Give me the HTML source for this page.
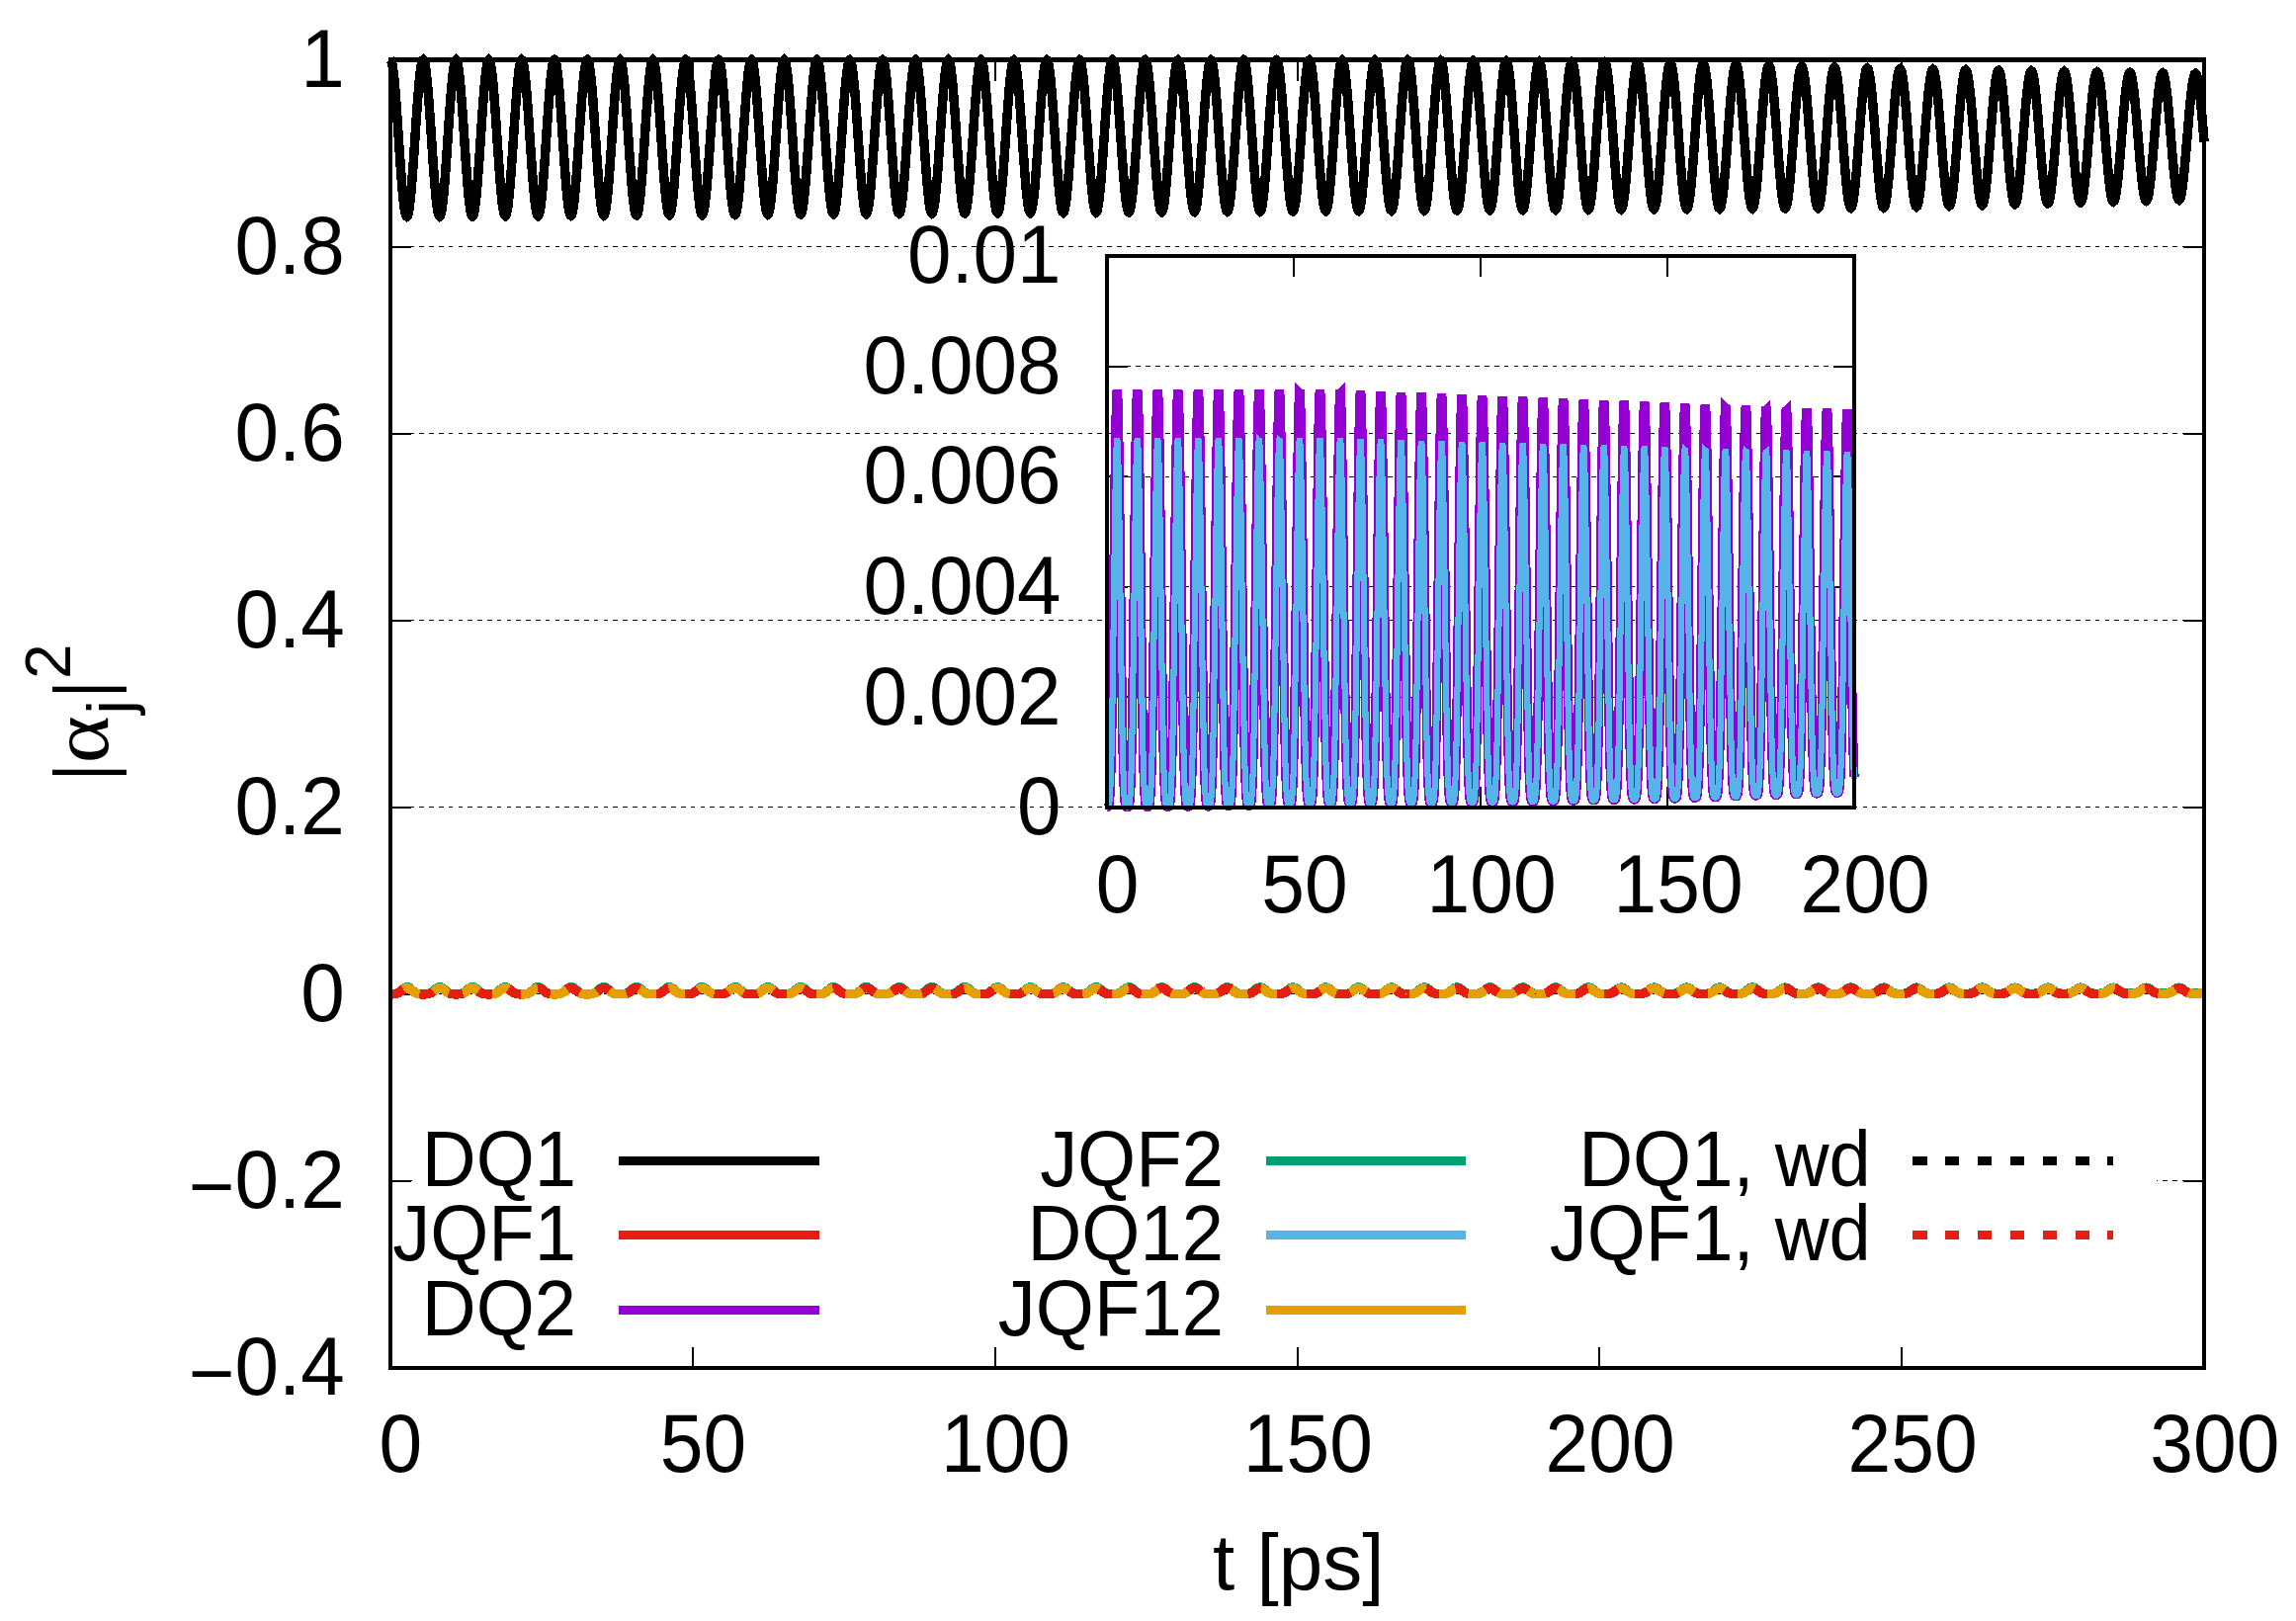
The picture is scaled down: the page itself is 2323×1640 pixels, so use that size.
<!DOCTYPE html>
<html lang="en"><head><meta charset="utf-8"><title>|alpha_j|^2 vs t</title>
<style>html,body{margin:0;padding:0;background:#fff}svg{display:block}text{font-family:"Liberation Sans", Arial, Helvetica, sans-serif;fill:#000}.t{font-size:80px}.k{font-size:76px}.s{font-size:64px}.g{stroke:#000;stroke-width:1;stroke-dasharray:4.6 5.2;fill:none}.tk{stroke:#000;stroke-width:2;fill:none}.c{fill:none;stroke-width:9.5;stroke-linejoin:miter;stroke-miterlimit:3.8;stroke-linecap:butt;shape-rendering:crispEdges}</style></head><body>
<svg width="2323" height="1640" viewBox="0 0 2323 1640" shape-rendering="crispEdges">
<rect x="0" y="0" width="2323" height="1640" fill="#ffffff"/>
<g class="g">
<line x1="395.0" y1="249.5" x2="2230.1" y2="249.5"/>
<line x1="395.0" y1="438.6" x2="2230.1" y2="438.6"/>
<line x1="395.0" y1="627.6" x2="2230.1" y2="627.6"/>
<line x1="395.0" y1="816.7" x2="2230.1" y2="816.7"/>
<line x1="395.0" y1="1005.8" x2="2230.1" y2="1005.8"/>
<line x1="395.0" y1="1194.8" x2="2230.1" y2="1194.8"/>
</g>
<rect x="417" y="1150" width="1765" height="90" fill="#ffffff"/>
<g class="tk">
<line x1="395.0" y1="249.5" x2="416.0" y2="249.5"/>
<line x1="2230.1" y1="249.5" x2="2209.1" y2="249.5"/>
<line x1="395.0" y1="438.6" x2="416.0" y2="438.6"/>
<line x1="2230.1" y1="438.6" x2="2209.1" y2="438.6"/>
<line x1="395.0" y1="627.6" x2="416.0" y2="627.6"/>
<line x1="2230.1" y1="627.6" x2="2209.1" y2="627.6"/>
<line x1="395.0" y1="816.7" x2="416.0" y2="816.7"/>
<line x1="2230.1" y1="816.7" x2="2209.1" y2="816.7"/>
<line x1="395.0" y1="1005.8" x2="416.0" y2="1005.8"/>
<line x1="2230.1" y1="1005.8" x2="2209.1" y2="1005.8"/>
<line x1="395.0" y1="1194.8" x2="416.0" y2="1194.8"/>
<line x1="2230.1" y1="1194.8" x2="2209.1" y2="1194.8"/>
<line x1="700.8" y1="1383.9" x2="700.8" y2="1362.9"/>
<line x1="700.8" y1="60.5" x2="700.8" y2="81.5"/>
<line x1="1006.7" y1="1383.9" x2="1006.7" y2="1362.9"/>
<line x1="1006.7" y1="60.5" x2="1006.7" y2="81.5"/>
<line x1="1312.5" y1="1383.9" x2="1312.5" y2="1362.9"/>
<line x1="1312.5" y1="60.5" x2="1312.5" y2="81.5"/>
<line x1="1618.4" y1="1383.9" x2="1618.4" y2="1362.9"/>
<line x1="1618.4" y1="60.5" x2="1618.4" y2="81.5"/>
<line x1="1924.2" y1="1383.9" x2="1924.2" y2="1362.9"/>
<line x1="1924.2" y1="60.5" x2="1924.2" y2="81.5"/>
</g>
<g class="c">
<polyline stroke="#000000" points="395.00,60.45 395.61,60.99 396.23,62.59 396.84,65.23 397.46,68.89 398.07,73.50 398.69,79.00 399.30,85.33 399.92,92.40 400.53,100.10 401.15,108.34 401.76,117.00 402.38,125.97 402.99,135.13 403.61,144.35 404.22,153.50 404.84,162.47 405.45,171.13 406.07,179.37 406.68,187.07 407.30,194.13 407.91,200.45 408.53,205.95 409.14,210.56 409.76,214.21 410.37,216.84 410.99,218.44 411.60,218.97 412.22,218.43 412.83,216.83 413.45,214.18 414.06,210.53 414.68,205.92 415.29,200.41 415.91,194.08 416.52,187.02 417.14,179.32 417.75,171.08 418.37,162.42 418.98,153.45 419.60,144.30 420.21,135.08 420.83,125.93 421.44,116.97 422.06,108.31 422.67,100.07 423.29,92.38 423.90,85.32 424.52,79.00 425.13,73.50 425.75,68.89 426.36,65.24 426.98,62.60 427.59,61.00 428.21,60.47 428.82,61.00 429.44,62.60 430.05,65.24 430.66,68.89 431.28,73.49 431.89,78.99 432.51,85.31 433.12,92.37 433.74,100.06 434.35,108.29 434.97,116.94 435.58,125.90 436.20,135.04 436.81,144.25 437.43,153.39 438.04,162.35 438.66,171.00 439.27,179.22 439.89,186.91 440.50,193.96 441.12,200.27 441.73,205.77 442.35,210.37 442.96,214.01 443.58,216.65 444.19,218.24 444.81,218.77 445.42,218.23 446.04,216.63 446.65,213.99 447.27,210.34 447.88,205.73 448.50,200.24 449.11,193.92 449.73,186.86 450.34,179.17 450.96,170.95 451.57,162.30 452.19,153.34 452.80,144.20 453.42,135.00 454.03,125.86 454.65,116.90 455.26,108.26 455.88,100.03 456.49,92.35 457.11,85.30 457.72,78.99 458.34,73.49 458.95,68.89 459.57,65.25 460.18,62.61 460.80,61.01 461.41,60.48 462.03,61.02 462.64,62.61 463.26,65.25 463.87,68.89 464.49,73.49 465.10,78.98 465.71,85.29 466.33,92.34 466.94,100.02 467.56,108.24 468.17,116.88 468.79,125.82 469.40,134.96 470.02,144.15 470.63,153.28 471.25,162.22 471.86,170.86 472.48,179.07 473.09,186.75 473.71,193.79 474.32,200.10 474.94,205.58 475.55,210.18 476.17,213.81 476.78,216.45 477.40,218.04 478.01,218.57 478.63,218.03 479.24,216.43 479.86,213.79 480.47,210.15 481.09,205.55 481.70,200.06 482.32,193.75 482.93,186.71 483.55,179.03 484.16,170.81 484.78,162.17 485.39,153.23 486.01,144.10 486.62,134.91 487.24,125.78 487.85,116.84 488.47,108.21 489.08,100.00 489.70,92.32 490.31,85.28 490.93,78.98 491.54,73.49 492.16,68.90 492.77,65.26 493.39,62.62 494.00,61.03 494.62,60.50 495.23,61.03 495.85,62.62 496.46,65.26 497.08,68.90 497.69,73.49 498.31,78.97 498.92,85.28 499.53,92.31 500.15,99.98 500.76,108.19 501.38,116.82 501.99,125.75 502.61,134.87 503.22,144.05 503.84,153.17 504.45,162.10 505.07,170.72 505.68,178.93 506.30,186.59 506.91,193.62 507.53,199.92 508.14,205.40 508.76,209.99 509.37,213.62 509.99,216.25 510.60,217.84 511.22,218.37 511.83,217.83 512.45,216.23 513.06,213.60 513.68,209.96 514.29,205.37 514.91,199.88 515.52,193.58 516.14,186.55 516.75,178.88 517.37,170.67 517.98,162.05 518.60,153.12 519.21,144.00 519.83,134.82 520.44,125.71 521.06,116.78 521.67,108.16 522.29,99.96 522.90,92.29 523.52,85.26 524.13,78.97 524.75,73.49 525.36,68.90 525.98,65.27 526.59,62.64 527.21,61.04 527.82,60.51 528.44,61.04 529.05,62.64 529.67,65.27 530.28,68.90 530.90,73.49 531.51,78.96 532.13,85.26 532.74,92.28 533.36,99.94 533.97,108.14 534.58,116.75 535.20,125.68 535.81,134.78 536.43,143.95 537.04,153.05 537.66,161.97 538.27,170.59 538.89,178.78 539.50,186.44 540.12,193.46 540.73,199.74 541.35,205.22 541.96,209.80 542.58,213.42 543.19,216.05 543.81,217.64 544.42,218.17 545.04,217.63 545.65,216.03 546.27,213.40 546.88,209.77 547.50,205.18 548.11,199.71 548.73,193.41 549.34,186.39 549.96,178.73 550.57,170.54 551.19,161.92 551.80,153.01 552.42,143.90 553.03,134.74 553.65,125.63 554.26,116.72 554.88,108.11 555.49,99.92 556.11,92.26 556.72,85.24 557.34,78.96 557.95,73.48 558.57,68.90 559.18,65.28 559.80,62.65 560.41,61.06 561.03,60.53 561.64,61.06 562.26,62.65 562.87,65.28 563.49,68.90 564.10,73.48 564.72,78.95 565.33,85.24 565.95,92.25 566.56,99.90 567.18,108.09 567.79,116.69 568.41,125.60 569.02,134.69 569.63,143.85 570.25,152.94 570.86,161.85 571.48,170.45 572.09,178.63 572.71,186.28 573.32,193.29 573.94,199.57 574.55,205.03 575.17,209.61 575.78,213.23 576.40,215.85 577.01,217.44 577.63,217.96 578.24,217.43 578.86,215.84 579.47,213.21 580.09,209.58 580.70,205.00 581.32,199.53 581.93,193.25 582.55,186.23 583.16,178.58 583.78,170.40 584.39,161.80 585.01,152.89 585.62,143.80 586.24,134.65 586.85,125.56 587.47,116.65 588.08,108.06 588.70,99.88 589.31,92.23 589.93,85.22 590.54,78.95 591.16,73.48 591.77,68.91 592.39,65.28 593.00,62.66 593.62,61.07 594.23,60.54 594.85,61.07 595.46,62.66 596.08,65.28 596.69,68.91 597.31,73.48 597.92,78.94 598.54,85.22 599.15,92.22 599.77,99.86 600.38,108.04 601.00,116.63 601.61,125.53 602.23,134.61 602.84,143.75 603.46,152.83 604.07,161.73 604.68,170.32 605.30,178.48 605.91,186.12 606.53,193.12 607.14,199.39 607.76,204.85 608.37,209.42 608.99,213.03 609.60,215.65 610.22,217.24 610.83,217.76 611.45,217.23 612.06,215.64 612.68,213.01 613.29,209.39 613.91,204.81 614.52,199.35 615.14,193.08 615.75,186.07 616.37,178.43 616.98,170.27 617.60,161.68 618.21,152.78 618.83,143.70 619.44,134.56 620.06,125.48 620.67,116.59 621.29,108.00 621.90,99.84 622.52,92.20 623.13,85.20 623.75,78.93 624.36,73.48 624.98,68.91 625.59,65.29 626.21,62.67 626.82,61.09 627.44,60.56 628.05,61.09 628.67,62.67 629.28,65.29 629.90,68.91 630.51,73.48 631.13,78.93 631.74,85.20 632.36,92.20 632.97,99.83 633.59,107.99 634.20,116.57 634.82,125.45 635.43,134.52 636.05,143.65 636.66,152.72 637.28,161.60 637.89,170.18 638.51,178.34 639.12,185.96 639.73,192.95 640.35,199.22 640.96,204.66 641.58,209.23 642.19,212.84 642.81,215.45 643.42,217.03 644.04,217.56 644.65,217.03 645.27,215.44 645.88,212.82 646.50,209.20 647.11,204.63 647.73,199.18 648.34,192.91 648.96,185.92 649.57,178.29 650.19,170.13 650.80,161.55 651.42,152.67 652.03,143.60 652.65,134.48 653.26,125.41 653.88,116.53 654.49,107.95 655.11,99.80 655.72,92.18 656.34,85.19 656.95,78.92 657.57,73.48 658.18,68.91 658.80,65.30 659.41,62.68 660.03,61.10 660.64,60.57 661.26,61.10 661.87,62.69 662.49,65.30 663.10,68.91 663.72,73.48 664.33,78.92 664.95,85.18 665.56,92.17 666.18,99.79 666.79,107.94 667.41,116.50 668.02,125.38 668.64,134.43 669.25,143.55 669.87,152.61 670.48,161.48 671.10,170.04 671.71,178.19 672.33,185.80 672.94,192.79 673.55,199.04 674.17,204.48 674.78,209.04 675.40,212.64 676.01,215.25 676.63,216.83 677.24,217.36 677.86,216.83 678.47,215.24 679.09,212.62 679.70,209.01 680.32,204.45 680.93,199.00 681.55,192.74 682.16,185.76 682.78,178.14 683.39,169.99 684.01,161.43 684.62,152.56 685.24,143.50 685.85,134.39 686.47,125.34 687.08,116.47 687.70,107.90 688.31,99.76 688.93,92.15 689.54,85.17 690.16,78.91 690.77,73.47 691.39,68.92 692.00,65.31 692.62,62.70 693.23,61.12 693.85,60.59 694.46,61.12 695.08,62.70 695.69,65.31 696.31,68.92 696.92,73.47 697.54,78.91 698.15,85.16 698.77,92.14 699.38,99.75 700.00,107.89 700.61,116.44 701.23,125.30 701.84,134.35 702.46,143.45 703.07,152.49 703.69,161.35 704.30,169.91 704.92,178.04 705.53,185.65 706.15,192.62 706.76,198.86 707.38,204.30 707.99,208.84 708.60,212.45 709.22,215.05 709.83,216.63 710.45,217.16 711.06,216.62 711.68,215.04 712.29,212.43 712.91,208.82 713.52,204.26 714.14,198.82 714.75,192.57 715.37,185.60 715.98,177.99 716.60,169.86 717.21,161.30 717.83,152.44 718.44,143.40 719.06,134.30 719.67,125.26 720.29,116.41 720.90,107.85 721.52,99.72 722.13,92.12 722.75,85.15 723.36,78.90 723.98,73.47 724.59,68.92 725.21,65.32 725.82,62.71 726.44,61.13 727.05,60.60 727.67,61.13 728.28,62.71 728.90,65.32 729.51,68.92 730.13,73.47 730.74,78.90 731.36,85.14 731.97,92.11 732.59,99.71 733.20,107.83 733.82,116.38 734.43,125.23 735.05,134.26 735.66,143.35 736.28,152.38 736.89,161.23 737.51,169.77 738.12,177.89 738.74,185.49 739.35,192.45 739.97,198.69 740.58,204.11 741.20,208.65 741.81,212.25 742.43,214.86 743.04,216.43 743.65,216.96 744.27,216.42 744.88,214.84 745.50,212.23 746.11,208.63 746.73,204.08 747.34,198.65 747.96,192.41 748.57,185.44 749.19,177.84 749.80,169.72 750.42,161.18 751.03,152.33 751.65,143.30 752.26,134.21 752.88,125.19 753.49,116.34 754.11,107.80 754.72,99.68 755.34,92.09 755.95,85.13 756.57,78.89 757.18,73.47 757.80,68.93 758.41,65.33 759.03,62.72 759.64,61.14 760.26,60.62 760.87,61.14 761.49,62.72 762.10,65.33 762.72,68.93 763.33,73.47 763.95,78.89 764.56,85.12 765.18,92.08 765.79,99.67 766.41,107.78 767.02,116.32 767.64,125.15 768.25,134.17 768.87,143.25 769.48,152.27 770.10,161.10 770.71,169.63 771.33,177.75 771.94,185.33 772.56,192.28 773.17,198.51 773.79,203.93 774.40,208.46 775.02,212.06 775.63,214.66 776.25,216.23 776.86,216.75 777.48,216.22 778.09,214.64 778.70,212.03 779.32,208.44 779.93,203.89 780.55,198.47 781.16,192.24 781.78,185.28 782.39,177.70 783.01,169.58 783.62,161.05 784.24,152.22 784.85,143.20 785.47,134.13 786.08,125.11 786.70,116.28 787.31,107.75 787.93,99.64 788.54,92.06 789.16,85.11 789.77,78.88 790.39,73.47 791.00,68.93 791.62,65.34 792.23,62.73 792.85,61.16 793.46,60.63 794.08,61.16 794.69,62.73 795.31,65.34 795.92,68.93 796.54,73.46 797.15,78.88 797.77,85.11 798.38,92.05 799.00,99.63 799.61,107.73 800.23,116.26 800.84,125.08 801.46,134.09 802.07,143.15 802.69,152.16 803.30,160.98 803.92,169.50 804.53,177.60 805.15,185.17 805.76,192.11 806.38,198.33 806.99,203.74 807.61,208.27 808.22,211.86 808.84,214.46 809.45,216.03 810.07,216.55 810.68,216.02 811.30,214.44 811.91,211.84 812.53,208.25 813.14,203.71 813.75,198.29 814.37,192.07 814.98,185.12 815.60,177.55 816.21,169.45 816.83,160.93 817.44,152.11 818.06,143.10 818.67,134.04 819.29,125.04 819.90,116.22 820.52,107.70 821.13,99.60 821.75,92.03 822.36,85.09 822.98,78.87 823.59,73.46 824.21,68.93 824.82,65.34 825.44,62.75 826.05,61.17 826.67,60.65 827.28,61.17 827.90,62.75 828.51,65.34 829.13,68.93 829.74,73.46 830.36,78.87 830.97,85.09 831.59,92.02 832.20,99.59 832.82,107.68 833.43,116.19 834.05,125.00 834.66,134.00 835.28,143.05 835.89,152.05 836.51,160.85 837.12,169.36 837.74,177.45 838.35,185.01 838.97,191.95 839.58,198.16 840.20,203.56 840.81,208.08 841.43,211.67 842.04,214.26 842.66,215.83 843.27,216.35 843.89,215.82 844.50,214.24 845.12,211.64 845.73,208.06 846.35,203.53 846.96,198.12 847.57,191.90 848.19,184.97 848.80,177.40 849.42,169.31 850.03,160.80 850.65,152.00 851.26,143.00 851.88,133.95 852.49,124.96 853.11,116.16 853.72,107.65 854.34,99.56 854.95,92.00 855.57,85.07 856.18,78.86 856.80,73.46 857.41,68.94 858.03,65.35 858.64,62.76 859.26,61.19 859.87,60.66 860.49,61.19 861.10,62.76 861.72,65.35 862.33,68.94 862.95,73.46 863.56,78.86 864.18,85.07 864.79,92.00 865.41,99.55 866.02,107.63 866.64,116.13 867.25,124.93 867.87,133.91 868.48,142.95 869.10,151.93 869.71,160.73 870.33,169.22 870.94,177.30 871.56,184.85 872.17,191.78 872.79,197.98 873.40,203.38 874.02,207.89 874.63,211.47 875.25,214.06 875.86,215.63 876.48,216.15 877.09,215.62 877.71,214.05 878.32,211.45 878.94,207.87 879.55,203.34 880.17,197.94 880.78,191.73 881.40,184.81 882.01,177.25 882.62,169.17 883.24,160.68 883.85,151.88 884.47,142.90 885.08,133.87 885.70,124.89 886.31,116.09 886.93,107.60 887.54,99.53 888.16,91.98 888.77,85.05 889.39,78.85 890.00,73.46 890.62,68.94 891.23,65.36 891.85,62.77 892.46,61.20 893.08,60.68 893.69,61.20 894.31,62.77 894.92,65.36 895.54,68.94 896.15,73.46 896.77,78.85 897.38,85.05 898.00,91.97 898.61,99.51 899.23,107.58 899.84,116.07 900.46,124.86 901.07,133.82 901.69,142.85 902.30,151.82 902.92,160.61 903.53,169.09 904.15,177.16 904.76,184.70 905.38,191.61 905.99,197.80 906.61,203.19 907.22,207.70 907.84,211.28 908.45,213.86 909.07,215.43 909.68,215.95 910.30,215.42 910.91,213.85 911.53,211.25 912.14,207.67 912.76,203.16 913.37,197.76 913.99,191.57 914.60,184.65 915.22,177.11 915.83,169.04 916.45,160.55 917.06,151.77 917.67,142.80 918.29,133.78 918.90,124.81 919.52,116.03 920.13,107.55 920.75,99.49 921.36,91.95 921.98,85.03 922.59,78.84 923.21,73.45 923.82,68.94 924.44,65.37 925.05,62.78 925.67,61.22 926.28,60.69 926.90,61.22 927.51,62.78 928.13,65.37 928.74,68.94 929.36,73.45 929.97,78.84 930.59,85.03 931.20,91.94 931.82,99.47 932.43,107.53 933.05,116.01 933.66,124.78 934.28,133.74 934.89,142.75 935.51,151.71 936.12,160.48 936.74,168.95 937.35,177.01 937.97,184.54 938.58,191.44 939.20,197.63 939.81,203.01 940.43,207.51 941.04,211.08 941.66,213.66 942.27,215.22 942.89,215.74 943.50,215.22 944.12,213.65 944.73,211.06 945.35,207.48 945.96,202.97 946.58,197.59 947.19,191.40 947.81,184.49 948.42,176.96 949.04,168.90 949.65,160.43 950.27,151.66 950.88,142.71 951.50,133.69 952.11,124.74 952.72,115.97 953.34,107.50 953.95,99.45 954.57,91.92 955.18,85.02 955.80,78.83 956.41,73.45 957.03,68.95 957.64,65.38 958.26,62.79 958.87,61.23 959.49,60.71 960.10,61.23 960.72,62.80 961.33,65.38 961.95,68.95 962.56,73.45 963.18,78.83 963.79,85.01 964.41,91.91 965.02,99.43 965.64,107.48 966.25,115.94 966.87,124.71 967.48,133.65 968.10,142.65 968.71,151.60 969.33,160.36 969.94,168.82 970.56,176.86 971.17,184.38 971.79,191.28 972.40,197.45 973.02,202.82 973.63,207.32 974.25,210.88 974.86,213.46 975.48,215.02 976.09,215.54 976.71,215.02 977.32,213.45 977.94,210.86 978.55,207.29 979.17,202.79 979.78,197.41 980.40,191.23 981.01,184.33 981.63,176.81 982.24,168.77 982.86,160.31 983.47,151.55 984.09,142.61 984.70,133.60 985.32,124.66 985.93,115.91 986.55,107.45 987.16,99.41 987.77,91.89 988.39,85.00 989.00,78.82 989.62,73.45 990.23,68.95 990.85,65.39 991.46,62.81 992.08,61.24 992.69,60.72 993.31,61.25 993.92,62.81 994.54,65.39 995.15,68.95 995.77,73.45 996.38,78.82 997.00,84.99 997.61,91.88 998.23,99.40 998.84,107.43 999.46,115.88 1000.07,124.63 1000.69,133.56 1001.30,142.55 1001.92,151.48 1002.53,160.23 1003.15,168.68 1003.76,176.71 1004.38,184.22 1004.99,191.11 1005.61,197.27 1006.22,202.64 1006.84,207.13 1007.45,210.69 1008.07,213.26 1008.68,214.82 1009.30,215.34 1009.91,214.81 1010.53,213.25 1011.14,210.67 1011.76,207.10 1012.37,202.61 1012.99,197.24 1013.60,191.06 1014.22,184.18 1014.83,176.66 1015.45,168.63 1016.06,160.18 1016.68,151.43 1017.29,142.51 1017.91,133.52 1018.52,124.59 1019.14,115.85 1019.75,107.40 1020.37,99.37 1020.98,91.86 1021.59,84.98 1022.21,78.81 1022.82,73.45 1023.44,68.95 1024.05,65.40 1024.67,62.82 1025.28,61.26 1025.90,60.74 1026.51,61.26 1027.13,62.82 1027.74,65.40 1028.36,68.95 1028.97,73.45 1029.59,78.81 1030.20,84.97 1030.82,91.85 1031.43,99.36 1032.05,107.38 1032.66,115.82 1033.28,124.56 1033.89,133.48 1034.51,142.45 1035.12,151.37 1035.74,160.11 1036.35,168.54 1036.97,176.56 1037.58,184.06 1038.20,190.94 1038.81,197.10 1039.43,202.46 1040.04,206.94 1040.66,210.49 1041.27,213.07 1041.89,214.62 1042.50,215.14 1043.12,214.61 1043.73,213.05 1044.35,210.47 1044.96,206.91 1045.58,202.42 1046.19,197.06 1046.81,190.90 1047.42,184.02 1048.04,176.52 1048.65,168.49 1049.27,160.06 1049.88,151.32 1050.50,142.41 1051.11,133.43 1051.73,124.52 1052.34,115.78 1052.96,107.35 1053.57,99.33 1054.19,91.83 1054.80,84.96 1055.42,78.80 1056.03,73.44 1056.64,68.96 1057.26,65.40 1057.87,62.83 1058.49,61.27 1059.10,60.75 1059.72,61.27 1060.33,62.83 1060.95,65.40 1061.56,68.96 1062.18,73.44 1062.79,78.80 1063.41,84.95 1064.02,91.82 1064.64,99.32 1065.25,107.33 1065.87,115.76 1066.48,124.48 1067.10,133.39 1067.71,142.35 1068.33,151.26 1068.94,159.98 1069.56,168.41 1070.17,176.42 1070.79,183.91 1071.40,190.77 1072.02,196.92 1072.63,202.27 1073.25,206.75 1073.86,210.30 1074.48,212.87 1075.09,214.42 1075.71,214.94 1076.32,214.41 1076.94,212.85 1077.55,210.28 1078.17,206.72 1078.78,202.24 1079.40,196.88 1080.01,190.73 1080.63,183.86 1081.24,176.37 1081.86,168.36 1082.47,159.93 1083.09,151.21 1083.70,142.31 1084.32,133.34 1084.93,124.44 1085.55,115.72 1086.16,107.30 1086.78,99.29 1087.39,91.80 1088.01,84.94 1088.62,78.79 1089.24,73.44 1089.85,68.96 1090.47,65.41 1091.08,62.84 1091.69,61.29 1092.31,60.77 1092.92,61.29 1093.54,62.84 1094.15,65.41 1094.77,68.96 1095.38,73.44 1096.00,78.79 1096.61,84.93 1097.23,91.80 1097.84,99.28 1098.46,107.28 1099.07,115.70 1099.69,124.41 1100.30,133.30 1100.92,142.25 1101.53,151.15 1102.15,159.86 1102.76,168.27 1103.38,176.27 1103.99,183.75 1104.61,190.60 1105.22,196.74 1105.84,202.09 1106.45,206.56 1107.07,210.10 1107.68,212.67 1108.30,214.22 1108.91,214.74 1109.53,214.21 1110.14,212.65 1110.76,210.08 1111.37,206.53 1111.99,202.05 1112.60,196.71 1113.22,190.56 1113.83,183.70 1114.45,176.22 1115.06,168.22 1115.68,159.81 1116.29,151.10 1116.91,142.21 1117.52,133.26 1118.14,124.37 1118.75,115.66 1119.37,107.25 1119.98,99.25 1120.60,91.78 1121.21,84.92 1121.83,78.78 1122.44,73.44 1123.06,68.96 1123.67,65.42 1124.29,62.86 1124.90,61.30 1125.52,60.78 1126.13,61.30 1126.74,62.86 1127.36,65.42 1127.97,68.96 1128.59,73.44 1129.20,78.78 1129.82,84.92 1130.43,91.77 1131.05,99.24 1131.66,107.23 1132.28,115.63 1132.89,124.33 1133.51,133.21 1134.12,142.16 1134.74,151.04 1135.35,159.73 1135.97,168.13 1136.58,176.12 1137.20,183.59 1137.81,190.44 1138.43,196.57 1139.04,201.90 1139.66,206.37 1140.27,209.91 1140.89,212.47 1141.50,214.02 1142.12,214.53 1142.73,214.01 1143.35,212.45 1143.96,209.89 1144.58,206.34 1145.19,201.87 1145.81,196.53 1146.42,190.39 1147.04,183.54 1147.65,176.07 1148.27,168.08 1148.88,159.68 1149.50,150.99 1150.11,142.11 1150.73,133.17 1151.34,124.29 1151.96,115.60 1152.57,107.20 1153.19,99.21 1153.80,91.75 1154.42,84.90 1155.03,78.77 1155.65,73.43 1156.26,68.97 1156.88,65.43 1157.49,62.87 1158.11,61.32 1158.72,60.80 1159.34,61.32 1159.95,62.87 1160.57,65.43 1161.18,68.97 1161.79,73.43 1162.41,78.77 1163.02,84.90 1163.64,91.74 1164.25,99.20 1164.87,107.18 1165.48,115.57 1166.10,124.26 1166.71,133.13 1167.33,142.06 1167.94,150.92 1168.56,159.61 1169.17,168.00 1169.79,175.97 1170.40,183.43 1171.02,190.27 1171.63,196.39 1172.25,201.72 1172.86,206.18 1173.48,209.71 1174.09,212.27 1174.71,213.82 1175.32,214.33 1175.94,213.81 1176.55,212.26 1177.17,209.69 1177.78,206.15 1178.40,201.69 1179.01,196.35 1179.63,190.22 1180.24,183.38 1180.86,175.93 1181.47,167.95 1182.09,159.56 1182.70,150.87 1183.32,142.01 1183.93,133.08 1184.55,124.22 1185.16,115.53 1185.78,107.15 1186.39,99.17 1187.01,91.72 1187.62,84.88 1188.24,78.76 1188.85,73.43 1189.47,68.97 1190.08,65.44 1190.70,62.88 1191.31,61.33 1191.93,60.81 1192.54,61.33 1193.16,62.88 1193.77,65.44 1194.39,68.97 1195.00,73.43 1195.61,78.76 1196.23,84.88 1196.84,91.71 1197.46,99.16 1198.07,107.13 1198.69,115.51 1199.30,124.18 1199.92,133.04 1200.53,141.96 1201.15,150.81 1201.76,159.48 1202.38,167.86 1202.99,175.83 1203.61,183.27 1204.22,190.10 1204.84,196.22 1205.45,201.54 1206.07,205.99 1206.68,209.52 1207.30,212.07 1207.91,213.62 1208.53,214.13 1209.14,213.61 1209.76,212.06 1210.37,209.50 1210.99,205.96 1211.60,201.50 1212.22,196.18 1212.83,190.06 1213.45,183.23 1214.06,175.78 1214.68,167.81 1215.29,159.43 1215.91,150.76 1216.52,141.91 1217.14,133.00 1217.75,124.14 1218.37,115.47 1218.98,107.10 1219.60,99.13 1220.21,91.69 1220.83,84.86 1221.44,78.75 1222.06,73.43 1222.67,68.97 1223.29,65.45 1223.90,62.89 1224.52,61.35 1225.13,60.83 1225.75,61.35 1226.36,62.89 1226.98,65.45 1227.59,68.98 1228.21,73.43 1228.82,78.75 1229.44,84.86 1230.05,91.68 1230.66,99.12 1231.28,107.08 1231.89,115.45 1232.51,124.11 1233.12,132.95 1233.74,141.86 1234.35,150.70 1234.97,159.36 1235.58,167.73 1236.20,175.68 1236.81,183.12 1237.43,189.93 1238.04,196.04 1238.66,201.35 1239.27,205.80 1239.89,209.32 1240.50,211.87 1241.12,213.41 1241.73,213.93 1242.35,213.41 1242.96,211.86 1243.58,209.30 1244.19,205.77 1244.81,201.32 1245.42,196.00 1246.04,189.89 1246.65,183.07 1247.27,175.63 1247.88,167.67 1248.50,159.31 1249.11,150.65 1249.73,141.81 1250.34,132.91 1250.96,124.07 1251.57,115.41 1252.19,107.05 1252.80,99.10 1253.42,91.66 1254.03,84.84 1254.65,78.74 1255.26,73.43 1255.88,68.98 1256.49,65.45 1257.11,62.90 1257.72,61.36 1258.34,60.84 1258.95,61.36 1259.57,62.90 1260.18,65.46 1260.80,68.98 1261.41,73.43 1262.03,78.74 1262.64,84.84 1263.26,91.65 1263.87,99.08 1264.49,107.03 1265.10,115.38 1265.71,124.04 1266.33,132.87 1266.94,141.76 1267.56,150.59 1268.17,159.24 1268.79,167.59 1269.40,175.53 1270.02,182.96 1270.63,189.76 1271.25,195.86 1271.86,201.17 1272.48,205.61 1273.09,209.13 1273.71,211.67 1274.32,213.21 1274.94,213.73 1275.55,213.21 1276.17,211.66 1276.78,209.11 1277.40,205.58 1278.01,201.13 1278.63,195.82 1279.24,189.72 1279.86,182.91 1280.47,175.48 1281.09,167.54 1281.70,159.19 1282.32,150.54 1282.93,141.71 1283.55,132.82 1284.16,123.99 1284.78,115.35 1285.39,107.00 1286.01,99.06 1286.62,91.63 1287.24,84.83 1287.85,78.73 1288.47,73.42 1289.08,68.98 1289.70,65.46 1290.31,62.92 1290.93,61.37 1291.54,60.86 1292.16,61.37 1292.77,62.92 1293.39,65.46 1294.00,68.98 1294.62,73.42 1295.23,78.73 1295.85,84.82 1296.46,91.62 1297.08,99.04 1297.69,106.98 1298.31,115.32 1298.92,123.96 1299.54,132.78 1300.15,141.66 1300.76,150.47 1301.38,159.11 1301.99,167.45 1302.61,175.38 1303.22,182.80 1303.84,189.60 1304.45,195.69 1305.07,200.98 1305.68,205.42 1306.30,208.93 1306.91,211.47 1307.53,213.01 1308.14,213.52 1308.76,213.00 1309.37,211.46 1309.99,208.91 1310.60,205.39 1311.22,200.95 1311.83,195.65 1312.45,189.55 1313.06,182.75 1313.68,175.34 1314.29,167.40 1314.91,159.06 1315.52,150.42 1316.14,141.61 1316.75,132.73 1317.37,123.92 1317.98,115.29 1318.60,106.95 1319.21,99.02 1319.83,91.60 1320.44,84.81 1321.06,78.72 1321.67,73.42 1322.29,68.99 1322.90,65.47 1323.52,62.93 1324.13,61.39 1324.75,60.87 1325.36,61.39 1325.98,62.93 1326.59,65.47 1327.21,68.99 1327.82,73.42 1328.44,78.72 1329.05,84.80 1329.67,91.60 1330.28,99.01 1330.90,106.93 1331.51,115.26 1332.13,123.89 1332.74,132.69 1333.36,141.56 1333.97,150.37 1334.59,158.99 1335.20,167.32 1335.81,175.24 1336.43,182.65 1337.04,189.43 1337.66,195.52 1338.27,200.81 1338.89,205.24 1339.50,208.74 1340.12,211.28 1340.73,212.82 1341.35,213.33 1341.96,212.81 1342.58,211.27 1343.19,208.72 1343.81,205.21 1344.42,200.77 1345.04,195.48 1345.65,189.39 1346.27,182.60 1346.88,175.19 1347.50,167.27 1348.11,158.94 1348.73,150.32 1349.34,141.51 1349.96,132.65 1350.57,123.85 1351.19,115.23 1351.80,106.90 1352.42,98.98 1353.03,91.58 1353.65,84.79 1354.26,78.71 1354.88,73.42 1355.49,68.99 1356.11,65.48 1356.72,62.94 1357.34,61.40 1357.95,60.89 1358.57,61.40 1359.18,62.94 1359.80,65.48 1360.41,68.99 1361.03,73.42 1361.64,78.71 1362.26,84.79 1362.87,91.57 1363.49,98.97 1364.10,106.88 1364.72,115.20 1365.33,123.82 1365.95,132.61 1366.56,141.47 1367.18,150.26 1367.79,158.87 1368.41,167.19 1369.02,175.10 1369.63,182.50 1370.25,189.28 1370.86,195.35 1371.48,200.63 1372.09,205.05 1372.71,208.56 1373.32,211.09 1373.94,212.63 1374.55,213.14 1375.17,212.62 1375.78,211.08 1376.40,208.54 1377.01,205.03 1377.63,200.60 1378.24,195.31 1378.86,189.23 1379.47,182.45 1380.09,175.05 1380.70,167.14 1381.32,158.82 1381.93,150.21 1382.55,141.42 1383.16,132.57 1383.78,123.78 1384.39,115.17 1385.01,106.85 1385.62,98.94 1386.24,91.55 1386.85,84.77 1387.47,78.70 1388.08,73.42 1388.70,68.99 1389.31,65.49 1389.93,62.95 1390.54,61.42 1391.16,60.90 1391.77,61.42 1392.39,62.95 1393.00,65.49 1393.62,68.99 1394.23,73.42 1394.85,78.70 1395.46,84.77 1396.08,91.54 1396.69,98.93 1397.31,106.83 1397.92,115.14 1398.54,123.75 1399.15,132.53 1399.77,141.37 1400.38,150.15 1401.00,158.75 1401.61,167.06 1402.23,174.96 1402.84,182.34 1403.46,189.12 1404.07,195.18 1404.68,200.46 1405.30,204.87 1405.91,208.37 1406.53,210.90 1407.14,212.44 1407.76,212.95 1408.37,212.43 1408.99,210.89 1409.60,208.35 1410.22,204.85 1410.83,200.42 1411.45,195.14 1412.06,189.07 1412.68,182.30 1413.29,174.91 1413.91,167.01 1414.52,158.71 1415.14,150.10 1415.75,141.33 1416.37,132.49 1416.98,123.71 1417.60,115.11 1418.21,106.80 1418.83,98.91 1419.44,91.52 1420.06,84.76 1420.67,78.69 1421.29,73.42 1421.90,69.00 1422.52,65.50 1423.13,62.97 1423.75,61.43 1424.36,60.92 1424.98,61.43 1425.59,62.97 1426.21,65.50 1426.82,69.00 1427.44,73.41 1428.05,78.69 1428.67,84.75 1429.28,91.52 1429.90,98.89 1430.51,106.79 1431.13,115.08 1431.74,123.68 1432.36,132.45 1432.97,141.28 1433.59,150.05 1434.20,158.64 1434.82,166.93 1435.43,174.82 1436.05,182.20 1436.66,188.96 1437.28,195.01 1437.89,200.28 1438.51,204.69 1439.12,208.19 1439.73,210.71 1440.35,212.24 1440.96,212.75 1441.58,212.24 1442.19,210.70 1442.81,208.17 1443.42,204.67 1444.04,200.26 1444.65,194.99 1445.27,188.93 1445.88,182.18 1446.50,174.81 1447.11,166.93 1447.73,158.64 1448.34,150.06 1448.96,141.31 1449.57,132.49 1450.19,123.74 1450.80,115.17 1451.42,106.89 1452.03,99.02 1452.65,91.66 1453.26,84.92 1453.88,78.88 1454.49,73.62 1455.11,69.22 1455.72,65.74 1456.34,63.22 1456.95,61.70 1457.57,61.20 1458.18,61.72 1458.80,63.25 1459.41,65.78 1460.03,69.28 1460.64,73.69 1461.26,78.95 1461.87,85.00 1462.49,91.74 1463.10,99.10 1463.72,106.97 1464.33,115.24 1464.95,123.81 1465.56,132.55 1466.18,141.35 1466.79,150.09 1467.41,158.65 1468.02,166.92 1468.64,174.78 1469.25,182.12 1469.87,188.86 1470.48,194.89 1471.10,200.14 1471.71,204.53 1472.33,208.01 1472.94,210.53 1473.56,212.05 1474.17,212.56 1474.78,212.05 1475.40,210.52 1476.01,207.99 1476.63,204.51 1477.24,200.11 1477.86,194.86 1478.47,188.83 1479.09,182.10 1479.70,174.76 1480.32,166.91 1480.93,158.66 1481.55,150.11 1482.16,141.39 1482.78,132.61 1483.39,123.90 1484.01,115.36 1484.62,107.11 1485.24,99.27 1485.85,91.94 1486.47,85.22 1487.08,79.21 1487.70,73.97 1488.31,69.59 1488.93,66.12 1489.54,63.61 1490.16,62.10 1490.77,61.59 1491.39,62.11 1492.00,63.64 1492.62,66.17 1493.23,69.65 1493.85,74.04 1494.46,79.28 1495.08,85.30 1495.69,92.02 1496.31,99.35 1496.92,107.19 1497.54,115.43 1498.15,123.96 1498.77,132.67 1499.38,141.44 1500.00,150.14 1500.61,158.67 1501.23,166.90 1501.84,174.73 1502.46,182.05 1503.07,188.76 1503.69,194.77 1504.30,200.00 1504.92,204.37 1505.53,207.84 1506.15,210.35 1506.76,211.86 1507.38,212.37 1507.99,211.86 1508.61,210.33 1509.22,207.82 1509.83,204.35 1510.45,199.97 1511.06,194.74 1511.68,188.73 1512.29,182.03 1512.91,174.72 1513.52,166.90 1514.14,158.68 1514.75,150.17 1515.37,141.48 1515.98,132.73 1516.60,124.05 1517.21,115.54 1517.83,107.33 1518.44,99.52 1519.06,92.22 1519.67,85.53 1520.29,79.54 1520.90,74.32 1521.52,69.96 1522.13,66.50 1522.75,64.00 1523.36,62.49 1523.98,61.99 1524.59,62.51 1525.21,64.03 1525.82,66.55 1526.44,70.01 1527.05,74.39 1527.67,79.61 1528.28,85.61 1528.90,92.30 1529.51,99.61 1530.13,107.41 1530.74,115.62 1531.36,124.12 1531.97,132.79 1532.59,141.52 1533.20,150.20 1533.82,158.69 1534.43,166.89 1535.05,174.69 1535.66,181.98 1536.28,188.66 1536.89,194.64 1537.51,199.85 1538.12,204.21 1538.74,207.66 1539.35,210.16 1539.97,211.67 1540.58,212.18 1541.20,211.67 1541.81,210.15 1542.43,207.64 1543.04,204.19 1543.65,199.83 1544.27,194.62 1544.88,188.63 1545.50,181.96 1546.11,174.67 1546.73,166.88 1547.34,158.70 1547.96,150.22 1548.57,141.57 1549.19,132.86 1549.80,124.21 1550.42,115.73 1551.03,107.55 1551.65,99.77 1552.26,92.50 1552.88,85.84 1553.49,79.87 1554.11,74.67 1554.72,70.33 1555.34,66.89 1555.95,64.40 1556.57,62.89 1557.18,62.39 1557.80,62.91 1558.41,64.42 1559.03,66.93 1559.64,70.38 1560.26,74.74 1560.87,79.94 1561.49,85.92 1562.10,92.58 1562.72,99.86 1563.33,107.63 1563.95,115.81 1564.56,124.27 1565.18,132.91 1565.79,141.61 1566.41,150.25 1567.02,158.71 1567.64,166.88 1568.25,174.64 1568.87,181.90 1569.48,188.56 1570.10,194.52 1570.71,199.71 1571.33,204.05 1571.94,207.49 1572.56,209.98 1573.17,211.48 1573.79,211.98 1574.40,211.47 1575.02,209.96 1575.63,207.47 1576.25,204.03 1576.86,199.68 1577.48,194.49 1578.09,188.53 1578.70,181.88 1579.32,174.63 1579.93,166.87 1580.55,158.71 1581.16,150.27 1581.78,141.65 1582.39,132.98 1583.01,124.36 1583.62,115.92 1584.24,107.77 1584.85,100.02 1585.47,92.78 1586.08,86.14 1586.70,80.20 1587.31,75.02 1587.93,70.69 1588.54,67.27 1589.16,64.79 1589.77,63.29 1590.39,62.79 1591.00,63.30 1591.62,64.82 1592.23,67.31 1592.85,70.75 1593.46,75.09 1594.08,80.27 1594.69,86.22 1595.31,92.86 1595.92,100.11 1596.54,107.85 1597.15,116.00 1597.77,124.43 1598.38,133.03 1599.00,141.70 1599.61,150.30 1600.23,158.73 1600.84,166.86 1601.46,174.60 1602.07,181.83 1602.69,188.46 1603.30,194.40 1603.92,199.56 1604.53,203.89 1605.15,207.31 1605.76,209.79 1606.38,211.29 1606.99,211.79 1607.61,211.28 1608.22,209.78 1608.84,207.29 1609.45,203.87 1610.07,199.54 1610.68,194.37 1611.30,188.43 1611.91,181.81 1612.53,174.58 1613.14,166.86 1613.75,158.73 1614.37,150.32 1614.98,141.74 1615.60,133.10 1616.21,124.51 1616.83,116.11 1617.44,107.99 1618.06,100.28 1618.67,93.06 1619.29,86.45 1619.90,80.53 1620.52,75.37 1621.13,71.06 1621.75,67.65 1622.36,65.18 1622.98,63.69 1623.59,63.19 1624.21,63.70 1624.82,65.21 1625.44,67.69 1626.05,71.12 1626.67,75.44 1627.28,80.60 1627.90,86.53 1628.51,93.14 1629.13,100.36 1629.74,108.07 1630.36,116.19 1630.97,124.58 1631.59,133.15 1632.20,141.78 1632.82,150.35 1633.43,158.74 1634.05,166.85 1634.66,174.55 1635.28,181.76 1635.89,188.36 1636.51,194.28 1637.12,199.42 1637.74,203.73 1638.35,207.14 1638.97,209.61 1639.58,211.10 1640.20,211.60 1640.81,211.09 1641.43,209.59 1642.04,207.12 1642.66,203.70 1643.27,199.39 1643.89,194.25 1644.50,188.33 1645.12,181.74 1645.73,174.54 1646.35,166.84 1646.96,158.75 1647.58,150.37 1648.19,141.82 1648.80,133.22 1649.42,124.67 1650.03,116.30 1650.65,108.21 1651.26,100.53 1651.88,93.34 1652.49,86.75 1653.11,80.86 1653.72,75.72 1654.34,71.43 1654.95,68.03 1655.57,65.57 1656.18,64.08 1656.80,63.59 1657.41,64.10 1658.03,65.60 1658.64,68.07 1659.26,71.48 1659.87,75.79 1660.49,80.93 1661.10,86.83 1661.72,93.42 1662.33,100.61 1662.95,108.29 1663.56,116.37 1664.18,124.74 1664.79,133.28 1665.41,141.87 1666.02,150.40 1666.64,158.76 1667.25,166.83 1667.87,174.51 1668.48,181.68 1669.10,188.26 1669.71,194.15 1670.33,199.28 1670.94,203.57 1671.56,206.96 1672.17,209.42 1672.79,210.91 1673.40,211.41 1674.02,210.90 1674.63,209.41 1675.25,206.95 1675.86,203.54 1676.48,199.25 1677.09,194.12 1677.71,188.24 1678.32,181.66 1678.94,174.49 1679.55,166.83 1680.17,158.77 1680.78,150.43 1681.40,141.91 1682.01,133.34 1682.63,124.82 1683.24,116.49 1683.85,108.43 1684.47,100.78 1685.08,93.62 1685.70,87.06 1686.31,81.19 1686.93,76.08 1687.54,71.80 1688.16,68.41 1688.77,65.96 1689.39,64.48 1690.00,63.99 1690.62,64.49 1691.23,65.99 1691.85,68.45 1692.46,71.85 1693.08,76.14 1693.69,81.26 1694.31,87.14 1694.92,93.70 1695.54,100.86 1696.15,108.52 1696.77,116.56 1697.38,124.89 1698.00,133.40 1698.61,141.95 1699.23,150.46 1699.84,158.78 1700.46,166.82 1701.07,174.46 1701.69,181.61 1702.30,188.16 1702.92,194.03 1703.53,199.13 1704.15,203.41 1704.76,206.79 1705.38,209.24 1705.99,210.72 1706.61,211.21 1707.22,210.71 1707.84,209.23 1708.45,206.77 1709.07,203.38 1709.68,199.11 1710.30,194.00 1710.91,188.14 1711.53,181.59 1712.14,174.46 1712.76,166.83 1713.37,158.81 1713.99,150.50 1714.60,142.03 1715.22,133.50 1715.83,125.03 1716.45,116.74 1717.06,108.73 1717.67,101.12 1718.29,94.00 1718.90,87.48 1719.52,81.64 1720.13,76.57 1720.75,72.32 1721.36,68.96 1721.98,66.53 1722.59,65.07 1723.21,64.59 1723.82,65.10 1724.44,66.60 1725.05,69.06 1725.67,72.45 1726.28,76.72 1726.90,81.82 1727.51,87.67 1728.13,94.21 1728.74,101.33 1729.36,108.94 1729.97,116.95 1730.59,125.23 1731.20,133.69 1731.82,142.20 1732.43,150.65 1733.05,158.93 1733.66,166.92 1734.28,174.51 1734.89,181.61 1735.51,188.12 1736.12,193.95 1736.74,199.02 1737.35,203.27 1737.97,206.63 1738.58,209.06 1739.20,210.53 1739.81,211.02 1740.43,210.52 1741.04,209.05 1741.66,206.61 1742.27,203.25 1742.89,199.00 1743.50,193.94 1744.12,188.12 1744.73,181.62 1745.35,174.54 1745.96,166.97 1746.58,159.01 1747.19,150.77 1747.81,142.36 1748.42,133.89 1749.04,125.49 1749.65,117.25 1750.27,109.31 1750.88,101.75 1751.50,94.69 1752.11,88.22 1752.72,82.43 1753.34,77.39 1753.95,73.17 1754.57,69.84 1755.18,67.43 1755.80,65.98 1756.41,65.50 1757.03,66.01 1757.64,67.49 1758.26,69.93 1758.87,73.30 1759.49,77.54 1760.10,82.60 1760.72,88.41 1761.33,94.89 1761.95,101.96 1762.56,109.52 1763.18,117.46 1763.79,125.69 1764.41,134.08 1765.02,142.53 1765.64,150.91 1766.25,159.13 1766.87,167.06 1767.48,174.60 1768.10,181.64 1768.71,188.10 1769.33,193.89 1769.94,198.92 1770.56,203.13 1771.17,206.47 1771.79,208.88 1772.40,210.34 1773.02,210.83 1773.63,210.34 1774.25,208.87 1774.86,206.45 1775.48,203.11 1776.09,198.90 1776.71,193.87 1777.32,188.10 1777.94,181.65 1778.55,174.62 1779.17,167.11 1779.78,159.21 1780.40,151.03 1781.01,142.68 1781.63,134.28 1782.24,125.94 1782.86,117.77 1783.47,109.88 1784.09,102.39 1784.70,95.38 1785.32,88.96 1785.93,83.21 1786.55,78.21 1787.16,74.02 1787.77,70.71 1788.39,68.32 1789.00,66.88 1789.62,66.41 1790.23,66.92 1790.85,68.39 1791.46,70.81 1792.08,74.15 1792.69,78.36 1793.31,83.38 1793.92,89.15 1794.54,95.58 1795.15,102.60 1795.77,110.10 1796.38,117.98 1797.00,126.14 1797.61,134.47 1798.23,142.85 1798.84,151.18 1799.46,159.33 1800.07,167.20 1800.69,174.68 1801.30,181.67 1801.92,188.08 1802.53,193.83 1803.15,198.82 1803.76,203.00 1804.38,206.31 1804.99,208.71 1805.61,210.15 1806.22,210.64 1806.84,210.15 1807.45,208.69 1808.07,206.29 1808.68,202.98 1809.30,198.80 1809.91,193.81 1810.53,188.08 1811.14,181.68 1811.76,174.71 1812.37,167.25 1812.99,159.41 1813.60,151.29 1814.22,143.01 1814.83,134.67 1815.45,126.39 1816.06,118.29 1816.68,110.46 1817.29,103.02 1817.91,96.07 1818.52,89.69 1819.14,83.99 1819.75,79.03 1820.37,74.88 1820.98,71.59 1821.60,69.22 1822.21,67.79 1822.82,67.32 1823.44,67.82 1824.05,69.28 1824.67,71.69 1825.28,75.00 1825.90,79.18 1826.51,84.16 1827.13,89.89 1827.74,96.27 1828.36,103.23 1828.97,110.67 1829.59,118.50 1830.20,126.60 1830.82,134.86 1831.43,143.18 1832.05,151.44 1832.66,159.53 1833.28,167.34 1833.89,174.76 1834.51,181.70 1835.12,188.06 1835.74,193.76 1836.35,198.72 1836.97,202.87 1837.58,206.15 1838.20,208.53 1838.81,209.97 1839.43,210.44 1840.04,209.96 1840.66,208.51 1841.27,206.13 1841.89,202.85 1842.50,198.70 1843.12,193.75 1843.73,188.06 1844.35,181.71 1844.96,174.79 1845.58,167.39 1846.19,159.61 1846.81,151.56 1847.42,143.34 1848.04,135.06 1848.65,126.85 1849.27,118.80 1849.88,111.04 1850.50,103.66 1851.11,96.76 1851.73,90.43 1852.34,84.77 1852.96,79.85 1853.57,75.73 1854.19,72.47 1854.80,70.11 1855.42,68.70 1856.03,68.23 1856.65,68.73 1857.26,70.18 1857.87,72.57 1858.49,75.85 1859.10,80.00 1859.72,84.94 1860.33,90.62 1860.95,96.96 1861.56,103.87 1862.18,111.25 1862.79,119.02 1863.41,127.05 1864.02,135.25 1864.64,143.51 1865.25,151.70 1865.87,159.73 1866.48,167.48 1867.10,174.85 1867.71,181.73 1868.33,188.05 1868.94,193.70 1869.56,198.62 1870.17,202.73 1870.79,205.99 1871.40,208.35 1872.02,209.78 1872.63,210.25 1873.25,209.77 1873.86,208.34 1874.48,205.97 1875.09,202.71 1875.71,198.60 1876.32,193.68 1876.94,188.04 1877.55,181.74 1878.17,174.87 1878.78,167.53 1879.40,159.81 1880.01,151.82 1880.63,143.66 1881.24,135.46 1881.86,127.30 1882.47,119.32 1883.09,111.62 1883.70,104.29 1884.32,97.44 1884.93,91.17 1885.55,85.55 1886.16,80.67 1886.78,76.58 1887.39,73.35 1888.01,71.01 1888.62,69.60 1889.24,69.14 1889.85,69.64 1890.47,71.08 1891.08,73.44 1891.69,76.71 1892.31,80.82 1892.92,85.72 1893.54,91.36 1894.15,97.65 1894.77,104.50 1895.38,111.83 1896.00,119.53 1896.61,127.51 1897.23,135.64 1897.84,143.83 1898.46,151.97 1899.07,159.93 1899.69,167.62 1900.30,174.92 1900.92,181.74 1901.53,187.99 1902.15,193.59 1902.76,198.46 1903.38,202.53 1903.99,205.75 1904.61,208.08 1905.22,209.48 1905.84,209.94 1906.45,209.45 1907.07,208.01 1907.68,205.66 1908.30,202.41 1908.91,198.32 1909.53,193.43 1910.14,187.83 1910.76,181.57 1911.37,174.75 1911.99,167.46 1912.60,159.79 1913.22,151.86 1913.83,143.76 1914.45,135.61 1915.06,127.53 1915.68,119.60 1916.29,111.96 1916.91,104.68 1917.52,97.89 1918.14,91.66 1918.75,86.09 1919.37,81.24 1919.98,77.18 1920.60,73.97 1921.21,71.65 1921.83,70.24 1922.44,69.78 1923.06,70.26 1923.67,71.68 1924.29,74.02 1924.90,77.25 1925.52,81.31 1926.13,86.17 1926.74,91.74 1927.36,97.96 1927.97,104.74 1928.59,111.99 1929.20,119.61 1929.82,127.50 1930.43,135.55 1931.05,143.65 1931.66,151.70 1932.28,159.57 1932.89,167.18 1933.51,174.41 1934.12,181.16 1934.74,187.35 1935.35,192.89 1935.97,197.71 1936.58,201.75 1937.20,204.93 1937.81,207.24 1938.43,208.63 1939.04,209.08 1939.66,208.60 1940.27,207.18 1940.89,204.84 1941.50,201.63 1942.12,197.58 1942.73,192.74 1943.35,187.19 1943.96,180.99 1944.58,174.24 1945.19,167.01 1945.81,159.42 1946.42,151.57 1947.04,143.55 1947.65,135.48 1948.27,127.47 1948.88,119.63 1949.50,112.06 1950.11,104.86 1950.73,98.13 1951.34,91.96 1951.96,86.44 1952.57,81.64 1953.19,77.62 1953.80,74.44 1954.42,72.14 1955.03,70.75 1955.65,70.29 1956.26,70.77 1956.88,72.18 1957.49,74.49 1958.11,77.69 1958.72,81.71 1959.34,86.52 1959.95,92.04 1960.57,98.20 1961.18,104.91 1961.79,112.09 1962.41,119.64 1963.02,127.45 1963.64,135.42 1964.25,143.44 1964.87,151.41 1965.48,159.21 1966.10,166.74 1966.71,173.89 1967.33,180.58 1967.94,186.71 1968.56,192.20 1969.17,196.97 1969.79,200.96 1970.40,204.12 1971.02,206.40 1971.63,207.78 1972.25,208.23 1972.86,207.75 1973.48,206.34 1974.09,204.03 1974.71,200.85 1975.32,196.83 1975.94,192.04 1976.55,186.55 1977.17,180.41 1977.78,173.72 1978.40,166.57 1979.01,159.06 1979.63,151.28 1980.24,143.34 1980.86,135.35 1981.47,127.42 1982.09,119.65 1982.70,112.16 1983.32,105.03 1983.93,98.37 1984.55,92.26 1985.16,86.79 1985.78,82.04 1986.39,78.06 1987.01,74.91 1987.62,72.64 1988.24,71.26 1988.85,70.81 1989.47,71.28 1990.08,72.67 1990.70,74.96 1991.31,78.13 1991.93,82.11 1992.54,86.87 1993.16,92.34 1993.77,98.44 1994.39,105.08 1995.00,112.19 1995.62,119.66 1996.23,127.40 1996.84,135.29 1997.46,143.23 1998.07,151.12 1998.69,158.84 1999.30,166.29 1999.92,173.38 2000.53,180.00 2001.15,186.07 2001.76,191.50 2002.38,196.23 2002.99,200.18 2003.61,203.31 2004.22,205.57 2004.84,206.93 2005.45,207.37 2006.07,206.89 2006.68,205.50 2007.30,203.22 2007.91,200.06 2008.53,196.09 2009.14,191.35 2009.76,185.90 2010.37,179.83 2010.99,173.21 2011.60,166.13 2012.22,158.69 2012.83,150.99 2013.45,143.13 2014.06,135.22 2014.68,127.37 2015.29,119.68 2015.91,112.26 2016.52,105.20 2017.14,98.60 2017.75,92.56 2018.37,87.15 2018.98,82.44 2019.60,78.50 2020.21,75.38 2020.83,73.13 2021.44,71.77 2022.06,71.32 2022.67,71.79 2023.29,73.17 2023.90,75.44 2024.52,78.57 2025.13,82.51 2025.75,87.22 2026.36,92.64 2026.98,98.67 2027.59,105.26 2028.21,112.29 2028.82,119.69 2029.44,127.35 2030.05,135.16 2030.67,143.02 2031.28,150.83 2031.89,158.47 2032.51,165.85 2033.12,172.87 2033.74,179.42 2034.35,185.43 2034.97,190.81 2035.58,195.49 2036.20,199.40 2036.81,202.49 2037.43,204.73 2038.04,206.08 2038.66,206.52 2039.27,206.04 2039.89,204.67 2040.50,202.40 2041.12,199.28 2041.73,195.35 2042.35,190.65 2042.96,185.26 2043.58,179.25 2044.19,172.70 2044.81,165.69 2045.42,158.32 2046.04,150.70 2046.65,142.92 2047.27,135.09 2047.88,127.32 2048.50,119.70 2049.11,112.36 2049.73,105.37 2050.34,98.84 2050.96,92.86 2051.57,87.50 2052.19,82.84 2052.80,78.94 2053.42,75.86 2054.03,73.63 2054.65,72.28 2055.26,71.83 2055.88,72.30 2056.49,73.66 2057.11,75.91 2057.72,79.01 2058.34,82.91 2058.95,87.58 2059.57,92.93 2060.18,98.91 2060.80,105.43 2061.41,112.39 2062.03,119.71 2062.64,127.29 2063.26,135.03 2063.87,142.81 2064.49,150.54 2065.10,158.10 2065.71,165.41 2066.33,172.35 2066.94,178.84 2067.56,184.79 2068.17,190.11 2068.79,194.74 2069.40,198.62 2070.02,201.68 2070.63,203.89 2071.25,205.23 2071.86,205.66 2072.48,205.19 2073.09,203.83 2073.71,201.59 2074.32,198.50 2074.94,194.61 2075.55,189.96 2076.17,184.62 2076.78,178.67 2077.40,172.18 2078.01,165.25 2078.63,157.96 2079.24,150.41 2079.86,142.71 2080.47,134.96 2081.09,127.26 2081.70,119.73 2082.32,112.45 2082.93,105.54 2083.55,99.08 2084.16,93.16 2084.78,87.85 2085.39,83.24 2086.01,79.38 2086.62,76.33 2087.24,74.12 2087.85,72.79 2088.47,72.35 2089.08,72.81 2089.70,74.16 2090.31,76.38 2090.93,79.45 2091.54,83.31 2092.16,87.93 2092.77,93.23 2093.39,99.15 2094.00,105.60 2094.62,112.49 2095.23,119.74 2095.85,127.24 2096.46,134.90 2097.08,142.60 2097.69,150.25 2098.31,157.74 2098.92,164.97 2099.54,171.84 2100.15,178.26 2100.76,184.15 2101.38,189.42 2101.99,194.00 2102.61,197.83 2103.22,200.86 2103.84,203.05 2104.45,204.37 2105.07,204.81 2105.68,204.34 2106.30,202.99 2106.91,200.77 2107.53,197.72 2108.14,193.86 2108.76,189.26 2109.37,183.98 2109.99,178.09 2110.60,171.67 2111.22,164.80 2111.83,157.59 2112.45,150.12 2113.06,142.50 2113.68,134.83 2114.29,127.21 2114.91,119.75 2115.52,112.55 2116.14,105.71 2116.75,99.32 2117.37,93.45 2117.98,88.21 2118.60,83.64 2119.21,79.82 2119.83,76.80 2120.44,74.61 2121.06,73.30 2121.67,72.86 2122.29,73.31 2122.90,74.65 2123.52,76.85 2124.13,79.89 2124.75,83.72 2125.36,88.28 2125.98,93.53 2126.59,99.39 2127.21,105.77 2127.82,112.59 2128.44,119.76 2129.05,127.19 2129.67,134.76 2130.28,142.39 2130.90,149.96 2131.51,157.37 2132.13,164.53 2132.74,171.33 2133.36,177.68 2133.97,183.51 2134.59,188.72 2135.20,193.26 2135.81,197.05 2136.43,200.05 2137.04,202.22 2137.66,203.52 2138.27,203.95 2138.89,203.49 2139.50,202.16 2140.12,199.96 2140.73,196.93 2141.35,193.12 2141.96,188.57 2142.58,183.34 2143.19,177.51 2143.81,171.16 2144.42,164.36 2145.04,157.22 2145.65,149.83 2146.27,142.29 2146.88,134.70 2147.50,127.16 2148.11,119.78 2148.73,112.65 2149.34,105.88 2149.96,99.55 2150.57,93.75 2151.19,88.56 2151.80,84.04 2152.42,80.26 2153.03,77.27 2153.65,75.11 2154.26,73.80 2154.88,73.37 2155.49,73.82 2156.11,75.15 2156.72,77.32 2157.34,80.33 2157.95,84.12 2158.57,88.64 2159.18,93.83 2159.80,99.62 2160.41,105.94 2161.03,112.69 2161.64,119.79 2162.26,127.14 2162.87,134.63 2163.49,142.18 2164.10,149.67 2164.72,157.00 2165.33,164.08 2165.95,170.81 2166.56,177.10 2167.18,182.87 2167.79,188.03 2168.41,192.51 2169.02,196.27 2169.64,199.24 2170.25,201.38 2170.86,202.67 2171.48,203.10 2172.09,202.64 2172.71,201.32 2173.32,199.15 2173.94,196.15 2174.55,192.38 2175.17,187.87 2175.78,182.70 2176.40,176.93 2177.01,170.64 2177.63,163.92 2178.24,156.85 2178.86,149.54 2179.47,142.08 2180.09,134.56 2180.70,127.11 2181.32,119.80 2181.93,112.75 2182.55,106.05 2183.16,99.79 2183.78,94.05 2184.39,88.91 2185.01,84.44 2185.62,80.70 2186.24,77.74 2186.85,75.60 2187.47,74.31 2188.08,73.89 2188.70,74.33 2189.31,75.64 2189.93,77.80 2190.54,80.77 2191.16,84.52 2191.77,88.99 2192.39,94.13 2193.00,99.86 2193.62,106.11 2194.23,112.79 2194.85,119.81 2195.46,127.08 2196.08,134.50 2196.69,141.97 2197.31,149.38 2197.92,156.64 2198.54,163.64 2199.15,170.30 2199.77,176.52 2200.38,182.23 2201.00,187.33 2201.61,191.77 2202.23,195.49 2202.84,198.42 2203.46,200.54 2204.07,201.82 2204.69,202.24 2205.30,201.79 2205.91,200.48 2206.53,198.33 2207.14,195.37 2207.76,191.63 2208.37,187.18 2208.99,182.06 2209.60,176.35 2210.22,170.13 2210.83,163.48 2211.45,156.49 2212.06,149.25 2212.68,141.86 2213.29,134.43 2213.91,127.06 2214.52,119.83 2215.14,112.85 2215.75,106.22 2216.37,100.03 2216.98,94.35 2217.60,89.27 2218.21,84.84 2218.83,81.14 2219.44,78.22 2220.06,76.10 2220.67,74.82 2221.29,74.40 2221.90,74.84 2222.52,76.14 2223.13,78.27 2223.75,81.21 2224.36,84.92 2224.98,89.34 2225.59,94.43 2226.21,100.10 2226.82,106.28 2227.44,112.89 2228.05,119.84 2228.67,127.03 2229.28,134.37 2229.90,141.76 2230.05,143.60"/>
<polyline stroke="#9400d3" points="395.0,1005.8 396.8,1005.8 398.7,1005.7 400.5,1005.4 402.4,1004.7 404.2,1003.5 406.1,1001.9 407.9,1000.3 409.8,999.1 411.6,998.6 413.4,999.1 415.3,1000.3 417.1,1001.9 419.0,1003.5 420.8,1004.7 422.7,1005.4 424.5,1005.7 426.4,1005.8 428.2,1005.8 430.0,1005.8 431.9,1005.7 433.7,1005.4 435.6,1004.7 437.4,1003.5 439.3,1001.9 441.1,1000.3 443.0,999.1 444.8,998.6 446.7,999.1 448.5,1000.3 450.3,1001.9 452.2,1003.5 454.0,1004.7 455.9,1005.4 457.7,1005.7 459.6,1005.8 461.4,1005.8 463.3,1005.8 465.1,1005.7 466.9,1005.4 468.8,1004.7 470.6,1003.5 472.5,1001.9 474.3,1000.3 476.2,999.1 478.0,998.6 479.9,999.1 481.7,1000.3 483.5,1001.9 485.4,1003.5 487.2,1004.7 489.1,1005.4 490.9,1005.7 492.8,1005.8 494.6,1005.8 496.5,1005.8 498.3,1005.7 500.1,1005.4 502.0,1004.7 503.8,1003.5 505.7,1001.9 507.5,1000.3 509.4,999.1 511.2,998.6 513.1,999.1 514.9,1000.3 516.8,1001.9 518.6,1003.5 520.4,1004.7 522.3,1005.4 524.1,1005.7 526.0,1005.8 527.8,1005.8 529.7,1005.8 531.5,1005.7 533.4,1005.4 535.2,1004.7 537.0,1003.5 538.9,1001.9 540.7,1000.3 542.6,999.1 544.4,998.6 546.3,999.1 548.1,1000.3 550.0,1001.9 551.8,1003.5 553.6,1004.7 555.5,1005.4 557.3,1005.7 559.2,1005.8 561.0,1005.8 562.9,1005.8 564.7,1005.7 566.6,1005.4 568.4,1004.7 570.2,1003.5 572.1,1001.9 573.9,1000.3 575.8,999.1 577.6,998.6 579.5,999.1 581.3,1000.3 583.2,1001.9 585.0,1003.5 586.9,1004.7 588.7,1005.4 590.5,1005.7 592.4,1005.8 594.2,1005.8 596.1,1005.8 597.9,1005.7 599.8,1005.4 601.6,1004.7 603.5,1003.5 605.3,1001.9 607.1,1000.3 609.0,999.1 610.8,998.6 612.7,999.1 614.5,1000.3 616.4,1001.9 618.2,1003.5 620.1,1004.7 621.9,1005.4 623.7,1005.7 625.6,1005.7 627.4,1005.7 629.3,1005.7 631.1,1005.7 633.0,1005.4 634.8,1004.7 636.7,1003.5 638.5,1001.9 640.3,1000.3 642.2,999.1 644.0,998.6 645.9,999.1 647.7,1000.3 649.6,1001.9 651.4,1003.5 653.3,1004.7 655.1,1005.4 657.0,1005.7 658.8,1005.7 660.6,1005.7 662.5,1005.7 664.3,1005.7 666.2,1005.4 668.0,1004.7 669.9,1003.5 671.7,1001.9 673.6,1000.3 675.4,999.1 677.2,998.6 679.1,999.1 680.9,1000.3 682.8,1001.9 684.6,1003.5 686.5,1004.7 688.3,1005.4 690.2,1005.7 692.0,1005.7 693.8,1005.7 695.7,1005.7 697.5,1005.7 699.4,1005.4 701.2,1004.7 703.1,1003.5 704.9,1001.9 706.8,1000.3 708.6,999.1 710.4,998.6 712.3,999.1 714.1,1000.3 716.0,1001.9 717.8,1003.5 719.7,1004.7 721.5,1005.4 723.4,1005.7 725.2,1005.7 727.1,1005.7 728.9,1005.7 730.7,1005.7 732.6,1005.4 734.4,1004.7 736.3,1003.5 738.1,1001.9 740.0,1000.3 741.8,999.1 743.7,998.6 745.5,999.1 747.3,1000.3 749.2,1001.9 751.0,1003.5 752.9,1004.7 754.7,1005.4 756.6,1005.6 758.4,1005.7 760.3,1005.7 762.1,1005.7 763.9,1005.6 765.8,1005.4 767.6,1004.7 769.5,1003.5 771.3,1001.9 773.2,1000.3 775.0,999.1 776.9,998.6 778.7,999.1 780.5,1000.3 782.4,1001.9 784.2,1003.5 786.1,1004.7 787.9,1005.4 789.8,1005.6 791.6,1005.7 793.5,1005.7 795.3,1005.7 797.2,1005.6 799.0,1005.4 800.8,1004.7 802.7,1003.5 804.5,1001.9 806.4,1000.3 808.2,999.1 810.1,998.6 811.9,999.1 813.8,1000.3 815.6,1001.9 817.4,1003.5 819.3,1004.7 821.1,1005.4 823.0,1005.6 824.8,1005.7 826.7,1005.7 828.5,1005.7 830.4,1005.6 832.2,1005.4 834.0,1004.7 835.9,1003.5 837.7,1001.9 839.6,1000.3 841.4,999.1 843.3,998.6 845.1,999.1 847.0,1000.3 848.8,1001.9 850.6,1003.5 852.5,1004.7 854.3,1005.4 856.2,1005.6 858.0,1005.7 859.9,1005.7 861.7,1005.7 863.6,1005.6 865.4,1005.4 867.3,1004.7 869.1,1003.5 870.9,1001.9 872.8,1000.3 874.6,999.1 876.5,998.7 878.3,999.1 880.2,1000.3 882.0,1001.9 883.9,1003.5 885.7,1004.7 887.5,1005.3 889.4,1005.6 891.2,1005.7 893.1,1005.7 894.9,1005.7 896.8,1005.6 898.6,1005.3 900.5,1004.7 902.3,1003.5 904.1,1001.9 906.0,1000.3 907.8,999.1 909.7,998.7 911.5,999.1 913.4,1000.3 915.2,1001.9 917.1,1003.5 918.9,1004.7 920.7,1005.3 922.6,1005.6 924.4,1005.7 926.3,1005.7 928.1,1005.7 930.0,1005.6 931.8,1005.3 933.7,1004.7 935.5,1003.5 937.4,1001.9 939.2,1000.3 941.0,999.1 942.9,998.7 944.7,999.1 946.6,1000.3 948.4,1001.9 950.3,1003.5 952.1,1004.7 954.0,1005.3 955.8,1005.6 957.6,1005.7 959.5,1005.7 961.3,1005.7 963.2,1005.6 965.0,1005.3 966.9,1004.7 968.7,1003.5 970.6,1001.9 972.4,1000.3 974.2,999.1 976.1,998.7 977.9,999.1 979.8,1000.3 981.6,1001.9 983.5,1003.5 985.3,1004.7 987.2,1005.3 989.0,1005.6 990.8,1005.7 992.7,1005.7 994.5,1005.7 996.4,1005.6 998.2,1005.3 1000.1,1004.7 1001.9,1003.5 1003.8,1001.9 1005.6,1000.4 1007.5,999.2 1009.3,998.7 1011.1,999.2 1013.0,1000.4 1014.8,1001.9 1016.7,1003.5 1018.5,1004.7 1020.4,1005.3 1022.2,1005.6 1024.1,1005.7 1025.9,1005.7 1027.7,1005.7 1029.6,1005.6 1031.4,1005.3 1033.3,1004.6 1035.1,1003.5 1037.0,1001.9 1038.8,1000.4 1040.7,999.2 1042.5,998.7 1044.3,999.2 1046.2,1000.4 1048.0,1001.9 1049.9,1003.5 1051.7,1004.6 1053.6,1005.3 1055.4,1005.6 1057.3,1005.7 1059.1,1005.7 1060.9,1005.7 1062.8,1005.6 1064.6,1005.3 1066.5,1004.6 1068.3,1003.5 1070.2,1001.9 1072.0,1000.4 1073.9,999.2 1075.7,998.7 1077.6,999.2 1079.4,1000.4 1081.2,1001.9 1083.1,1003.5 1084.9,1004.6 1086.8,1005.3 1088.6,1005.6 1090.5,1005.7 1092.3,1005.7 1094.2,1005.7 1096.0,1005.6 1097.8,1005.3 1099.7,1004.6 1101.5,1003.5 1103.4,1001.9 1105.2,1000.4 1107.1,999.2 1108.9,998.8 1110.8,999.2 1112.6,1000.4 1114.4,1001.9 1116.3,1003.5 1118.1,1004.6 1120.0,1005.3 1121.8,1005.6 1123.7,1005.7 1125.5,1005.7 1127.4,1005.7 1129.2,1005.6 1131.0,1005.3 1132.9,1004.6 1134.7,1003.5 1136.6,1002.0 1138.4,1000.4 1140.3,999.2 1142.1,998.8 1144.0,999.2 1145.8,1000.4 1147.7,1002.0 1149.5,1003.5 1151.3,1004.6 1153.2,1005.3 1155.0,1005.6 1156.9,1005.7 1158.7,1005.7 1160.6,1005.7 1162.4,1005.6 1164.3,1005.3 1166.1,1004.6 1167.9,1003.5 1169.8,1002.0 1171.6,1000.4 1173.5,999.2 1175.3,998.8 1177.2,999.2 1179.0,1000.4 1180.9,1002.0 1182.7,1003.5 1184.5,1004.6 1186.4,1005.3 1188.2,1005.6 1190.1,1005.7 1191.9,1005.7 1193.8,1005.7 1195.6,1005.6 1197.5,1005.3 1199.3,1004.6 1201.1,1003.5 1203.0,1002.0 1204.8,1000.4 1206.7,999.2 1208.5,998.8 1210.4,999.2 1212.2,1000.4 1214.1,1002.0 1215.9,1003.5 1217.8,1004.6 1219.6,1005.3 1221.4,1005.6 1223.3,1005.6 1225.1,1005.6 1227.0,1005.6 1228.8,1005.6 1230.7,1005.3 1232.5,1004.6 1234.4,1003.5 1236.2,1002.0 1238.0,1000.4 1239.9,999.2 1241.7,998.8 1243.6,999.2 1245.4,1000.4 1247.3,1002.0 1249.1,1003.5 1251.0,1004.6 1252.8,1005.3 1254.6,1005.6 1256.5,1005.6 1258.3,1005.6 1260.2,1005.6 1262.0,1005.6 1263.9,1005.3 1265.7,1004.6 1267.6,1003.5 1269.4,1002.0 1271.2,1000.4 1273.1,999.3 1274.9,998.8 1276.8,999.3 1278.6,1000.4 1280.5,1002.0 1282.3,1003.5 1284.2,1004.6 1286.0,1005.3 1287.9,1005.6 1289.7,1005.6 1291.5,1005.6 1293.4,1005.6 1295.2,1005.6 1297.1,1005.3 1298.9,1004.6 1300.8,1003.5 1302.6,1002.0 1304.5,1000.4 1306.3,999.3 1308.1,998.8 1310.0,999.3 1311.8,1000.4 1313.7,1002.0 1315.5,1003.5 1317.4,1004.6 1319.2,1005.3 1321.1,1005.6 1322.9,1005.6 1324.7,1005.6 1326.6,1005.6 1328.4,1005.6 1330.3,1005.3 1332.1,1004.6 1334.0,1003.5 1335.8,1002.0 1337.7,1000.4 1339.5,999.3 1341.3,998.9 1343.2,999.3 1345.0,1000.4 1346.9,1002.0 1348.7,1003.5 1350.6,1004.6 1352.4,1005.3 1354.3,1005.5 1356.1,1005.6 1358.0,1005.6 1359.8,1005.6 1361.6,1005.5 1363.5,1005.3 1365.3,1004.6 1367.2,1003.5 1369.0,1002.0 1370.9,1000.4 1372.7,999.3 1374.6,998.9 1376.4,999.3 1378.2,1000.4 1380.1,1002.0 1381.9,1003.5 1383.8,1004.6 1385.6,1005.3 1387.5,1005.5 1389.3,1005.6 1391.2,1005.6 1393.0,1005.6 1394.8,1005.5 1396.7,1005.3 1398.5,1004.6 1400.4,1003.5 1402.2,1002.0 1404.1,1000.5 1405.9,999.3 1407.8,998.9 1409.6,999.3 1411.4,1000.5 1413.3,1002.0 1415.1,1003.5 1417.0,1004.6 1418.8,1005.2 1420.7,1005.5 1422.5,1005.6 1424.4,1005.6 1426.2,1005.6 1428.1,1005.5 1429.9,1005.2 1431.7,1004.6 1433.6,1003.5 1435.4,1002.0 1437.3,1000.5 1439.1,999.3 1441.0,998.9 1442.8,999.3 1444.7,1000.5 1446.5,1002.0 1448.3,1003.5 1450.2,1004.6 1452.0,1005.2 1453.9,1005.5 1455.7,1005.6 1457.6,1005.6 1459.4,1005.6 1461.3,1005.5 1463.1,1005.2 1464.9,1004.6 1466.8,1003.5 1468.6,1002.0 1470.5,1000.5 1472.3,999.3 1474.2,998.9 1476.0,999.3 1477.9,1000.5 1479.7,1002.0 1481.5,1003.5 1483.4,1004.6 1485.2,1005.2 1487.1,1005.5 1488.9,1005.6 1490.8,1005.6 1492.6,1005.6 1494.5,1005.5 1496.3,1005.2 1498.2,1004.6 1500.0,1003.4 1501.8,1002.0 1503.7,1000.5 1505.5,999.3 1507.4,998.9 1509.2,999.3 1511.1,1000.5 1512.9,1002.0 1514.8,1003.4 1516.6,1004.6 1518.4,1005.2 1520.3,1005.5 1522.1,1005.5 1524.0,1005.6 1525.8,1005.5 1527.7,1005.5 1529.5,1005.2 1531.4,1004.6 1533.2,1003.4 1535.0,1002.0 1536.9,1000.5 1538.7,999.4 1540.6,998.9 1542.4,999.4 1544.3,1000.5 1546.1,1002.0 1548.0,1003.4 1549.8,1004.6 1551.6,1005.2 1553.5,1005.5 1555.3,1005.5 1557.2,1005.5 1559.0,1005.5 1560.9,1005.5 1562.7,1005.2 1564.6,1004.6 1566.4,1003.4 1568.3,1002.0 1570.1,1000.5 1571.9,999.4 1573.8,998.9 1575.6,999.4 1577.5,1000.5 1579.3,1002.0 1581.2,1003.4 1583.0,1004.5 1584.9,1005.2 1586.7,1005.5 1588.5,1005.5 1590.4,1005.5 1592.2,1005.5 1594.1,1005.5 1595.9,1005.2 1597.8,1004.5 1599.6,1003.4 1601.5,1002.0 1603.3,1000.5 1605.1,999.4 1607.0,999.0 1608.8,999.4 1610.7,1000.5 1612.5,1002.0 1614.4,1003.4 1616.2,1004.5 1618.1,1005.2 1619.9,1005.5 1621.7,1005.5 1623.6,1005.5 1625.4,1005.5 1627.3,1005.4 1629.1,1005.2 1631.0,1004.5 1632.8,1003.4 1634.7,1002.0 1636.5,1000.5 1638.4,999.4 1640.2,999.0 1642.0,999.4 1643.9,1000.5 1645.7,1002.0 1647.6,1003.4 1649.4,1004.5 1651.3,1005.2 1653.1,1005.4 1655.0,1005.5 1656.8,1005.5 1658.6,1005.5 1660.5,1005.4 1662.3,1005.2 1664.2,1004.5 1666.0,1003.4 1667.9,1002.0 1669.7,1000.5 1671.6,999.4 1673.4,999.0 1675.2,999.4 1677.1,1000.5 1678.9,1002.0 1680.8,1003.4 1682.6,1004.5 1684.5,1005.2 1686.3,1005.4 1688.2,1005.5 1690.0,1005.5 1691.8,1005.5 1693.7,1005.4 1695.5,1005.1 1697.4,1004.5 1699.2,1003.4 1701.1,1002.0 1702.9,1000.5 1704.8,999.4 1706.6,999.0 1708.5,999.4 1710.3,1000.5 1712.1,1002.0 1714.0,1003.4 1715.8,1004.5 1717.7,1005.1 1719.5,1005.4 1721.4,1005.5 1723.2,1005.5 1725.1,1005.5 1726.9,1005.4 1728.7,1005.1 1730.6,1004.5 1732.4,1003.4 1734.3,1002.0 1736.1,1000.5 1738.0,999.4 1739.8,999.0 1741.7,999.4 1743.5,1000.5 1745.3,1002.0 1747.2,1003.4 1749.0,1004.5 1750.9,1005.1 1752.7,1005.4 1754.6,1005.4 1756.4,1005.4 1758.3,1005.4 1760.1,1005.4 1761.9,1005.1 1763.8,1004.5 1765.6,1003.4 1767.5,1002.0 1769.3,1000.5 1771.2,999.4 1773.0,999.0 1774.9,999.4 1776.7,1000.5 1778.6,1002.0 1780.4,1003.4 1782.2,1004.5 1784.1,1005.1 1785.9,1005.4 1787.8,1005.4 1789.6,1005.4 1791.5,1005.4 1793.3,1005.4 1795.2,1005.1 1797.0,1004.5 1798.8,1003.4 1800.7,1002.0 1802.5,1000.5 1804.4,999.5 1806.2,999.1 1808.1,999.5 1809.9,1000.5 1811.8,1002.0 1813.6,1003.4 1815.4,1004.5 1817.3,1005.1 1819.1,1005.4 1821.0,1005.4 1822.8,1005.4 1824.7,1005.4 1826.5,1005.3 1828.4,1005.1 1830.2,1004.5 1832.0,1003.4 1833.9,1002.0 1835.7,1000.6 1837.6,999.5 1839.4,999.1 1841.3,999.5 1843.1,1000.6 1845.0,1002.0 1846.8,1003.4 1848.7,1004.5 1850.5,1005.1 1852.3,1005.3 1854.2,1005.4 1856.0,1005.4 1857.9,1005.4 1859.7,1005.3 1861.6,1005.1 1863.4,1004.4 1865.3,1003.4 1867.1,1002.0 1868.9,1000.6 1870.8,999.5 1872.6,999.1 1874.5,999.5 1876.3,1000.6 1878.2,1002.0 1880.0,1003.4 1881.9,1004.4 1883.7,1005.1 1885.5,1005.3 1887.4,1005.4 1889.2,1005.4 1891.1,1005.4 1892.9,1005.3 1894.8,1005.1 1896.6,1004.4 1898.5,1003.4 1900.3,1002.0 1902.1,1000.6 1904.0,999.5 1905.8,999.1 1907.7,999.5 1909.5,1000.6 1911.4,1002.0 1913.2,1003.4 1915.1,1004.4 1916.9,1005.0 1918.8,1005.3 1920.6,1005.4 1922.4,1005.4 1924.3,1005.4 1926.1,1005.3 1928.0,1005.0 1929.8,1004.4 1931.7,1003.4 1933.5,1002.0 1935.4,1000.6 1937.2,999.5 1939.0,999.1 1940.9,999.5 1942.7,1000.6 1944.6,1002.0 1946.4,1003.4 1948.3,1004.4 1950.1,1005.0 1952.0,1005.3 1953.8,1005.3 1955.6,1005.3 1957.5,1005.3 1959.3,1005.3 1961.2,1005.0 1963.0,1004.4 1964.9,1003.4 1966.7,1002.0 1968.6,1000.6 1970.4,999.5 1972.2,999.1 1974.1,999.5 1975.9,1000.6 1977.8,1002.0 1979.6,1003.4 1981.5,1004.4 1983.3,1005.0 1985.2,1005.3 1987.0,1005.3 1988.9,1005.3 1990.7,1005.3 1992.5,1005.3 1994.4,1005.0 1996.2,1004.4 1998.1,1003.4 1999.9,1002.0 2001.8,1000.6 2003.6,999.5 2005.5,999.1 2007.3,999.5 2009.1,1000.6 2011.0,1002.0 2012.8,1003.4 2014.7,1004.4 2016.5,1005.0 2018.4,1005.3 2020.2,1005.3 2022.1,1005.3 2023.9,1005.3 2025.7,1005.2 2027.6,1005.0 2029.4,1004.4 2031.3,1003.4 2033.1,1002.0 2035.0,1000.6 2036.8,999.6 2038.7,999.2 2040.5,999.6 2042.3,1000.6 2044.2,1002.0 2046.0,1003.3 2047.9,1004.4 2049.7,1005.0 2051.6,1005.2 2053.4,1005.3 2055.3,1005.3 2057.1,1005.3 2059.0,1005.2 2060.8,1005.0 2062.6,1004.4 2064.5,1003.3 2066.3,1002.0 2068.2,1000.6 2070.0,999.6 2071.9,999.2 2073.7,999.6 2075.6,1000.6 2077.4,1002.0 2079.2,1003.3 2081.1,1004.4 2082.9,1005.0 2084.8,1005.2 2086.6,1005.3 2088.5,1005.3 2090.3,1005.3 2092.2,1005.2 2094.0,1005.0 2095.8,1004.4 2097.7,1003.3 2099.5,1002.0 2101.4,1000.6 2103.2,999.6 2105.1,999.2 2106.9,999.6 2108.8,1000.6 2110.6,1002.0 2112.4,1003.3 2114.3,1004.4 2116.1,1005.0 2118.0,1005.2 2119.8,1005.3 2121.7,1005.3 2123.5,1005.3 2125.4,1005.2 2127.2,1004.9 2129.1,1004.4 2130.9,1003.3 2132.7,1002.0 2134.6,1000.6 2136.4,999.6 2138.3,999.2 2140.1,999.6 2142.0,1000.6 2143.8,1002.0 2145.7,1003.3 2147.5,1004.3 2149.3,1004.9 2151.2,1005.2 2153.0,1005.2 2154.9,1005.2 2156.7,1005.2 2158.6,1005.2 2160.4,1004.9 2162.3,1004.3 2164.1,1003.3 2165.9,1002.0 2167.8,1000.6 2169.6,999.6 2171.5,999.2 2173.3,999.6 2175.2,1000.6 2177.0,1002.0 2178.9,1003.3 2180.7,1004.3 2182.5,1004.9 2184.4,1005.2 2186.2,1005.2 2188.1,1005.2 2189.9,1005.2 2191.8,1005.2 2193.6,1004.9 2195.5,1004.3 2197.3,1003.3 2199.2,1002.0 2201.0,1000.6 2202.8,999.6 2204.7,999.2 2206.5,999.6 2208.4,1000.6 2210.2,1002.0 2212.1,1003.3 2213.9,1004.3 2215.8,1004.9 2217.6,1005.2 2219.4,1005.2 2221.3,1005.2 2223.1,1005.2 2225.0,1005.1 2226.8,1004.9 2228.7,1004.3 2230.1,1003.6"/>
<polyline stroke="#009e73" points="395.0,1005.8 396.8,1005.8 398.7,1005.7 400.5,1005.4 402.4,1004.7 404.2,1003.5 406.1,1001.9 407.9,1000.3 409.8,999.1 411.6,998.6 413.4,999.1 415.3,1000.3 417.1,1001.9 419.0,1003.5 420.8,1004.7 422.7,1005.4 424.5,1005.7 426.4,1005.8 428.2,1005.8 430.0,1005.8 431.9,1005.7 433.7,1005.4 435.6,1004.7 437.4,1003.5 439.3,1001.9 441.1,1000.3 443.0,999.1 444.8,998.6 446.7,999.1 448.5,1000.3 450.3,1001.9 452.2,1003.5 454.0,1004.7 455.9,1005.4 457.7,1005.7 459.6,1005.8 461.4,1005.8 463.3,1005.8 465.1,1005.7 466.9,1005.4 468.8,1004.7 470.6,1003.5 472.5,1001.9 474.3,1000.3 476.2,999.1 478.0,998.6 479.9,999.1 481.7,1000.3 483.5,1001.9 485.4,1003.5 487.2,1004.7 489.1,1005.4 490.9,1005.7 492.8,1005.8 494.6,1005.8 496.5,1005.8 498.3,1005.7 500.1,1005.4 502.0,1004.7 503.8,1003.5 505.7,1001.9 507.5,1000.3 509.4,999.1 511.2,998.6 513.1,999.1 514.9,1000.3 516.8,1001.9 518.6,1003.5 520.4,1004.7 522.3,1005.4 524.1,1005.7 526.0,1005.8 527.8,1005.8 529.7,1005.8 531.5,1005.7 533.4,1005.4 535.2,1004.7 537.0,1003.5 538.9,1001.9 540.7,1000.3 542.6,999.1 544.4,998.6 546.3,999.1 548.1,1000.3 550.0,1001.9 551.8,1003.5 553.6,1004.7 555.5,1005.4 557.3,1005.7 559.2,1005.8 561.0,1005.8 562.9,1005.8 564.7,1005.7 566.6,1005.4 568.4,1004.7 570.2,1003.5 572.1,1001.9 573.9,1000.3 575.8,999.1 577.6,998.6 579.5,999.1 581.3,1000.3 583.2,1001.9 585.0,1003.5 586.9,1004.7 588.7,1005.4 590.5,1005.7 592.4,1005.8 594.2,1005.8 596.1,1005.8 597.9,1005.7 599.8,1005.4 601.6,1004.7 603.5,1003.5 605.3,1001.9 607.1,1000.3 609.0,999.1 610.8,998.6 612.7,999.1 614.5,1000.3 616.4,1001.9 618.2,1003.5 620.1,1004.7 621.9,1005.4 623.7,1005.7 625.6,1005.7 627.4,1005.7 629.3,1005.7 631.1,1005.7 633.0,1005.4 634.8,1004.7 636.7,1003.5 638.5,1001.9 640.3,1000.3 642.2,999.1 644.0,998.6 645.9,999.1 647.7,1000.3 649.6,1001.9 651.4,1003.5 653.3,1004.7 655.1,1005.4 657.0,1005.7 658.8,1005.7 660.6,1005.7 662.5,1005.7 664.3,1005.7 666.2,1005.4 668.0,1004.7 669.9,1003.5 671.7,1001.9 673.6,1000.3 675.4,999.1 677.2,998.6 679.1,999.1 680.9,1000.3 682.8,1001.9 684.6,1003.5 686.5,1004.7 688.3,1005.4 690.2,1005.7 692.0,1005.7 693.8,1005.7 695.7,1005.7 697.5,1005.7 699.4,1005.4 701.2,1004.7 703.1,1003.5 704.9,1001.9 706.8,1000.3 708.6,999.1 710.4,998.6 712.3,999.1 714.1,1000.3 716.0,1001.9 717.8,1003.5 719.7,1004.7 721.5,1005.4 723.4,1005.7 725.2,1005.7 727.1,1005.7 728.9,1005.7 730.7,1005.7 732.6,1005.4 734.4,1004.7 736.3,1003.5 738.1,1001.9 740.0,1000.3 741.8,999.1 743.7,998.6 745.5,999.1 747.3,1000.3 749.2,1001.9 751.0,1003.5 752.9,1004.7 754.7,1005.4 756.6,1005.6 758.4,1005.7 760.3,1005.7 762.1,1005.7 763.9,1005.6 765.8,1005.4 767.6,1004.7 769.5,1003.5 771.3,1001.9 773.2,1000.3 775.0,999.1 776.9,998.6 778.7,999.1 780.5,1000.3 782.4,1001.9 784.2,1003.5 786.1,1004.7 787.9,1005.4 789.8,1005.6 791.6,1005.7 793.5,1005.7 795.3,1005.7 797.2,1005.6 799.0,1005.4 800.8,1004.7 802.7,1003.5 804.5,1001.9 806.4,1000.3 808.2,999.1 810.1,998.6 811.9,999.1 813.8,1000.3 815.6,1001.9 817.4,1003.5 819.3,1004.7 821.1,1005.4 823.0,1005.6 824.8,1005.7 826.7,1005.7 828.5,1005.7 830.4,1005.6 832.2,1005.4 834.0,1004.7 835.9,1003.5 837.7,1001.9 839.6,1000.3 841.4,999.1 843.3,998.6 845.1,999.1 847.0,1000.3 848.8,1001.9 850.6,1003.5 852.5,1004.7 854.3,1005.4 856.2,1005.6 858.0,1005.7 859.9,1005.7 861.7,1005.7 863.6,1005.6 865.4,1005.4 867.3,1004.7 869.1,1003.5 870.9,1001.9 872.8,1000.3 874.6,999.1 876.5,998.7 878.3,999.1 880.2,1000.3 882.0,1001.9 883.9,1003.5 885.7,1004.7 887.5,1005.3 889.4,1005.6 891.2,1005.7 893.1,1005.7 894.9,1005.7 896.8,1005.6 898.6,1005.3 900.5,1004.7 902.3,1003.5 904.1,1001.9 906.0,1000.3 907.8,999.1 909.7,998.7 911.5,999.1 913.4,1000.3 915.2,1001.9 917.1,1003.5 918.9,1004.7 920.7,1005.3 922.6,1005.6 924.4,1005.7 926.3,1005.7 928.1,1005.7 930.0,1005.6 931.8,1005.3 933.7,1004.7 935.5,1003.5 937.4,1001.9 939.2,1000.3 941.0,999.1 942.9,998.7 944.7,999.1 946.6,1000.3 948.4,1001.9 950.3,1003.5 952.1,1004.7 954.0,1005.3 955.8,1005.6 957.6,1005.7 959.5,1005.7 961.3,1005.7 963.2,1005.6 965.0,1005.3 966.9,1004.7 968.7,1003.5 970.6,1001.9 972.4,1000.3 974.2,999.1 976.1,998.7 977.9,999.1 979.8,1000.3 981.6,1001.9 983.5,1003.5 985.3,1004.7 987.2,1005.3 989.0,1005.6 990.8,1005.7 992.7,1005.7 994.5,1005.7 996.4,1005.6 998.2,1005.3 1000.1,1004.7 1001.9,1003.5 1003.8,1001.9 1005.6,1000.4 1007.5,999.2 1009.3,998.7 1011.1,999.2 1013.0,1000.4 1014.8,1001.9 1016.7,1003.5 1018.5,1004.7 1020.4,1005.3 1022.2,1005.6 1024.1,1005.7 1025.9,1005.7 1027.7,1005.7 1029.6,1005.6 1031.4,1005.3 1033.3,1004.6 1035.1,1003.5 1037.0,1001.9 1038.8,1000.4 1040.7,999.2 1042.5,998.7 1044.3,999.2 1046.2,1000.4 1048.0,1001.9 1049.9,1003.5 1051.7,1004.6 1053.6,1005.3 1055.4,1005.6 1057.3,1005.7 1059.1,1005.7 1060.9,1005.7 1062.8,1005.6 1064.6,1005.3 1066.5,1004.6 1068.3,1003.5 1070.2,1001.9 1072.0,1000.4 1073.9,999.2 1075.7,998.7 1077.6,999.2 1079.4,1000.4 1081.2,1001.9 1083.1,1003.5 1084.9,1004.6 1086.8,1005.3 1088.6,1005.6 1090.5,1005.7 1092.3,1005.7 1094.2,1005.7 1096.0,1005.6 1097.8,1005.3 1099.7,1004.6 1101.5,1003.5 1103.4,1001.9 1105.2,1000.4 1107.1,999.2 1108.9,998.8 1110.8,999.2 1112.6,1000.4 1114.4,1001.9 1116.3,1003.5 1118.1,1004.6 1120.0,1005.3 1121.8,1005.6 1123.7,1005.7 1125.5,1005.7 1127.4,1005.7 1129.2,1005.6 1131.0,1005.3 1132.9,1004.6 1134.7,1003.5 1136.6,1002.0 1138.4,1000.4 1140.3,999.2 1142.1,998.8 1144.0,999.2 1145.8,1000.4 1147.7,1002.0 1149.5,1003.5 1151.3,1004.6 1153.2,1005.3 1155.0,1005.6 1156.9,1005.7 1158.7,1005.7 1160.6,1005.7 1162.4,1005.6 1164.3,1005.3 1166.1,1004.6 1167.9,1003.5 1169.8,1002.0 1171.6,1000.4 1173.5,999.2 1175.3,998.8 1177.2,999.2 1179.0,1000.4 1180.9,1002.0 1182.7,1003.5 1184.5,1004.6 1186.4,1005.3 1188.2,1005.6 1190.1,1005.7 1191.9,1005.7 1193.8,1005.7 1195.6,1005.6 1197.5,1005.3 1199.3,1004.6 1201.1,1003.5 1203.0,1002.0 1204.8,1000.4 1206.7,999.2 1208.5,998.8 1210.4,999.2 1212.2,1000.4 1214.1,1002.0 1215.9,1003.5 1217.8,1004.6 1219.6,1005.3 1221.4,1005.6 1223.3,1005.6 1225.1,1005.6 1227.0,1005.6 1228.8,1005.6 1230.7,1005.3 1232.5,1004.6 1234.4,1003.5 1236.2,1002.0 1238.0,1000.4 1239.9,999.2 1241.7,998.8 1243.6,999.2 1245.4,1000.4 1247.3,1002.0 1249.1,1003.5 1251.0,1004.6 1252.8,1005.3 1254.6,1005.6 1256.5,1005.6 1258.3,1005.6 1260.2,1005.6 1262.0,1005.6 1263.9,1005.3 1265.7,1004.6 1267.6,1003.5 1269.4,1002.0 1271.2,1000.4 1273.1,999.3 1274.9,998.8 1276.8,999.3 1278.6,1000.4 1280.5,1002.0 1282.3,1003.5 1284.2,1004.6 1286.0,1005.3 1287.9,1005.6 1289.7,1005.6 1291.5,1005.6 1293.4,1005.6 1295.2,1005.6 1297.1,1005.3 1298.9,1004.6 1300.8,1003.5 1302.6,1002.0 1304.5,1000.4 1306.3,999.3 1308.1,998.8 1310.0,999.3 1311.8,1000.4 1313.7,1002.0 1315.5,1003.5 1317.4,1004.6 1319.2,1005.3 1321.1,1005.6 1322.9,1005.6 1324.7,1005.6 1326.6,1005.6 1328.4,1005.6 1330.3,1005.3 1332.1,1004.6 1334.0,1003.5 1335.8,1002.0 1337.7,1000.4 1339.5,999.3 1341.3,998.9 1343.2,999.3 1345.0,1000.4 1346.9,1002.0 1348.7,1003.5 1350.6,1004.6 1352.4,1005.3 1354.3,1005.5 1356.1,1005.6 1358.0,1005.6 1359.8,1005.6 1361.6,1005.5 1363.5,1005.3 1365.3,1004.6 1367.2,1003.5 1369.0,1002.0 1370.9,1000.4 1372.7,999.3 1374.6,998.9 1376.4,999.3 1378.2,1000.4 1380.1,1002.0 1381.9,1003.5 1383.8,1004.6 1385.6,1005.3 1387.5,1005.5 1389.3,1005.6 1391.2,1005.6 1393.0,1005.6 1394.8,1005.5 1396.7,1005.3 1398.5,1004.6 1400.4,1003.5 1402.2,1002.0 1404.1,1000.5 1405.9,999.3 1407.8,998.9 1409.6,999.3 1411.4,1000.5 1413.3,1002.0 1415.1,1003.5 1417.0,1004.6 1418.8,1005.2 1420.7,1005.5 1422.5,1005.6 1424.4,1005.6 1426.2,1005.6 1428.1,1005.5 1429.9,1005.2 1431.7,1004.6 1433.6,1003.5 1435.4,1002.0 1437.3,1000.5 1439.1,999.3 1441.0,998.9 1442.8,999.3 1444.7,1000.5 1446.5,1002.0 1448.3,1003.5 1450.2,1004.6 1452.0,1005.2 1453.9,1005.5 1455.7,1005.6 1457.6,1005.6 1459.4,1005.6 1461.3,1005.5 1463.1,1005.2 1464.9,1004.6 1466.8,1003.5 1468.6,1002.0 1470.5,1000.5 1472.3,999.3 1474.2,998.9 1476.0,999.3 1477.9,1000.5 1479.7,1002.0 1481.5,1003.5 1483.4,1004.6 1485.2,1005.2 1487.1,1005.5 1488.9,1005.6 1490.8,1005.6 1492.6,1005.6 1494.5,1005.5 1496.3,1005.2 1498.2,1004.6 1500.0,1003.4 1501.8,1002.0 1503.7,1000.5 1505.5,999.3 1507.4,998.9 1509.2,999.3 1511.1,1000.5 1512.9,1002.0 1514.8,1003.4 1516.6,1004.6 1518.4,1005.2 1520.3,1005.5 1522.1,1005.5 1524.0,1005.6 1525.8,1005.5 1527.7,1005.5 1529.5,1005.2 1531.4,1004.6 1533.2,1003.4 1535.0,1002.0 1536.9,1000.5 1538.7,999.4 1540.6,998.9 1542.4,999.4 1544.3,1000.5 1546.1,1002.0 1548.0,1003.4 1549.8,1004.6 1551.6,1005.2 1553.5,1005.5 1555.3,1005.5 1557.2,1005.5 1559.0,1005.5 1560.9,1005.5 1562.7,1005.2 1564.6,1004.6 1566.4,1003.4 1568.3,1002.0 1570.1,1000.5 1571.9,999.4 1573.8,998.9 1575.6,999.4 1577.5,1000.5 1579.3,1002.0 1581.2,1003.4 1583.0,1004.5 1584.9,1005.2 1586.7,1005.5 1588.5,1005.5 1590.4,1005.5 1592.2,1005.5 1594.1,1005.5 1595.9,1005.2 1597.8,1004.5 1599.6,1003.4 1601.5,1002.0 1603.3,1000.5 1605.1,999.4 1607.0,999.0 1608.8,999.4 1610.7,1000.5 1612.5,1002.0 1614.4,1003.4 1616.2,1004.5 1618.1,1005.2 1619.9,1005.5 1621.7,1005.5 1623.6,1005.5 1625.4,1005.5 1627.3,1005.4 1629.1,1005.2 1631.0,1004.5 1632.8,1003.4 1634.7,1002.0 1636.5,1000.5 1638.4,999.4 1640.2,999.0 1642.0,999.4 1643.9,1000.5 1645.7,1002.0 1647.6,1003.4 1649.4,1004.5 1651.3,1005.2 1653.1,1005.4 1655.0,1005.5 1656.8,1005.5 1658.6,1005.5 1660.5,1005.4 1662.3,1005.2 1664.2,1004.5 1666.0,1003.4 1667.9,1002.0 1669.7,1000.5 1671.6,999.4 1673.4,999.0 1675.2,999.4 1677.1,1000.5 1678.9,1002.0 1680.8,1003.4 1682.6,1004.5 1684.5,1005.2 1686.3,1005.4 1688.2,1005.5 1690.0,1005.5 1691.8,1005.5 1693.7,1005.4 1695.5,1005.1 1697.4,1004.5 1699.2,1003.4 1701.1,1002.0 1702.9,1000.5 1704.8,999.4 1706.6,999.0 1708.5,999.4 1710.3,1000.5 1712.1,1002.0 1714.0,1003.4 1715.8,1004.5 1717.7,1005.1 1719.5,1005.4 1721.4,1005.5 1723.2,1005.5 1725.1,1005.5 1726.9,1005.4 1728.7,1005.1 1730.6,1004.5 1732.4,1003.4 1734.3,1002.0 1736.1,1000.5 1738.0,999.4 1739.8,999.0 1741.7,999.4 1743.5,1000.5 1745.3,1002.0 1747.2,1003.4 1749.0,1004.5 1750.9,1005.1 1752.7,1005.4 1754.6,1005.4 1756.4,1005.4 1758.3,1005.4 1760.1,1005.4 1761.9,1005.1 1763.8,1004.5 1765.6,1003.4 1767.5,1002.0 1769.3,1000.5 1771.2,999.4 1773.0,999.0 1774.9,999.4 1776.7,1000.5 1778.6,1002.0 1780.4,1003.4 1782.2,1004.5 1784.1,1005.1 1785.9,1005.4 1787.8,1005.4 1789.6,1005.4 1791.5,1005.4 1793.3,1005.4 1795.2,1005.1 1797.0,1004.5 1798.8,1003.4 1800.7,1002.0 1802.5,1000.5 1804.4,999.5 1806.2,999.1 1808.1,999.5 1809.9,1000.5 1811.8,1002.0 1813.6,1003.4 1815.4,1004.5 1817.3,1005.1 1819.1,1005.4 1821.0,1005.4 1822.8,1005.4 1824.7,1005.4 1826.5,1005.3 1828.4,1005.1 1830.2,1004.5 1832.0,1003.4 1833.9,1002.0 1835.7,1000.6 1837.6,999.5 1839.4,999.1 1841.3,999.5 1843.1,1000.6 1845.0,1002.0 1846.8,1003.4 1848.7,1004.5 1850.5,1005.1 1852.3,1005.3 1854.2,1005.4 1856.0,1005.4 1857.9,1005.4 1859.7,1005.3 1861.6,1005.1 1863.4,1004.4 1865.3,1003.4 1867.1,1002.0 1868.9,1000.6 1870.8,999.5 1872.6,999.1 1874.5,999.5 1876.3,1000.6 1878.2,1002.0 1880.0,1003.4 1881.9,1004.4 1883.7,1005.1 1885.5,1005.3 1887.4,1005.4 1889.2,1005.4 1891.1,1005.4 1892.9,1005.3 1894.8,1005.1 1896.6,1004.4 1898.5,1003.4 1900.3,1002.0 1902.1,1000.6 1904.0,999.5 1905.8,999.1 1907.7,999.5 1909.5,1000.6 1911.4,1002.0 1913.2,1003.4 1915.1,1004.4 1916.9,1005.0 1918.8,1005.3 1920.6,1005.4 1922.4,1005.4 1924.3,1005.4 1926.1,1005.3 1928.0,1005.0 1929.8,1004.4 1931.7,1003.4 1933.5,1002.0 1935.4,1000.6 1937.2,999.5 1939.0,999.1 1940.9,999.5 1942.7,1000.6 1944.6,1002.0 1946.4,1003.4 1948.3,1004.4 1950.1,1005.0 1952.0,1005.3 1953.8,1005.3 1955.6,1005.3 1957.5,1005.3 1959.3,1005.3 1961.2,1005.0 1963.0,1004.4 1964.9,1003.4 1966.7,1002.0 1968.6,1000.6 1970.4,999.5 1972.2,999.1 1974.1,999.5 1975.9,1000.6 1977.8,1002.0 1979.6,1003.4 1981.5,1004.4 1983.3,1005.0 1985.2,1005.3 1987.0,1005.3 1988.9,1005.3 1990.7,1005.3 1992.5,1005.3 1994.4,1005.0 1996.2,1004.4 1998.1,1003.4 1999.9,1002.0 2001.8,1000.6 2003.6,999.5 2005.5,999.1 2007.3,999.5 2009.1,1000.6 2011.0,1002.0 2012.8,1003.4 2014.7,1004.4 2016.5,1005.0 2018.4,1005.3 2020.2,1005.3 2022.1,1005.3 2023.9,1005.3 2025.7,1005.2 2027.6,1005.0 2029.4,1004.4 2031.3,1003.4 2033.1,1002.0 2035.0,1000.6 2036.8,999.6 2038.7,999.2 2040.5,999.6 2042.3,1000.6 2044.2,1002.0 2046.0,1003.3 2047.9,1004.4 2049.7,1005.0 2051.6,1005.2 2053.4,1005.3 2055.3,1005.3 2057.1,1005.3 2059.0,1005.2 2060.8,1005.0 2062.6,1004.4 2064.5,1003.3 2066.3,1002.0 2068.2,1000.6 2070.0,999.6 2071.9,999.2 2073.7,999.6 2075.6,1000.6 2077.4,1002.0 2079.2,1003.3 2081.1,1004.4 2082.9,1005.0 2084.8,1005.2 2086.6,1005.3 2088.5,1005.3 2090.3,1005.3 2092.2,1005.2 2094.0,1005.0 2095.8,1004.4 2097.7,1003.3 2099.5,1002.0 2101.4,1000.6 2103.2,999.6 2105.1,999.2 2106.9,999.6 2108.8,1000.6 2110.6,1002.0 2112.4,1003.3 2114.3,1004.4 2116.1,1005.0 2118.0,1005.2 2119.8,1005.3 2121.7,1005.3 2123.5,1005.3 2125.4,1005.2 2127.2,1004.9 2129.1,1004.4 2130.9,1003.3 2132.7,1002.0 2134.6,1000.6 2136.4,999.6 2138.3,999.2 2140.1,999.6 2142.0,1000.6 2143.8,1002.0 2145.7,1003.3 2147.5,1004.3 2149.3,1004.9 2151.2,1005.2 2153.0,1005.2 2154.9,1005.2 2156.7,1005.2 2158.6,1005.2 2160.4,1004.9 2162.3,1004.3 2164.1,1003.3 2165.9,1002.0 2167.8,1000.6 2169.6,999.6 2171.5,999.2 2173.3,999.6 2175.2,1000.6 2177.0,1002.0 2178.9,1003.3 2180.7,1004.3 2182.5,1004.9 2184.4,1005.2 2186.2,1005.2 2188.1,1005.2 2189.9,1005.2 2191.8,1005.2 2193.6,1004.9 2195.5,1004.3 2197.3,1003.3 2199.2,1002.0 2201.0,1000.6 2202.8,999.6 2204.7,999.2 2206.5,999.6 2208.4,1000.6 2210.2,1002.0 2212.1,1003.3 2213.9,1004.3 2215.8,1004.9 2217.6,1005.2 2219.4,1005.2 2221.3,1005.2 2223.1,1005.2 2225.0,1005.1 2226.8,1004.9 2228.7,1004.3 2230.1,1003.6"/>
<polyline stroke="#e69f00" points="395.0,1005.8 396.8,1005.8 398.7,1005.7 400.5,1005.5 402.4,1004.8 404.2,1003.8 406.1,1002.4 407.9,1000.9 409.8,999.9 411.6,999.4 413.4,999.9 415.3,1000.9 417.1,1002.4 419.0,1003.8 420.8,1004.8 422.7,1005.4 424.5,1005.7 426.4,1005.8 428.2,1005.8 430.0,1005.8 431.9,1005.7 433.7,1005.4 435.6,1004.8 437.4,1003.8 439.3,1002.4 441.1,1000.9 443.0,999.8 444.8,999.4 446.7,999.8 448.5,1000.9 450.3,1002.4 452.2,1003.8 454.0,1004.8 455.9,1005.4 457.7,1005.7 459.6,1005.8 461.4,1005.8 463.3,1005.8 465.1,1005.7 466.9,1005.4 468.8,1004.8 470.6,1003.8 472.5,1002.4 474.3,1000.9 476.2,999.8 478.0,999.4 479.9,999.8 481.7,1000.9 483.5,1002.4 485.4,1003.8 487.2,1004.8 489.1,1005.4 490.9,1005.7 492.8,1005.8 494.6,1005.8 496.5,1005.8 498.3,1005.7 500.1,1005.4 502.0,1004.8 503.8,1003.8 505.7,1002.4 507.5,1000.9 509.4,999.8 511.2,999.4 513.1,999.8 514.9,1000.9 516.8,1002.4 518.6,1003.8 520.4,1004.8 522.3,1005.4 524.1,1005.7 526.0,1005.8 527.8,1005.8 529.7,1005.8 531.5,1005.7 533.4,1005.4 535.2,1004.8 537.0,1003.8 538.9,1002.4 540.7,1000.9 542.6,999.8 544.4,999.4 546.3,999.8 548.1,1000.9 550.0,1002.4 551.8,1003.8 553.6,1004.8 555.5,1005.4 557.3,1005.7 559.2,1005.8 561.0,1005.8 562.9,1005.8 564.7,1005.7 566.6,1005.4 568.4,1004.8 570.2,1003.8 572.1,1002.4 573.9,1000.9 575.8,999.8 577.6,999.4 579.5,999.8 581.3,1000.9 583.2,1002.4 585.0,1003.8 586.9,1004.8 588.7,1005.4 590.5,1005.7 592.4,1005.8 594.2,1005.8 596.1,1005.8 597.9,1005.7 599.8,1005.4 601.6,1004.8 603.5,1003.7 605.3,1002.4 607.1,1000.9 609.0,999.8 610.8,999.4 612.7,999.8 614.5,1000.9 616.4,1002.4 618.2,1003.7 620.1,1004.8 621.9,1005.4 623.7,1005.7 625.6,1005.7 627.4,1005.7 629.3,1005.7 631.1,1005.7 633.0,1005.4 634.8,1004.8 636.7,1003.7 638.5,1002.4 640.3,1000.9 642.2,999.8 644.0,999.4 645.9,999.8 647.7,1000.9 649.6,1002.3 651.4,1003.7 653.3,1004.8 655.1,1005.4 657.0,1005.7 658.8,1005.7 660.6,1005.7 662.5,1005.7 664.3,1005.7 666.2,1005.4 668.0,1004.8 669.9,1003.7 671.7,1002.3 673.6,1000.9 675.4,999.8 677.2,999.4 679.1,999.8 680.9,1000.9 682.8,1002.3 684.6,1003.7 686.5,1004.8 688.3,1005.4 690.2,1005.7 692.0,1005.7 693.8,1005.7 695.7,1005.7 697.5,1005.7 699.4,1005.4 701.2,1004.8 703.1,1003.7 704.9,1002.3 706.8,1000.9 708.6,999.8 710.4,999.4 712.3,999.8 714.1,1000.9 716.0,1002.3 717.8,1003.7 719.7,1004.8 721.5,1005.4 723.4,1005.7 725.2,1005.7 727.1,1005.7 728.9,1005.7 730.7,1005.7 732.6,1005.4 734.4,1004.8 736.3,1003.7 738.1,1002.3 740.0,1000.9 741.8,999.8 743.7,999.4 745.5,999.8 747.3,1000.9 749.2,1002.3 751.0,1003.7 752.9,1004.8 754.7,1005.4 756.6,1005.7 758.4,1005.7 760.3,1005.7 762.1,1005.7 763.9,1005.7 765.8,1005.4 767.6,1004.8 769.5,1003.7 771.3,1002.3 773.2,1000.9 775.0,999.9 776.9,999.5 778.7,999.9 780.5,1000.9 782.4,1002.3 784.2,1003.7 786.1,1004.8 787.9,1005.4 789.8,1005.7 791.6,1005.7 793.5,1005.7 795.3,1005.7 797.2,1005.7 799.0,1005.4 800.8,1004.8 802.7,1003.7 804.5,1002.3 806.4,1000.9 808.2,999.9 810.1,999.5 811.9,999.9 813.8,1000.9 815.6,1002.3 817.4,1003.7 819.3,1004.8 821.1,1005.4 823.0,1005.7 824.8,1005.7 826.7,1005.7 828.5,1005.7 830.4,1005.7 832.2,1005.4 834.0,1004.8 835.9,1003.7 837.7,1002.3 839.6,1000.9 841.4,999.9 843.3,999.5 845.1,999.9 847.0,1000.9 848.8,1002.3 850.6,1003.7 852.5,1004.8 854.3,1005.4 856.2,1005.6 858.0,1005.7 859.9,1005.7 861.7,1005.7 863.6,1005.6 865.4,1005.4 867.3,1004.8 869.1,1003.7 870.9,1002.4 872.8,1000.9 874.6,999.9 876.5,999.5 878.3,999.9 880.2,1000.9 882.0,1002.4 883.9,1003.7 885.7,1004.8 887.5,1005.4 889.4,1005.6 891.2,1005.7 893.1,1005.7 894.9,1005.7 896.8,1005.6 898.6,1005.4 900.5,1004.8 902.3,1003.7 904.1,1002.4 906.0,1000.9 907.8,999.9 909.7,999.5 911.5,999.9 913.4,1000.9 915.2,1002.4 917.1,1003.7 918.9,1004.8 920.7,1005.4 922.6,1005.6 924.4,1005.7 926.3,1005.7 928.1,1005.7 930.0,1005.6 931.8,1005.4 933.7,1004.8 935.5,1003.7 937.4,1002.4 939.2,1001.0 941.0,999.9 942.9,999.5 944.7,999.9 946.6,1001.0 948.4,1002.4 950.3,1003.7 952.1,1004.8 954.0,1005.4 955.8,1005.6 957.6,1005.7 959.5,1005.7 961.3,1005.7 963.2,1005.6 965.0,1005.4 966.9,1004.8 968.7,1003.7 970.6,1002.4 972.4,1001.0 974.2,999.9 976.1,999.5 977.9,999.9 979.8,1001.0 981.6,1002.4 983.5,1003.7 985.3,1004.8 987.2,1005.4 989.0,1005.6 990.8,1005.7 992.7,1005.7 994.5,1005.7 996.4,1005.6 998.2,1005.4 1000.1,1004.8 1001.9,1003.7 1003.8,1002.4 1005.6,1001.0 1007.5,999.9 1009.3,999.5 1011.1,999.9 1013.0,1001.0 1014.8,1002.4 1016.7,1003.7 1018.5,1004.8 1020.4,1005.4 1022.2,1005.6 1024.1,1005.7 1025.9,1005.7 1027.7,1005.7 1029.6,1005.6 1031.4,1005.4 1033.3,1004.8 1035.1,1003.7 1037.0,1002.4 1038.8,1001.0 1040.7,999.9 1042.5,999.5 1044.3,999.9 1046.2,1001.0 1048.0,1002.4 1049.9,1003.7 1051.7,1004.8 1053.6,1005.4 1055.4,1005.6 1057.3,1005.7 1059.1,1005.7 1060.9,1005.7 1062.8,1005.6 1064.6,1005.4 1066.5,1004.8 1068.3,1003.7 1070.2,1002.4 1072.0,1001.0 1073.9,999.9 1075.7,999.5 1077.6,999.9 1079.4,1001.0 1081.2,1002.4 1083.1,1003.7 1084.9,1004.8 1086.8,1005.4 1088.6,1005.6 1090.5,1005.7 1092.3,1005.7 1094.2,1005.7 1096.0,1005.6 1097.8,1005.4 1099.7,1004.8 1101.5,1003.7 1103.4,1002.4 1105.2,1001.0 1107.1,999.9 1108.9,999.5 1110.8,999.9 1112.6,1001.0 1114.4,1002.4 1116.3,1003.7 1118.1,1004.8 1120.0,1005.4 1121.8,1005.6 1123.7,1005.7 1125.5,1005.7 1127.4,1005.7 1129.2,1005.6 1131.0,1005.4 1132.9,1004.8 1134.7,1003.7 1136.6,1002.4 1138.4,1001.0 1140.3,999.9 1142.1,999.6 1144.0,999.9 1145.8,1001.0 1147.7,1002.4 1149.5,1003.7 1151.3,1004.8 1153.2,1005.4 1155.0,1005.6 1156.9,1005.7 1158.7,1005.7 1160.6,1005.7 1162.4,1005.6 1164.3,1005.4 1166.1,1004.7 1167.9,1003.7 1169.8,1002.4 1171.6,1001.0 1173.5,999.9 1175.3,999.6 1177.2,1000.0 1179.0,1001.0 1180.9,1002.4 1182.7,1003.7 1184.5,1004.7 1186.4,1005.3 1188.2,1005.6 1190.1,1005.7 1191.9,1005.7 1193.8,1005.7 1195.6,1005.6 1197.5,1005.3 1199.3,1004.7 1201.1,1003.7 1203.0,1002.4 1204.8,1001.0 1206.7,1000.0 1208.5,999.6 1210.4,1000.0 1212.2,1001.0 1214.1,1002.4 1215.9,1003.7 1217.8,1004.7 1219.6,1005.3 1221.4,1005.6 1223.3,1005.6 1225.1,1005.6 1227.0,1005.6 1228.8,1005.6 1230.7,1005.3 1232.5,1004.7 1234.4,1003.7 1236.2,1002.4 1238.0,1001.0 1239.9,1000.0 1241.7,999.6 1243.6,1000.0 1245.4,1001.0 1247.3,1002.4 1249.1,1003.7 1251.0,1004.7 1252.8,1005.3 1254.6,1005.6 1256.5,1005.6 1258.3,1005.6 1260.2,1005.6 1262.0,1005.6 1263.9,1005.3 1265.7,1004.7 1267.6,1003.7 1269.4,1002.4 1271.2,1001.0 1273.1,1000.0 1274.9,999.6 1276.8,1000.0 1278.6,1001.0 1280.5,1002.4 1282.3,1003.7 1284.2,1004.7 1286.0,1005.3 1287.9,1005.6 1289.7,1005.6 1291.5,1005.6 1293.4,1005.6 1295.2,1005.6 1297.1,1005.3 1298.9,1004.7 1300.8,1003.7 1302.6,1002.4 1304.5,1001.0 1306.3,1000.0 1308.1,999.6 1310.0,1000.0 1311.8,1001.0 1313.7,1002.4 1315.5,1003.7 1317.4,1004.7 1319.2,1005.3 1321.1,1005.6 1322.9,1005.6 1324.7,1005.6 1326.6,1005.6 1328.4,1005.6 1330.3,1005.3 1332.1,1004.7 1334.0,1003.7 1335.8,1002.4 1337.7,1001.0 1339.5,1000.0 1341.3,999.6 1343.2,1000.0 1345.0,1001.0 1346.9,1002.4 1348.7,1003.7 1350.6,1004.7 1352.4,1005.3 1354.3,1005.6 1356.1,1005.6 1358.0,1005.6 1359.8,1005.6 1361.6,1005.6 1363.5,1005.3 1365.3,1004.7 1367.2,1003.7 1369.0,1002.4 1370.9,1001.0 1372.7,1000.0 1374.6,999.6 1376.4,1000.0 1378.2,1001.0 1380.1,1002.4 1381.9,1003.7 1383.8,1004.7 1385.6,1005.3 1387.5,1005.5 1389.3,1005.6 1391.2,1005.6 1393.0,1005.6 1394.8,1005.5 1396.7,1005.3 1398.5,1004.7 1400.4,1003.7 1402.2,1002.4 1404.1,1001.0 1405.9,1000.0 1407.8,999.6 1409.6,1000.0 1411.4,1001.0 1413.3,1002.4 1415.1,1003.7 1417.0,1004.7 1418.8,1005.3 1420.7,1005.5 1422.5,1005.6 1424.4,1005.6 1426.2,1005.6 1428.1,1005.5 1429.9,1005.3 1431.7,1004.7 1433.6,1003.7 1435.4,1002.4 1437.3,1001.0 1439.1,1000.0 1441.0,999.6 1442.8,1000.0 1444.7,1001.0 1446.5,1002.4 1448.3,1003.7 1450.2,1004.7 1452.0,1005.3 1453.9,1005.5 1455.7,1005.6 1457.6,1005.6 1459.4,1005.6 1461.3,1005.5 1463.1,1005.3 1464.9,1004.7 1466.8,1003.7 1468.6,1002.4 1470.5,1001.0 1472.3,1000.0 1474.2,999.6 1476.0,1000.0 1477.9,1001.0 1479.7,1002.4 1481.5,1003.7 1483.4,1004.7 1485.2,1005.3 1487.1,1005.5 1488.9,1005.6 1490.8,1005.6 1492.6,1005.6 1494.5,1005.5 1496.3,1005.3 1498.2,1004.7 1500.0,1003.7 1501.8,1002.4 1503.7,1001.0 1505.5,1000.0 1507.4,999.7 1509.2,1000.0 1511.1,1001.0 1512.9,1002.4 1514.8,1003.7 1516.6,1004.7 1518.4,1005.3 1520.3,1005.5 1522.1,1005.6 1524.0,1005.6 1525.8,1005.6 1527.7,1005.5 1529.5,1005.3 1531.4,1004.7 1533.2,1003.7 1535.0,1002.4 1536.9,1001.0 1538.7,1000.0 1540.6,999.7 1542.4,1000.0 1544.3,1001.0 1546.1,1002.4 1548.0,1003.7 1549.8,1004.7 1551.6,1005.2 1553.5,1005.5 1555.3,1005.5 1557.2,1005.5 1559.0,1005.5 1560.9,1005.5 1562.7,1005.2 1564.6,1004.7 1566.4,1003.7 1568.3,1002.4 1570.1,1001.0 1571.9,1000.0 1573.8,999.7 1575.6,1000.0 1577.5,1001.0 1579.3,1002.4 1581.2,1003.7 1583.0,1004.7 1584.9,1005.2 1586.7,1005.5 1588.5,1005.5 1590.4,1005.5 1592.2,1005.5 1594.1,1005.5 1595.9,1005.2 1597.8,1004.7 1599.6,1003.7 1601.5,1002.4 1603.3,1001.1 1605.1,1000.1 1607.0,999.7 1608.8,1000.1 1610.7,1001.1 1612.5,1002.4 1614.4,1003.7 1616.2,1004.7 1618.1,1005.2 1619.9,1005.5 1621.7,1005.5 1623.6,1005.5 1625.4,1005.5 1627.3,1005.5 1629.1,1005.2 1631.0,1004.6 1632.8,1003.7 1634.7,1002.4 1636.5,1001.1 1638.4,1000.1 1640.2,999.7 1642.0,1000.1 1643.9,1001.1 1645.7,1002.4 1647.6,1003.7 1649.4,1004.6 1651.3,1005.2 1653.1,1005.5 1655.0,1005.5 1656.8,1005.5 1658.6,1005.5 1660.5,1005.5 1662.3,1005.2 1664.2,1004.6 1666.0,1003.7 1667.9,1002.4 1669.7,1001.1 1671.6,1000.1 1673.4,999.7 1675.2,1000.1 1677.1,1001.1 1678.9,1002.4 1680.8,1003.7 1682.6,1004.6 1684.5,1005.2 1686.3,1005.4 1688.2,1005.5 1690.0,1005.5 1691.8,1005.5 1693.7,1005.4 1695.5,1005.2 1697.4,1004.6 1699.2,1003.7 1701.1,1002.4 1702.9,1001.1 1704.8,1000.1 1706.6,999.7 1708.5,1000.1 1710.3,1001.1 1712.1,1002.4 1714.0,1003.7 1715.8,1004.6 1717.7,1005.2 1719.5,1005.4 1721.4,1005.5 1723.2,1005.5 1725.1,1005.5 1726.9,1005.4 1728.7,1005.2 1730.6,1004.6 1732.4,1003.7 1734.3,1002.4 1736.1,1001.1 1738.0,1000.1 1739.8,999.7 1741.7,1000.1 1743.5,1001.1 1745.3,1002.4 1747.2,1003.7 1749.0,1004.6 1750.9,1005.2 1752.7,1005.4 1754.6,1005.5 1756.4,1005.5 1758.3,1005.5 1760.1,1005.4 1761.9,1005.2 1763.8,1004.6 1765.6,1003.6 1767.5,1002.4 1769.3,1001.1 1771.2,1000.1 1773.0,999.7 1774.9,1000.1 1776.7,1001.1 1778.6,1002.4 1780.4,1003.6 1782.2,1004.6 1784.1,1005.2 1785.9,1005.4 1787.8,1005.5 1789.6,1005.5 1791.5,1005.5 1793.3,1005.4 1795.2,1005.2 1797.0,1004.6 1798.8,1003.6 1800.7,1002.4 1802.5,1001.1 1804.4,1000.1 1806.2,999.8 1808.1,1000.1 1809.9,1001.1 1811.8,1002.4 1813.6,1003.6 1815.4,1004.6 1817.3,1005.2 1819.1,1005.4 1821.0,1005.4 1822.8,1005.4 1824.7,1005.4 1826.5,1005.4 1828.4,1005.2 1830.2,1004.6 1832.0,1003.6 1833.9,1002.4 1835.7,1001.1 1837.6,1000.1 1839.4,999.8 1841.3,1000.1 1843.1,1001.1 1845.0,1002.4 1846.8,1003.6 1848.7,1004.6 1850.5,1005.2 1852.3,1005.4 1854.2,1005.4 1856.0,1005.4 1857.9,1005.4 1859.7,1005.4 1861.6,1005.1 1863.4,1004.6 1865.3,1003.6 1867.1,1002.4 1868.9,1001.1 1870.8,1000.1 1872.6,999.8 1874.5,1000.1 1876.3,1001.1 1878.2,1002.4 1880.0,1003.6 1881.9,1004.6 1883.7,1005.1 1885.5,1005.4 1887.4,1005.4 1889.2,1005.4 1891.1,1005.4 1892.9,1005.4 1894.8,1005.1 1896.6,1004.6 1898.5,1003.6 1900.3,1002.4 1902.1,1001.1 1904.0,1000.1 1905.8,999.8 1907.7,1000.1 1909.5,1001.1 1911.4,1002.4 1913.2,1003.6 1915.1,1004.6 1916.9,1005.1 1918.8,1005.4 1920.6,1005.4 1922.4,1005.4 1924.3,1005.4 1926.1,1005.4 1928.0,1005.1 1929.8,1004.6 1931.7,1003.6 1933.5,1002.4 1935.4,1001.1 1937.2,1000.2 1939.0,999.8 1940.9,1000.2 1942.7,1001.1 1944.6,1002.4 1946.4,1003.6 1948.3,1004.6 1950.1,1005.1 1952.0,1005.3 1953.8,1005.4 1955.6,1005.4 1957.5,1005.4 1959.3,1005.3 1961.2,1005.1 1963.0,1004.6 1964.9,1003.6 1966.7,1002.4 1968.6,1001.1 1970.4,1000.2 1972.2,999.8 1974.1,1000.2 1975.9,1001.1 1977.8,1002.4 1979.6,1003.6 1981.5,1004.6 1983.3,1005.1 1985.2,1005.3 1987.0,1005.4 1988.9,1005.4 1990.7,1005.4 1992.5,1005.3 1994.4,1005.1 1996.2,1004.6 1998.1,1003.6 1999.9,1002.4 2001.8,1001.1 2003.6,1000.2 2005.5,999.8 2007.3,1000.2 2009.1,1001.1 2011.0,1002.4 2012.8,1003.6 2014.7,1004.5 2016.5,1005.1 2018.4,1005.3 2020.2,1005.4 2022.1,1005.4 2023.9,1005.4 2025.7,1005.3 2027.6,1005.1 2029.4,1004.5 2031.3,1003.6 2033.1,1002.4 2035.0,1001.1 2036.8,1000.2 2038.7,999.8 2040.5,1000.2 2042.3,1001.1 2044.2,1002.4 2046.0,1003.6 2047.9,1004.5 2049.7,1005.1 2051.6,1005.3 2053.4,1005.4 2055.3,1005.4 2057.1,1005.4 2059.0,1005.3 2060.8,1005.1 2062.6,1004.5 2064.5,1003.6 2066.3,1002.4 2068.2,1001.1 2070.0,1000.2 2071.9,999.9 2073.7,1000.2 2075.6,1001.1 2077.4,1002.4 2079.2,1003.6 2081.1,1004.5 2082.9,1005.1 2084.8,1005.3 2086.6,1005.3 2088.5,1005.4 2090.3,1005.3 2092.2,1005.3 2094.0,1005.1 2095.8,1004.5 2097.7,1003.6 2099.5,1002.4 2101.4,1001.1 2103.2,1000.2 2105.1,999.9 2106.9,1000.2 2108.8,1001.2 2110.6,1002.4 2112.4,1003.6 2114.3,1004.5 2116.1,1005.1 2118.0,1005.3 2119.8,1005.3 2121.7,1005.3 2123.5,1005.3 2125.4,1005.3 2127.2,1005.1 2129.1,1004.5 2130.9,1003.6 2132.7,1002.4 2134.6,1001.2 2136.4,1000.2 2138.3,999.9 2140.1,1000.2 2142.0,1001.2 2143.8,1002.4 2145.7,1003.6 2147.5,1004.5 2149.3,1005.1 2151.2,1005.3 2153.0,1005.3 2154.9,1005.3 2156.7,1005.3 2158.6,1005.3 2160.4,1005.0 2162.3,1004.5 2164.1,1003.6 2165.9,1002.4 2167.8,1001.2 2169.6,1000.2 2171.5,999.9 2173.3,1000.2 2175.2,1001.2 2177.0,1002.4 2178.9,1003.6 2180.7,1004.5 2182.5,1005.0 2184.4,1005.3 2186.2,1005.3 2188.1,1005.3 2189.9,1005.3 2191.8,1005.3 2193.6,1005.0 2195.5,1004.5 2197.3,1003.6 2199.2,1002.4 2201.0,1001.2 2202.8,1000.2 2204.7,999.9 2206.5,1000.2 2208.4,1001.2 2210.2,1002.4 2212.1,1003.6 2213.9,1004.5 2215.8,1005.0 2217.6,1005.2 2219.4,1005.3 2221.3,1005.3 2223.1,1005.3 2225.0,1005.2 2226.8,1005.0 2228.7,1004.5 2230.1,1003.8"/>
<polyline stroke="#e51e10" stroke-dasharray="14.5 18.4" points="395.0,1005.8 396.8,1005.8 398.7,1005.7 400.5,1005.5 402.4,1004.8 404.2,1003.8 406.1,1002.4 407.9,1000.9 409.8,999.9 411.6,999.4 413.4,999.9 415.3,1000.9 417.1,1002.4 419.0,1003.8 420.8,1004.8 422.7,1005.4 424.5,1005.7 426.4,1005.8 428.2,1005.8 430.0,1005.8 431.9,1005.7 433.7,1005.4 435.6,1004.8 437.4,1003.8 439.3,1002.4 441.1,1000.9 443.0,999.8 444.8,999.4 446.7,999.8 448.5,1000.9 450.3,1002.4 452.2,1003.8 454.0,1004.8 455.9,1005.4 457.7,1005.7 459.6,1005.8 461.4,1005.8 463.3,1005.8 465.1,1005.7 466.9,1005.4 468.8,1004.8 470.6,1003.8 472.5,1002.4 474.3,1000.9 476.2,999.8 478.0,999.4 479.9,999.8 481.7,1000.9 483.5,1002.4 485.4,1003.8 487.2,1004.8 489.1,1005.4 490.9,1005.7 492.8,1005.8 494.6,1005.8 496.5,1005.8 498.3,1005.7 500.1,1005.4 502.0,1004.8 503.8,1003.8 505.7,1002.4 507.5,1000.9 509.4,999.8 511.2,999.4 513.1,999.8 514.9,1000.9 516.8,1002.4 518.6,1003.8 520.4,1004.8 522.3,1005.4 524.1,1005.7 526.0,1005.8 527.8,1005.8 529.7,1005.8 531.5,1005.7 533.4,1005.4 535.2,1004.8 537.0,1003.8 538.9,1002.4 540.7,1000.9 542.6,999.8 544.4,999.4 546.3,999.8 548.1,1000.9 550.0,1002.4 551.8,1003.8 553.6,1004.8 555.5,1005.4 557.3,1005.7 559.2,1005.8 561.0,1005.8 562.9,1005.8 564.7,1005.7 566.6,1005.4 568.4,1004.8 570.2,1003.8 572.1,1002.4 573.9,1000.9 575.8,999.8 577.6,999.4 579.5,999.8 581.3,1000.9 583.2,1002.4 585.0,1003.8 586.9,1004.8 588.7,1005.4 590.5,1005.7 592.4,1005.8 594.2,1005.8 596.1,1005.8 597.9,1005.7 599.8,1005.4 601.6,1004.8 603.5,1003.7 605.3,1002.4 607.1,1000.9 609.0,999.8 610.8,999.4 612.7,999.8 614.5,1000.9 616.4,1002.4 618.2,1003.7 620.1,1004.8 621.9,1005.4 623.7,1005.7 625.6,1005.7 627.4,1005.7 629.3,1005.7 631.1,1005.7 633.0,1005.4 634.8,1004.8 636.7,1003.7 638.5,1002.4 640.3,1000.9 642.2,999.8 644.0,999.4 645.9,999.8 647.7,1000.9 649.6,1002.3 651.4,1003.7 653.3,1004.8 655.1,1005.4 657.0,1005.7 658.8,1005.7 660.6,1005.7 662.5,1005.7 664.3,1005.7 666.2,1005.4 668.0,1004.8 669.9,1003.7 671.7,1002.3 673.6,1000.9 675.4,999.8 677.2,999.4 679.1,999.8 680.9,1000.9 682.8,1002.3 684.6,1003.7 686.5,1004.8 688.3,1005.4 690.2,1005.7 692.0,1005.7 693.8,1005.7 695.7,1005.7 697.5,1005.7 699.4,1005.4 701.2,1004.8 703.1,1003.7 704.9,1002.3 706.8,1000.9 708.6,999.8 710.4,999.4 712.3,999.8 714.1,1000.9 716.0,1002.3 717.8,1003.7 719.7,1004.8 721.5,1005.4 723.4,1005.7 725.2,1005.7 727.1,1005.7 728.9,1005.7 730.7,1005.7 732.6,1005.4 734.4,1004.8 736.3,1003.7 738.1,1002.3 740.0,1000.9 741.8,999.8 743.7,999.4 745.5,999.8 747.3,1000.9 749.2,1002.3 751.0,1003.7 752.9,1004.8 754.7,1005.4 756.6,1005.7 758.4,1005.7 760.3,1005.7 762.1,1005.7 763.9,1005.7 765.8,1005.4 767.6,1004.8 769.5,1003.7 771.3,1002.3 773.2,1000.9 775.0,999.9 776.9,999.5 778.7,999.9 780.5,1000.9 782.4,1002.3 784.2,1003.7 786.1,1004.8 787.9,1005.4 789.8,1005.7 791.6,1005.7 793.5,1005.7 795.3,1005.7 797.2,1005.7 799.0,1005.4 800.8,1004.8 802.7,1003.7 804.5,1002.3 806.4,1000.9 808.2,999.9 810.1,999.5 811.9,999.9 813.8,1000.9 815.6,1002.3 817.4,1003.7 819.3,1004.8 821.1,1005.4 823.0,1005.7 824.8,1005.7 826.7,1005.7 828.5,1005.7 830.4,1005.7 832.2,1005.4 834.0,1004.8 835.9,1003.7 837.7,1002.3 839.6,1000.9 841.4,999.9 843.3,999.5 845.1,999.9 847.0,1000.9 848.8,1002.3 850.6,1003.7 852.5,1004.8 854.3,1005.4 856.2,1005.6 858.0,1005.7 859.9,1005.7 861.7,1005.7 863.6,1005.6 865.4,1005.4 867.3,1004.8 869.1,1003.7 870.9,1002.4 872.8,1000.9 874.6,999.9 876.5,999.5 878.3,999.9 880.2,1000.9 882.0,1002.4 883.9,1003.7 885.7,1004.8 887.5,1005.4 889.4,1005.6 891.2,1005.7 893.1,1005.7 894.9,1005.7 896.8,1005.6 898.6,1005.4 900.5,1004.8 902.3,1003.7 904.1,1002.4 906.0,1000.9 907.8,999.9 909.7,999.5 911.5,999.9 913.4,1000.9 915.2,1002.4 917.1,1003.7 918.9,1004.8 920.7,1005.4 922.6,1005.6 924.4,1005.7 926.3,1005.7 928.1,1005.7 930.0,1005.6 931.8,1005.4 933.7,1004.8 935.5,1003.7 937.4,1002.4 939.2,1001.0 941.0,999.9 942.9,999.5 944.7,999.9 946.6,1001.0 948.4,1002.4 950.3,1003.7 952.1,1004.8 954.0,1005.4 955.8,1005.6 957.6,1005.7 959.5,1005.7 961.3,1005.7 963.2,1005.6 965.0,1005.4 966.9,1004.8 968.7,1003.7 970.6,1002.4 972.4,1001.0 974.2,999.9 976.1,999.5 977.9,999.9 979.8,1001.0 981.6,1002.4 983.5,1003.7 985.3,1004.8 987.2,1005.4 989.0,1005.6 990.8,1005.7 992.7,1005.7 994.5,1005.7 996.4,1005.6 998.2,1005.4 1000.1,1004.8 1001.9,1003.7 1003.8,1002.4 1005.6,1001.0 1007.5,999.9 1009.3,999.5 1011.1,999.9 1013.0,1001.0 1014.8,1002.4 1016.7,1003.7 1018.5,1004.8 1020.4,1005.4 1022.2,1005.6 1024.1,1005.7 1025.9,1005.7 1027.7,1005.7 1029.6,1005.6 1031.4,1005.4 1033.3,1004.8 1035.1,1003.7 1037.0,1002.4 1038.8,1001.0 1040.7,999.9 1042.5,999.5 1044.3,999.9 1046.2,1001.0 1048.0,1002.4 1049.9,1003.7 1051.7,1004.8 1053.6,1005.4 1055.4,1005.6 1057.3,1005.7 1059.1,1005.7 1060.9,1005.7 1062.8,1005.6 1064.6,1005.4 1066.5,1004.8 1068.3,1003.7 1070.2,1002.4 1072.0,1001.0 1073.9,999.9 1075.7,999.5 1077.6,999.9 1079.4,1001.0 1081.2,1002.4 1083.1,1003.7 1084.9,1004.8 1086.8,1005.4 1088.6,1005.6 1090.5,1005.7 1092.3,1005.7 1094.2,1005.7 1096.0,1005.6 1097.8,1005.4 1099.7,1004.8 1101.5,1003.7 1103.4,1002.4 1105.2,1001.0 1107.1,999.9 1108.9,999.5 1110.8,999.9 1112.6,1001.0 1114.4,1002.4 1116.3,1003.7 1118.1,1004.8 1120.0,1005.4 1121.8,1005.6 1123.7,1005.7 1125.5,1005.7 1127.4,1005.7 1129.2,1005.6 1131.0,1005.4 1132.9,1004.8 1134.7,1003.7 1136.6,1002.4 1138.4,1001.0 1140.3,999.9 1142.1,999.6 1144.0,999.9 1145.8,1001.0 1147.7,1002.4 1149.5,1003.7 1151.3,1004.8 1153.2,1005.4 1155.0,1005.6 1156.9,1005.7 1158.7,1005.7 1160.6,1005.7 1162.4,1005.6 1164.3,1005.4 1166.1,1004.7 1167.9,1003.7 1169.8,1002.4 1171.6,1001.0 1173.5,999.9 1175.3,999.6 1177.2,1000.0 1179.0,1001.0 1180.9,1002.4 1182.7,1003.7 1184.5,1004.7 1186.4,1005.3 1188.2,1005.6 1190.1,1005.7 1191.9,1005.7 1193.8,1005.7 1195.6,1005.6 1197.5,1005.3 1199.3,1004.7 1201.1,1003.7 1203.0,1002.4 1204.8,1001.0 1206.7,1000.0 1208.5,999.6 1210.4,1000.0 1212.2,1001.0 1214.1,1002.4 1215.9,1003.7 1217.8,1004.7 1219.6,1005.3 1221.4,1005.6 1223.3,1005.6 1225.1,1005.6 1227.0,1005.6 1228.8,1005.6 1230.7,1005.3 1232.5,1004.7 1234.4,1003.7 1236.2,1002.4 1238.0,1001.0 1239.9,1000.0 1241.7,999.6 1243.6,1000.0 1245.4,1001.0 1247.3,1002.4 1249.1,1003.7 1251.0,1004.7 1252.8,1005.3 1254.6,1005.6 1256.5,1005.6 1258.3,1005.6 1260.2,1005.6 1262.0,1005.6 1263.9,1005.3 1265.7,1004.7 1267.6,1003.7 1269.4,1002.4 1271.2,1001.0 1273.1,1000.0 1274.9,999.6 1276.8,1000.0 1278.6,1001.0 1280.5,1002.4 1282.3,1003.7 1284.2,1004.7 1286.0,1005.3 1287.9,1005.6 1289.7,1005.6 1291.5,1005.6 1293.4,1005.6 1295.2,1005.6 1297.1,1005.3 1298.9,1004.7 1300.8,1003.7 1302.6,1002.4 1304.5,1001.0 1306.3,1000.0 1308.1,999.6 1310.0,1000.0 1311.8,1001.0 1313.7,1002.4 1315.5,1003.7 1317.4,1004.7 1319.2,1005.3 1321.1,1005.6 1322.9,1005.6 1324.7,1005.6 1326.6,1005.6 1328.4,1005.6 1330.3,1005.3 1332.1,1004.7 1334.0,1003.7 1335.8,1002.4 1337.7,1001.0 1339.5,1000.0 1341.3,999.6 1343.2,1000.0 1345.0,1001.0 1346.9,1002.4 1348.7,1003.7 1350.6,1004.7 1352.4,1005.3 1354.3,1005.6 1356.1,1005.6 1358.0,1005.6 1359.8,1005.6 1361.6,1005.6 1363.5,1005.3 1365.3,1004.7 1367.2,1003.7 1369.0,1002.4 1370.9,1001.0 1372.7,1000.0 1374.6,999.6 1376.4,1000.0 1378.2,1001.0 1380.1,1002.4 1381.9,1003.7 1383.8,1004.7 1385.6,1005.3 1387.5,1005.5 1389.3,1005.6 1391.2,1005.6 1393.0,1005.6 1394.8,1005.5 1396.7,1005.3 1398.5,1004.7 1400.4,1003.7 1402.2,1002.4 1404.1,1001.0 1405.9,1000.0 1407.8,999.6 1409.6,1000.0 1411.4,1001.0 1413.3,1002.4 1415.1,1003.7 1417.0,1004.7 1418.8,1005.3 1420.7,1005.5 1422.5,1005.6 1424.4,1005.6 1426.2,1005.6 1428.1,1005.5 1429.9,1005.3 1431.7,1004.7 1433.6,1003.7 1435.4,1002.4 1437.3,1001.0 1439.1,1000.0 1441.0,999.6 1442.8,1000.0 1444.7,1001.0 1446.5,1002.4 1448.3,1003.7 1450.2,1004.7 1452.0,1005.3 1453.9,1005.5 1455.7,1005.6 1457.6,1005.6 1459.4,1005.6 1461.3,1005.5 1463.1,1005.3 1464.9,1004.7 1466.8,1003.7 1468.6,1002.4 1470.5,1001.0 1472.3,1000.0 1474.2,999.6 1476.0,1000.0 1477.9,1001.0 1479.7,1002.4 1481.5,1003.7 1483.4,1004.7 1485.2,1005.3 1487.1,1005.5 1488.9,1005.6 1490.8,1005.6 1492.6,1005.6 1494.5,1005.5 1496.3,1005.3 1498.2,1004.7 1500.0,1003.7 1501.8,1002.4 1503.7,1001.0 1505.5,1000.0 1507.4,999.7 1509.2,1000.0 1511.1,1001.0 1512.9,1002.4 1514.8,1003.7 1516.6,1004.7 1518.4,1005.3 1520.3,1005.5 1522.1,1005.6 1524.0,1005.6 1525.8,1005.6 1527.7,1005.5 1529.5,1005.3 1531.4,1004.7 1533.2,1003.7 1535.0,1002.4 1536.9,1001.0 1538.7,1000.0 1540.6,999.7 1542.4,1000.0 1544.3,1001.0 1546.1,1002.4 1548.0,1003.7 1549.8,1004.7 1551.6,1005.2 1553.5,1005.5 1555.3,1005.5 1557.2,1005.5 1559.0,1005.5 1560.9,1005.5 1562.7,1005.2 1564.6,1004.7 1566.4,1003.7 1568.3,1002.4 1570.1,1001.0 1571.9,1000.0 1573.8,999.7 1575.6,1000.0 1577.5,1001.0 1579.3,1002.4 1581.2,1003.7 1583.0,1004.7 1584.9,1005.2 1586.7,1005.5 1588.5,1005.5 1590.4,1005.5 1592.2,1005.5 1594.1,1005.5 1595.9,1005.2 1597.8,1004.7 1599.6,1003.7 1601.5,1002.4 1603.3,1001.1 1605.1,1000.1 1607.0,999.7 1608.8,1000.1 1610.7,1001.1 1612.5,1002.4 1614.4,1003.7 1616.2,1004.7 1618.1,1005.2 1619.9,1005.5 1621.7,1005.5 1623.6,1005.5 1625.4,1005.5 1627.3,1005.5 1629.1,1005.2 1631.0,1004.6 1632.8,1003.7 1634.7,1002.4 1636.5,1001.1 1638.4,1000.1 1640.2,999.7 1642.0,1000.1 1643.9,1001.1 1645.7,1002.4 1647.6,1003.7 1649.4,1004.6 1651.3,1005.2 1653.1,1005.5 1655.0,1005.5 1656.8,1005.5 1658.6,1005.5 1660.5,1005.5 1662.3,1005.2 1664.2,1004.6 1666.0,1003.7 1667.9,1002.4 1669.7,1001.1 1671.6,1000.1 1673.4,999.7 1675.2,1000.1 1677.1,1001.1 1678.9,1002.4 1680.8,1003.7 1682.6,1004.6 1684.5,1005.2 1686.3,1005.4 1688.2,1005.5 1690.0,1005.5 1691.8,1005.5 1693.7,1005.4 1695.5,1005.2 1697.4,1004.6 1699.2,1003.7 1701.1,1002.4 1702.9,1001.1 1704.8,1000.1 1706.6,999.7 1708.5,1000.1 1710.3,1001.1 1712.1,1002.4 1714.0,1003.7 1715.8,1004.6 1717.7,1005.2 1719.5,1005.4 1721.4,1005.5 1723.2,1005.5 1725.1,1005.5 1726.9,1005.4 1728.7,1005.2 1730.6,1004.6 1732.4,1003.7 1734.3,1002.4 1736.1,1001.1 1738.0,1000.1 1739.8,999.7 1741.7,1000.1 1743.5,1001.1 1745.3,1002.4 1747.2,1003.7 1749.0,1004.6 1750.9,1005.2 1752.7,1005.4 1754.6,1005.5 1756.4,1005.5 1758.3,1005.5 1760.1,1005.4 1761.9,1005.2 1763.8,1004.6 1765.6,1003.6 1767.5,1002.4 1769.3,1001.1 1771.2,1000.1 1773.0,999.7 1774.9,1000.1 1776.7,1001.1 1778.6,1002.4 1780.4,1003.6 1782.2,1004.6 1784.1,1005.2 1785.9,1005.4 1787.8,1005.5 1789.6,1005.5 1791.5,1005.5 1793.3,1005.4 1795.2,1005.2 1797.0,1004.6 1798.8,1003.6 1800.7,1002.4 1802.5,1001.1 1804.4,1000.1 1806.2,999.8 1808.1,1000.1 1809.9,1001.1 1811.8,1002.4 1813.6,1003.6 1815.4,1004.6 1817.3,1005.2 1819.1,1005.4 1821.0,1005.4 1822.8,1005.4 1824.7,1005.4 1826.5,1005.4 1828.4,1005.2 1830.2,1004.6 1832.0,1003.6 1833.9,1002.4 1835.7,1001.1 1837.6,1000.1 1839.4,999.8 1841.3,1000.1 1843.1,1001.1 1845.0,1002.4 1846.8,1003.6 1848.7,1004.6 1850.5,1005.2 1852.3,1005.4 1854.2,1005.4 1856.0,1005.4 1857.9,1005.4 1859.7,1005.4 1861.6,1005.1 1863.4,1004.6 1865.3,1003.6 1867.1,1002.4 1868.9,1001.1 1870.8,1000.1 1872.6,999.8 1874.5,1000.1 1876.3,1001.1 1878.2,1002.4 1880.0,1003.6 1881.9,1004.6 1883.7,1005.1 1885.5,1005.4 1887.4,1005.4 1889.2,1005.4 1891.1,1005.4 1892.9,1005.4 1894.8,1005.1 1896.6,1004.6 1898.5,1003.6 1900.3,1002.4 1902.1,1001.1 1904.0,1000.1 1905.8,999.8 1907.7,1000.1 1909.5,1001.1 1911.4,1002.4 1913.2,1003.6 1915.1,1004.6 1916.9,1005.1 1918.8,1005.4 1920.6,1005.4 1922.4,1005.4 1924.3,1005.4 1926.1,1005.4 1928.0,1005.1 1929.8,1004.6 1931.7,1003.6 1933.5,1002.4 1935.4,1001.1 1937.2,1000.2 1939.0,999.8 1940.9,1000.2 1942.7,1001.1 1944.6,1002.4 1946.4,1003.6 1948.3,1004.6 1950.1,1005.1 1952.0,1005.3 1953.8,1005.4 1955.6,1005.4 1957.5,1005.4 1959.3,1005.3 1961.2,1005.1 1963.0,1004.6 1964.9,1003.6 1966.7,1002.4 1968.6,1001.1 1970.4,1000.2 1972.2,999.8 1974.1,1000.2 1975.9,1001.1 1977.8,1002.4 1979.6,1003.6 1981.5,1004.6 1983.3,1005.1 1985.2,1005.3 1987.0,1005.4 1988.9,1005.4 1990.7,1005.4 1992.5,1005.3 1994.4,1005.1 1996.2,1004.6 1998.1,1003.6 1999.9,1002.4 2001.8,1001.1 2003.6,1000.2 2005.5,999.8 2007.3,1000.2 2009.1,1001.1 2011.0,1002.4 2012.8,1003.6 2014.7,1004.5 2016.5,1005.1 2018.4,1005.3 2020.2,1005.4 2022.1,1005.4 2023.9,1005.4 2025.7,1005.3 2027.6,1005.1 2029.4,1004.5 2031.3,1003.6 2033.1,1002.4 2035.0,1001.1 2036.8,1000.2 2038.7,999.8 2040.5,1000.2 2042.3,1001.1 2044.2,1002.4 2046.0,1003.6 2047.9,1004.5 2049.7,1005.1 2051.6,1005.3 2053.4,1005.4 2055.3,1005.4 2057.1,1005.4 2059.0,1005.3 2060.8,1005.1 2062.6,1004.5 2064.5,1003.6 2066.3,1002.4 2068.2,1001.1 2070.0,1000.2 2071.9,999.9 2073.7,1000.2 2075.6,1001.1 2077.4,1002.4 2079.2,1003.6 2081.1,1004.5 2082.9,1005.1 2084.8,1005.3 2086.6,1005.3 2088.5,1005.4 2090.3,1005.3 2092.2,1005.3 2094.0,1005.1 2095.8,1004.5 2097.7,1003.6 2099.5,1002.4 2101.4,1001.1 2103.2,1000.2 2105.1,999.9 2106.9,1000.2 2108.8,1001.2 2110.6,1002.4 2112.4,1003.6 2114.3,1004.5 2116.1,1005.1 2118.0,1005.3 2119.8,1005.3 2121.7,1005.3 2123.5,1005.3 2125.4,1005.3 2127.2,1005.1 2129.1,1004.5 2130.9,1003.6 2132.7,1002.4 2134.6,1001.2 2136.4,1000.2 2138.3,999.9 2140.1,1000.2 2142.0,1001.2 2143.8,1002.4 2145.7,1003.6 2147.5,1004.5 2149.3,1005.1 2151.2,1005.3 2153.0,1005.3 2154.9,1005.3 2156.7,1005.3 2158.6,1005.3 2160.4,1005.0 2162.3,1004.5 2164.1,1003.6 2165.9,1002.4 2167.8,1001.2 2169.6,1000.2 2171.5,999.9 2173.3,1000.2 2175.2,1001.2 2177.0,1002.4 2178.9,1003.6 2180.7,1004.5 2182.5,1005.0 2184.4,1005.3 2186.2,1005.3 2188.1,1005.3 2189.9,1005.3 2191.8,1005.3 2193.6,1005.0 2195.5,1004.5 2197.3,1003.6 2199.2,1002.4 2201.0,1001.2 2202.8,1000.2 2204.7,999.9 2206.5,1000.2 2208.4,1001.2 2210.2,1002.4 2212.1,1003.6 2213.9,1004.5 2215.8,1005.0 2217.6,1005.2 2219.4,1005.3 2221.3,1005.3 2223.1,1005.3 2225.0,1005.2 2226.8,1005.0 2228.7,1004.5 2230.1,1003.8"/>
</g>
<rect x="395.0" y="60.5" width="1835.1" height="1323.5" fill="none" stroke="#000" stroke-width="4"/>
<line x1="393.0" y1="60.45" x2="2232.1" y2="60.45" stroke="#000" stroke-width="5.1"/>
<g class="g">
<line x1="1120.0" y1="705.1" x2="1876.0" y2="705.1"/>
<line x1="1120.0" y1="593.6" x2="1876.0" y2="593.6"/>
<line x1="1120.0" y1="482.0" x2="1876.0" y2="482.0"/>
<line x1="1120.0" y1="370.5" x2="1876.0" y2="370.5"/>
</g>
<g class="tk">
<line x1="1120.0" y1="705.1" x2="1141.0" y2="705.1"/>
<line x1="1876.0" y1="705.1" x2="1855.0" y2="705.1"/>
<line x1="1120.0" y1="593.6" x2="1141.0" y2="593.6"/>
<line x1="1876.0" y1="593.6" x2="1855.0" y2="593.6"/>
<line x1="1120.0" y1="482.0" x2="1141.0" y2="482.0"/>
<line x1="1876.0" y1="482.0" x2="1855.0" y2="482.0"/>
<line x1="1120.0" y1="370.5" x2="1141.0" y2="370.5"/>
<line x1="1876.0" y1="370.5" x2="1855.0" y2="370.5"/>
<line x1="1309.0" y1="816.6" x2="1309.0" y2="795.6"/>
<line x1="1309.0" y1="259.0" x2="1309.0" y2="280.0"/>
<line x1="1498.0" y1="816.6" x2="1498.0" y2="795.6"/>
<line x1="1498.0" y1="259.0" x2="1498.0" y2="280.0"/>
<line x1="1687.0" y1="816.6" x2="1687.0" y2="795.6"/>
<line x1="1687.0" y1="259.0" x2="1687.0" y2="280.0"/>
</g>
<g class="c" style="stroke-linejoin:bevel">
<polyline stroke="#9400d3" stroke-width="9.3" points="1120.00,816.60 1120.38,816.60 1120.76,816.56 1121.14,816.37 1121.52,815.82 1121.90,814.63 1122.28,812.40 1122.66,808.72 1123.04,803.12 1123.42,795.16 1123.80,784.42 1124.18,770.60 1124.56,753.47 1124.94,732.97 1125.32,709.19 1125.70,682.39 1126.08,653.03 1126.46,621.71 1126.84,589.18 1127.22,556.33 1127.60,524.12 1127.98,493.55 1128.36,465.62 1128.74,441.29 1129.12,421.39 1129.50,406.63 1129.88,397.56 1130.26,394.50 1130.64,397.56 1131.02,406.63 1131.40,421.38 1131.78,441.28 1132.16,465.62 1132.54,493.54 1132.92,524.11 1133.30,556.32 1133.68,589.16 1134.06,621.69 1134.44,653.00 1134.82,682.36 1135.20,709.15 1135.58,732.93 1135.96,753.42 1136.34,770.54 1136.72,784.36 1137.10,795.09 1137.48,803.05 1137.86,808.65 1138.24,812.32 1138.62,814.55 1139.00,815.74 1139.38,816.28 1139.76,816.46 1140.14,816.50 1140.52,816.50 1140.90,816.50 1141.28,816.46 1141.66,816.27 1142.04,815.72 1142.42,814.53 1142.80,812.30 1143.18,808.62 1143.56,803.02 1143.94,795.06 1144.32,784.33 1144.70,770.51 1145.08,753.38 1145.46,732.89 1145.84,709.11 1146.22,682.32 1146.60,652.97 1146.98,621.65 1147.36,589.13 1147.74,556.29 1148.12,524.09 1148.50,493.53 1148.88,465.61 1149.26,441.27 1149.64,421.38 1150.02,406.63 1150.40,397.56 1150.78,394.50 1151.16,397.56 1151.54,406.63 1151.92,421.38 1152.30,441.27 1152.68,465.60 1153.06,493.52 1153.44,524.08 1153.82,556.28 1154.20,589.12 1154.58,621.63 1154.96,652.94 1155.34,682.29 1155.72,709.08 1156.10,732.85 1156.48,753.34 1156.86,770.45 1157.24,784.27 1157.62,795.00 1158.00,802.95 1158.38,808.55 1158.76,812.22 1159.14,814.44 1159.52,815.64 1159.90,816.18 1160.28,816.36 1160.66,816.40 1161.04,816.40 1161.42,816.39 1161.80,816.35 1162.18,816.17 1162.56,815.62 1162.94,814.43 1163.32,812.20 1163.70,808.52 1164.08,802.92 1164.46,794.96 1164.84,784.24 1165.22,770.42 1165.60,753.30 1165.98,732.81 1166.36,709.04 1166.74,682.26 1167.12,652.91 1167.50,621.60 1167.88,589.09 1168.26,556.25 1168.64,524.06 1169.02,493.50 1169.40,465.59 1169.78,441.26 1170.16,421.37 1170.54,406.63 1170.92,397.56 1171.30,394.50 1171.68,397.56 1172.06,406.63 1172.44,421.37 1172.82,441.26 1173.20,465.59 1173.58,493.50 1173.96,524.05 1174.34,556.24 1174.72,589.07 1175.10,621.58 1175.48,652.88 1175.86,682.23 1176.24,709.00 1176.62,732.76 1177.00,753.25 1177.38,770.36 1177.76,784.18 1178.14,794.90 1178.52,802.86 1178.90,808.45 1179.28,812.13 1179.66,814.34 1180.04,815.54 1180.42,816.08 1180.80,816.26 1181.18,816.30 1181.56,816.30 1181.94,816.29 1182.32,816.25 1182.70,816.06 1183.08,815.52 1183.46,814.33 1183.84,812.10 1184.22,808.42 1184.60,802.83 1184.98,794.87 1185.36,784.14 1185.74,770.33 1186.12,753.21 1186.50,732.73 1186.88,708.96 1187.26,682.19 1187.64,652.84 1188.02,621.54 1188.40,589.04 1188.78,556.21 1189.16,524.03 1189.54,493.48 1189.92,465.57 1190.30,441.25 1190.68,421.37 1191.06,406.62 1191.44,397.56 1191.82,394.50 1192.20,397.56 1192.58,406.62 1192.96,421.37 1193.34,441.25 1193.72,465.57 1194.10,493.47 1194.48,524.02 1194.86,556.20 1195.24,589.02 1195.62,621.52 1196.00,652.82 1196.38,682.16 1196.76,708.93 1197.14,732.68 1197.52,753.16 1197.90,770.27 1198.28,784.08 1198.66,794.80 1199.04,802.76 1199.42,808.35 1199.80,812.03 1200.18,814.24 1200.56,815.44 1200.94,815.98 1201.32,816.16 1201.70,816.20 1202.08,816.20 1202.46,816.19 1202.84,816.15 1203.22,815.96 1203.60,815.42 1203.98,814.23 1204.36,812.00 1204.74,808.32 1205.12,802.73 1205.50,794.77 1205.88,784.05 1206.26,770.24 1206.64,753.13 1207.02,732.64 1207.40,708.89 1207.78,682.12 1208.16,652.78 1208.54,621.49 1208.92,588.99 1209.30,556.17 1209.68,523.99 1210.06,493.46 1210.44,465.56 1210.82,441.24 1211.20,421.36 1211.58,406.62 1211.96,397.56 1212.34,394.50 1212.72,397.56 1213.10,406.62 1213.48,421.36 1213.86,441.24 1214.24,465.55 1214.62,493.45 1215.00,523.99 1215.38,556.16 1215.76,588.98 1216.14,621.47 1216.52,652.76 1216.90,682.09 1217.28,708.85 1217.66,732.60 1218.04,753.08 1218.42,770.19 1218.80,783.99 1219.18,794.71 1219.56,802.66 1219.94,808.25 1220.32,811.93 1220.70,814.14 1221.08,815.34 1221.46,815.87 1221.84,816.06 1222.22,816.10 1222.60,816.10 1222.98,816.09 1223.36,816.05 1223.74,815.86 1224.12,815.32 1224.50,814.13 1224.88,811.90 1225.26,808.22 1225.64,802.63 1226.02,794.68 1226.40,783.96 1226.78,770.15 1227.16,753.04 1227.54,732.56 1227.92,708.81 1228.30,682.05 1228.68,652.72 1229.06,621.43 1229.44,588.95 1229.82,556.14 1230.20,523.96 1230.58,493.43 1230.96,465.54 1231.34,441.23 1231.72,421.35 1232.10,406.62 1232.48,397.55 1232.86,394.50 1233.24,397.55 1233.62,406.62 1234.00,421.35 1234.38,441.23 1234.76,465.53 1235.14,493.42 1235.52,523.94 1235.90,556.10 1236.28,588.90 1236.66,621.37 1237.04,652.64 1237.42,681.95 1237.80,708.69 1238.18,732.43 1238.56,752.88 1238.94,769.97 1239.32,783.76 1239.70,794.47 1240.08,802.40 1240.46,807.98 1240.84,811.64 1241.22,813.85 1241.60,815.03 1241.98,815.56 1242.36,815.74 1242.74,815.76 1243.12,815.76 1243.50,815.74 1243.88,815.69 1244.26,815.50 1244.64,814.94 1245.02,813.74 1245.40,811.51 1245.78,807.83 1246.16,802.23 1246.54,794.27 1246.92,783.56 1247.30,769.75 1247.68,752.66 1248.06,732.19 1248.44,708.46 1248.82,681.72 1249.20,652.42 1249.58,621.17 1249.96,588.71 1250.34,555.94 1250.72,523.80 1251.10,493.31 1251.48,465.45 1251.86,441.17 1252.24,421.32 1252.62,406.60 1253.00,397.55 1253.38,394.50 1253.76,397.55 1254.14,406.60 1254.52,421.31 1254.90,441.16 1255.28,465.43 1255.66,493.27 1256.04,523.75 1256.42,555.87 1256.80,588.62 1257.18,621.04 1257.56,652.27 1257.94,681.54 1258.32,708.24 1258.70,731.94 1259.08,752.37 1259.46,769.43 1259.84,783.20 1260.22,793.89 1260.60,801.82 1260.98,807.39 1261.36,811.04 1261.74,813.25 1262.12,814.43 1262.50,814.96 1262.88,815.13 1263.26,815.16 1263.64,815.15 1264.02,815.14 1264.40,815.09 1264.78,814.89 1265.16,814.34 1265.54,813.14 1265.92,810.91 1266.30,807.23 1266.68,801.64 1267.06,793.70 1267.44,783.00 1267.82,769.21 1268.20,752.14 1268.58,731.71 1268.96,708.01 1269.34,681.31 1269.72,652.05 1270.10,620.84 1270.48,588.43 1270.86,555.71 1271.24,523.62 1271.62,493.16 1272.00,465.34 1272.38,441.10 1272.76,421.28 1273.14,406.58 1273.52,397.55 1273.90,394.50 1274.28,397.55 1274.66,406.58 1275.04,421.27 1275.42,441.09 1275.80,465.33 1276.18,493.13 1276.56,523.57 1276.94,555.64 1277.32,588.34 1277.70,620.72 1278.08,651.90 1278.46,681.13 1278.84,707.79 1279.22,731.46 1279.60,751.86 1279.98,768.89 1280.36,782.65 1280.74,793.32 1281.12,801.23 1281.50,806.79 1281.88,810.45 1282.26,812.65 1282.64,813.82 1283.02,814.35 1283.40,814.53 1283.78,814.55 1284.16,814.54 1284.54,814.53 1284.92,814.48 1285.30,814.29 1285.68,813.74 1286.06,812.54 1286.44,810.31 1286.82,806.64 1287.20,801.06 1287.58,793.13 1287.96,782.44 1288.34,768.68 1288.72,751.63 1289.10,731.22 1289.48,707.56 1289.86,680.90 1290.24,651.68 1290.62,620.51 1291.00,588.15 1291.38,555.47 1291.76,523.43 1292.14,493.02 1292.52,465.24 1292.90,441.03 1293.28,421.24 1293.66,406.57 1294.04,397.54 1294.42,394.50 1294.80,397.54 1295.18,406.56 1295.56,421.24 1295.94,441.02 1296.32,465.22 1296.70,492.99 1297.08,523.38 1297.46,555.40 1297.84,588.06 1298.22,620.39 1298.60,651.53 1298.98,680.71 1299.36,707.34 1299.74,730.97 1300.12,751.34 1300.50,768.36 1300.88,782.09 1301.26,792.74 1301.64,800.65 1302.02,806.20 1302.40,809.85 1302.78,812.04 1303.16,813.22 1303.54,813.75 1303.92,813.92 1304.30,813.95 1304.68,813.94 1305.06,813.93 1305.44,813.88 1305.82,813.68 1306.20,813.13 1306.58,811.93 1306.96,809.71 1307.34,806.04 1307.72,800.47 1308.10,792.55 1308.48,781.88 1308.86,768.14 1309.24,751.12 1309.62,730.75 1310.00,707.12 1310.38,680.50 1310.76,651.33 1311.14,620.21 1311.52,587.90 1311.90,555.26 1312.28,523.26 1312.66,492.90 1313.04,465.15 1313.42,440.98 1313.80,421.21 1314.18,406.55 1314.56,397.54 1314.94,394.50 1315.32,397.54 1315.70,406.55 1316.08,421.21 1316.46,440.97 1316.84,465.15 1317.22,492.89 1317.60,523.25 1317.98,555.24 1318.36,587.87 1318.74,620.18 1319.12,651.29 1319.50,680.45 1319.88,707.06 1320.26,730.67 1320.64,751.03 1321.02,768.04 1321.40,781.76 1321.78,792.42 1322.16,800.32 1322.54,805.88 1322.92,809.53 1323.30,811.74 1323.68,812.92 1324.06,813.45 1324.44,813.64 1324.82,813.67 1325.20,813.67 1325.58,813.66 1325.96,813.62 1326.34,813.43 1326.72,812.89 1327.10,811.70 1327.48,809.49 1327.86,805.83 1328.24,800.27 1328.62,792.36 1329.00,781.70 1329.38,767.97 1329.76,750.96 1330.14,730.60 1330.52,706.99 1330.90,680.38 1331.28,651.22 1331.66,620.11 1332.04,587.81 1332.42,555.19 1332.80,523.21 1333.18,492.85 1333.56,465.12 1333.94,440.96 1334.32,421.20 1334.70,406.55 1335.08,397.54 1335.46,394.50 1335.84,397.54 1336.22,406.55 1336.60,421.20 1336.98,440.95 1337.36,465.12 1337.74,492.84 1338.12,523.19 1338.50,555.17 1338.88,587.79 1339.26,620.08 1339.64,651.17 1340.02,680.32 1340.40,706.92 1340.78,730.53 1341.16,750.88 1341.54,767.88 1341.92,781.60 1342.30,792.25 1342.68,800.15 1343.06,805.70 1343.44,809.35 1343.82,811.55 1344.20,812.74 1344.58,813.27 1344.96,813.45 1345.34,813.49 1345.72,813.49 1346.10,813.48 1346.48,813.44 1346.86,813.25 1347.24,812.71 1347.62,811.52 1348.00,809.31 1348.38,805.65 1348.76,800.10 1349.14,792.19 1349.52,781.54 1349.90,767.82 1350.28,750.83 1350.66,730.49 1351.04,706.89 1351.42,680.31 1351.80,651.18 1352.18,620.11 1352.56,587.85 1352.94,555.27 1353.32,523.33 1353.70,493.02 1354.08,465.33 1354.46,441.20 1354.84,421.48 1355.22,406.86 1355.60,397.88 1355.98,394.85 1356.36,397.91 1356.74,406.92 1357.12,421.56 1357.50,441.30 1357.88,465.45 1358.26,493.14 1358.64,523.46 1359.02,555.40 1359.40,587.97 1359.78,620.21 1360.16,651.26 1360.54,680.37 1360.92,706.93 1361.30,730.49 1361.68,750.81 1362.06,767.78 1362.44,781.47 1362.82,792.10 1363.20,799.99 1363.58,805.53 1363.96,809.18 1364.34,811.38 1364.72,812.56 1365.10,813.09 1365.48,813.27 1365.86,813.31 1366.24,813.31 1366.62,813.30 1367.00,813.26 1367.38,813.07 1367.76,812.53 1368.14,811.34 1368.52,809.14 1368.90,805.49 1369.28,799.95 1369.66,792.06 1370.04,781.43 1370.42,767.75 1370.80,750.79 1371.18,730.50 1371.56,706.96 1371.94,680.44 1372.32,651.38 1372.70,620.38 1373.08,588.20 1373.46,555.70 1373.84,523.83 1374.22,493.59 1374.60,465.96 1374.98,441.89 1375.36,422.22 1375.74,407.63 1376.12,398.67 1376.50,395.65 1376.88,398.70 1377.26,407.69 1377.64,422.30 1378.02,442.00 1378.40,466.08 1378.78,493.71 1379.16,523.96 1379.54,555.82 1379.92,588.31 1380.30,620.49 1380.68,651.46 1381.06,680.50 1381.44,706.99 1381.82,730.51 1382.20,750.77 1382.58,767.70 1382.96,781.37 1383.34,791.97 1383.72,799.84 1384.10,805.37 1384.48,809.01 1384.86,811.20 1385.24,812.38 1385.62,812.91 1386.00,813.09 1386.38,813.13 1386.76,813.12 1387.14,813.12 1387.52,813.08 1387.90,812.89 1388.28,812.35 1388.66,811.17 1389.04,808.97 1389.42,805.33 1389.80,799.80 1390.18,791.93 1390.56,781.33 1390.94,767.67 1391.32,750.76 1391.70,730.51 1392.08,707.03 1392.46,680.57 1392.84,651.58 1393.22,620.66 1393.60,588.55 1393.98,556.12 1394.36,524.33 1394.74,494.16 1395.12,466.60 1395.50,442.58 1395.88,422.95 1396.26,408.40 1396.64,399.46 1397.02,396.45 1397.40,399.49 1397.78,408.46 1398.16,423.03 1398.54,442.69 1398.92,466.72 1399.30,494.28 1399.68,524.46 1400.06,556.25 1400.44,588.66 1400.82,620.76 1401.20,651.66 1401.58,680.63 1401.96,707.06 1402.34,730.52 1402.72,750.74 1403.10,767.63 1403.48,781.26 1403.86,791.84 1404.24,799.69 1404.62,805.21 1405.00,808.83 1405.38,811.02 1405.76,812.20 1406.14,812.73 1406.52,812.91 1406.90,812.94 1407.28,812.94 1407.66,812.94 1408.04,812.90 1408.42,812.71 1408.80,812.17 1409.18,810.99 1409.56,808.80 1409.94,805.16 1410.32,799.65 1410.70,791.80 1411.08,781.22 1411.46,767.60 1411.84,750.72 1412.22,730.52 1412.60,707.10 1412.98,680.70 1413.36,651.78 1413.74,620.93 1414.12,588.89 1414.50,556.54 1414.88,524.82 1415.26,494.73 1415.64,467.23 1416.02,443.28 1416.40,423.69 1416.78,409.18 1417.16,400.25 1417.54,397.25 1417.92,400.28 1418.30,409.23 1418.68,423.77 1419.06,443.38 1419.44,467.35 1419.82,494.85 1420.20,524.95 1420.58,556.67 1420.96,589.01 1421.34,621.03 1421.72,651.86 1422.10,680.76 1422.48,707.13 1422.86,730.53 1423.24,750.70 1423.62,767.55 1424.00,781.15 1424.38,791.71 1424.76,799.54 1425.14,805.04 1425.52,808.66 1425.90,810.85 1426.28,812.02 1426.66,812.55 1427.04,812.73 1427.42,812.76 1427.80,812.76 1428.18,812.76 1428.56,812.71 1428.94,812.53 1429.32,811.99 1429.70,810.81 1430.08,808.62 1430.46,805.00 1430.84,799.50 1431.22,791.67 1431.60,781.11 1431.98,767.52 1432.36,750.69 1432.74,730.54 1433.12,707.17 1433.50,680.83 1433.88,651.98 1434.26,621.20 1434.64,589.24 1435.02,556.97 1435.40,525.32 1435.78,495.30 1436.16,467.87 1436.54,443.97 1436.92,424.43 1437.30,409.95 1437.68,401.05 1438.06,398.05 1438.44,401.08 1438.82,410.00 1439.20,424.51 1439.58,444.07 1439.96,467.98 1440.34,495.42 1440.72,525.45 1441.10,557.09 1441.48,589.36 1441.86,621.30 1442.24,652.06 1442.62,680.89 1443.00,707.20 1443.38,730.54 1443.76,750.67 1444.14,767.48 1444.52,781.05 1444.90,791.58 1445.28,799.39 1445.66,804.88 1446.04,808.49 1446.42,810.67 1446.80,811.84 1447.18,812.37 1447.56,812.55 1447.94,812.58 1448.32,812.58 1448.70,812.57 1449.08,812.53 1449.46,812.35 1449.84,811.81 1450.22,810.64 1450.60,808.45 1450.98,804.84 1451.36,799.35 1451.74,791.53 1452.12,781.01 1452.50,767.45 1452.88,750.65 1453.26,730.55 1453.64,707.23 1454.02,680.96 1454.40,652.18 1454.78,621.47 1455.16,589.59 1455.54,557.39 1455.92,525.82 1456.30,495.87 1456.68,468.50 1457.06,444.66 1457.44,425.17 1457.82,410.72 1458.20,401.84 1458.58,398.85 1458.96,401.87 1459.34,410.78 1459.72,425.25 1460.10,444.76 1460.48,468.62 1460.86,495.99 1461.24,525.95 1461.62,557.52 1462.00,589.70 1462.38,621.57 1462.76,652.26 1463.14,681.02 1463.52,707.27 1463.90,730.56 1464.28,750.63 1464.66,767.40 1465.04,780.94 1465.42,791.45 1465.80,799.24 1466.18,804.72 1466.56,808.32 1466.94,810.49 1467.32,811.66 1467.70,812.19 1468.08,812.36 1468.46,812.40 1468.84,812.40 1469.22,812.39 1469.60,812.35 1469.98,812.17 1470.36,811.63 1470.74,810.46 1471.12,808.28 1471.50,804.67 1471.88,799.19 1472.26,791.40 1472.64,780.90 1473.02,767.37 1473.40,750.62 1473.78,730.56 1474.16,707.30 1474.54,681.09 1474.92,652.38 1475.30,621.74 1475.68,589.94 1476.06,557.81 1476.44,526.32 1476.82,496.44 1477.20,469.14 1477.58,445.35 1477.96,425.90 1478.34,411.49 1478.72,402.63 1479.10,399.65 1479.48,402.66 1479.86,411.55 1480.24,425.98 1480.62,445.45 1481.00,469.25 1481.38,496.56 1481.76,526.45 1482.14,557.94 1482.52,590.05 1482.90,621.84 1483.28,652.46 1483.66,681.15 1484.04,707.33 1484.42,730.57 1484.80,750.60 1485.18,767.33 1485.56,780.83 1485.94,791.31 1486.32,799.09 1486.70,804.55 1487.08,808.15 1487.46,810.31 1487.84,811.48 1488.22,812.00 1488.60,812.18 1488.98,812.22 1489.36,812.22 1489.74,812.21 1490.12,812.17 1490.50,811.98 1490.88,811.45 1491.26,810.28 1491.64,808.11 1492.02,804.51 1492.40,799.04 1492.78,791.27 1493.16,780.79 1493.54,767.30 1493.92,750.58 1494.30,730.58 1494.68,707.37 1495.06,681.23 1495.44,652.57 1495.82,622.01 1496.20,590.28 1496.58,558.24 1496.96,526.82 1497.34,497.00 1497.72,469.77 1498.10,446.04 1498.48,426.64 1498.86,412.26 1499.24,403.43 1499.62,400.45 1499.99,403.46 1500.37,412.32 1500.75,426.72 1501.13,446.14 1501.51,469.88 1501.89,497.12 1502.27,526.93 1502.65,558.34 1503.03,590.37 1503.41,622.08 1503.79,652.61 1504.17,681.23 1504.55,707.34 1504.93,730.52 1505.31,750.49 1505.69,767.17 1506.07,780.64 1506.45,791.09 1506.83,798.84 1507.21,804.28 1507.59,807.86 1507.97,810.02 1508.35,811.18 1508.73,811.70 1509.11,811.87 1509.49,811.90 1509.87,811.89 1510.25,811.88 1510.63,811.84 1511.01,811.65 1511.39,811.11 1511.77,809.94 1512.15,807.77 1512.53,804.18 1512.91,798.72 1513.29,790.97 1513.67,780.52 1514.05,767.06 1514.43,750.38 1514.81,730.43 1515.19,707.29 1515.57,681.21 1515.95,652.64 1516.33,622.17 1516.71,590.53 1517.09,558.57 1517.47,527.25 1517.85,497.52 1518.23,470.37 1518.61,446.70 1518.99,427.36 1519.37,413.03 1519.75,404.22 1520.13,401.25 1520.51,404.25 1520.89,413.08 1521.27,427.44 1521.65,446.80 1522.03,470.48 1522.41,497.63 1522.79,527.36 1523.17,558.67 1523.55,590.61 1523.93,622.22 1524.31,652.66 1524.69,681.20 1525.07,707.23 1525.45,730.34 1525.83,750.25 1526.21,766.88 1526.59,780.31 1526.97,790.73 1527.35,798.45 1527.73,803.88 1528.11,807.45 1528.49,809.60 1528.87,810.75 1529.25,811.27 1529.63,811.45 1530.01,811.48 1530.39,811.47 1530.77,811.46 1531.15,811.42 1531.53,811.23 1531.91,810.69 1532.29,809.53 1532.67,807.36 1533.05,803.78 1533.43,798.34 1533.81,790.61 1534.19,780.19 1534.57,766.77 1534.95,750.14 1535.33,730.25 1535.71,707.17 1536.09,681.18 1536.47,652.69 1536.85,622.31 1537.23,590.76 1537.61,558.91 1537.99,527.67 1538.37,498.03 1538.75,470.96 1539.13,447.37 1539.51,428.08 1539.89,413.79 1540.27,405.01 1540.65,402.05 1541.03,405.04 1541.41,413.85 1541.79,428.16 1542.17,447.47 1542.55,471.07 1542.93,498.15 1543.31,527.78 1543.69,559.00 1544.07,590.84 1544.45,622.36 1544.83,652.71 1545.21,681.16 1545.59,707.12 1545.97,730.15 1546.35,750.01 1546.73,766.59 1547.11,779.98 1547.49,790.36 1547.87,798.07 1548.25,803.48 1548.63,807.04 1549.01,809.18 1549.39,810.33 1549.77,810.85 1550.15,811.02 1550.53,811.05 1550.91,811.05 1551.29,811.04 1551.67,810.99 1552.05,810.80 1552.43,810.27 1552.81,809.11 1553.19,806.95 1553.57,803.38 1553.95,797.95 1554.33,790.24 1554.71,779.86 1555.09,766.48 1555.47,749.90 1555.85,730.07 1556.23,707.06 1556.61,681.14 1556.99,652.74 1557.37,622.45 1557.75,591.00 1558.13,559.24 1558.51,528.09 1558.89,498.55 1559.27,471.55 1559.65,448.03 1560.03,428.81 1560.41,414.56 1560.79,405.80 1561.17,402.85 1561.55,405.83 1561.93,414.61 1562.31,428.89 1562.69,448.13 1563.07,471.66 1563.45,498.66 1563.83,528.20 1564.21,559.33 1564.59,591.08 1564.97,622.50 1565.35,652.77 1565.73,681.13 1566.11,707.01 1566.49,729.97 1566.87,749.77 1567.25,766.30 1567.63,779.65 1568.01,790.00 1568.39,797.68 1568.77,803.08 1569.15,806.63 1569.53,808.77 1569.91,809.91 1570.29,810.43 1570.67,810.60 1571.05,810.63 1571.43,810.62 1571.81,810.61 1572.19,810.57 1572.57,810.38 1572.95,809.85 1573.33,808.69 1573.71,806.54 1574.09,802.98 1574.47,797.57 1574.85,789.88 1575.23,779.52 1575.61,766.18 1575.99,749.66 1576.37,729.89 1576.75,706.95 1577.13,681.11 1577.51,652.80 1577.89,622.59 1578.27,591.23 1578.65,559.57 1579.03,528.52 1579.41,499.06 1579.79,472.15 1580.17,448.70 1580.55,429.53 1580.93,415.32 1581.31,406.59 1581.69,403.65 1582.07,406.62 1582.45,415.38 1582.83,429.61 1583.21,448.80 1583.59,472.26 1583.97,499.17 1584.35,528.63 1584.73,559.67 1585.11,591.31 1585.49,622.64 1585.87,652.82 1586.25,681.09 1586.63,706.90 1587.01,729.79 1587.39,749.53 1587.77,766.01 1588.15,779.32 1588.53,789.64 1588.91,797.30 1589.29,802.68 1589.67,806.22 1590.05,808.35 1590.43,809.49 1590.81,810.00 1591.19,810.18 1591.57,810.20 1591.95,810.20 1592.33,810.19 1592.71,810.14 1593.09,809.96 1593.47,809.43 1593.85,808.27 1594.23,806.13 1594.61,802.58 1594.99,797.18 1595.37,789.52 1595.75,779.19 1596.13,765.89 1596.51,749.42 1596.89,729.70 1597.27,706.84 1597.65,681.08 1598.03,652.85 1598.41,622.73 1598.79,591.47 1599.17,559.90 1599.55,528.94 1599.93,499.57 1600.31,472.74 1600.69,449.36 1601.07,430.25 1601.45,416.09 1601.83,407.38 1602.21,404.45 1602.59,407.41 1602.97,416.14 1603.35,430.33 1603.73,449.46 1604.11,472.85 1604.49,499.68 1604.87,529.05 1605.25,560.00 1605.63,591.55 1606.01,622.79 1606.39,652.87 1606.77,681.06 1607.15,706.78 1607.53,729.61 1607.91,749.29 1608.29,765.72 1608.67,778.99 1609.05,789.28 1609.43,796.91 1609.81,802.28 1610.19,805.80 1610.57,807.93 1610.95,809.07 1611.33,809.58 1611.71,809.75 1612.09,809.78 1612.47,809.78 1612.85,809.77 1613.23,809.72 1613.61,809.53 1613.99,809.01 1614.37,807.85 1614.75,805.71 1615.13,802.18 1615.51,796.80 1615.89,789.16 1616.27,778.86 1616.65,765.60 1617.03,749.18 1617.41,729.52 1617.79,706.72 1618.17,681.04 1618.55,652.90 1618.93,622.88 1619.31,591.71 1619.69,560.23 1620.07,529.37 1620.45,500.08 1620.83,473.33 1621.21,450.03 1621.59,430.97 1621.97,416.85 1622.35,408.17 1622.73,405.25 1623.11,408.20 1623.49,416.91 1623.87,431.05 1624.25,450.12 1624.63,473.44 1625.01,500.20 1625.39,529.48 1625.77,560.33 1626.15,591.78 1626.53,622.93 1626.91,652.92 1627.29,681.03 1627.67,706.67 1628.05,729.43 1628.43,749.05 1628.81,765.43 1629.19,778.66 1629.57,788.92 1629.95,796.53 1630.33,801.88 1630.71,805.39 1631.09,807.51 1631.47,808.65 1631.85,809.16 1632.23,809.33 1632.61,809.36 1632.99,809.35 1633.37,809.34 1633.75,809.30 1634.13,809.11 1634.51,808.58 1634.89,807.43 1635.27,805.30 1635.65,801.77 1636.03,796.42 1636.41,788.80 1636.79,778.53 1637.17,765.31 1637.55,748.94 1637.93,729.34 1638.31,706.61 1638.69,681.01 1639.07,652.95 1639.45,623.02 1639.83,591.94 1640.21,560.56 1640.59,529.79 1640.97,500.60 1641.35,473.93 1641.73,450.69 1642.11,431.69 1642.49,417.62 1642.87,408.96 1643.25,406.05 1643.63,408.99 1644.01,417.67 1644.39,431.77 1644.77,450.79 1645.15,474.04 1645.53,500.71 1645.91,529.90 1646.29,560.66 1646.67,592.02 1647.05,623.07 1647.43,652.97 1647.81,680.99 1648.19,706.56 1648.57,729.25 1648.95,748.80 1649.33,765.14 1649.71,778.32 1650.09,788.56 1650.47,796.14 1650.85,801.48 1651.23,804.98 1651.61,807.09 1651.99,808.23 1652.37,808.73 1652.75,808.90 1653.13,808.93 1653.51,808.93 1653.89,808.92 1654.27,808.87 1654.65,808.69 1655.03,808.16 1655.41,807.02 1655.79,804.89 1656.17,801.37 1656.55,796.03 1656.93,788.44 1657.31,778.20 1657.69,765.02 1658.07,748.70 1658.45,729.16 1658.83,706.50 1659.21,680.97 1659.59,653.00 1659.97,623.16 1660.35,592.18 1660.73,560.89 1661.11,530.22 1661.49,501.11 1661.87,474.52 1662.25,451.35 1662.63,432.42 1663.01,418.38 1663.39,409.75 1663.77,406.85 1664.15,409.78 1664.53,418.44 1664.91,432.50 1665.29,451.45 1665.67,474.63 1666.05,501.22 1666.43,530.33 1666.81,560.99 1667.19,592.25 1667.57,623.21 1667.95,653.02 1668.33,680.96 1668.71,706.45 1669.09,729.07 1669.47,748.56 1669.85,764.85 1670.23,777.99 1670.61,788.19 1670.99,795.76 1671.37,801.08 1671.75,804.57 1672.13,806.68 1672.51,807.80 1672.89,808.31 1673.27,808.48 1673.65,808.51 1674.03,808.50 1674.41,808.49 1674.79,808.45 1675.17,808.26 1675.55,807.74 1675.93,806.60 1676.31,804.48 1676.69,800.97 1677.07,795.65 1677.45,788.07 1677.83,777.87 1678.21,764.73 1678.59,748.46 1678.97,728.98 1679.35,706.39 1679.73,680.94 1680.11,653.05 1680.49,623.30 1680.87,592.41 1681.25,561.22 1681.63,530.64 1682.01,501.62 1682.39,475.12 1682.77,452.02 1683.15,433.14 1683.53,419.15 1683.91,410.55 1684.29,407.65 1684.67,410.58 1685.05,419.20 1685.43,433.22 1685.81,452.12 1686.19,475.23 1686.57,501.74 1686.95,530.75 1687.33,561.32 1687.71,592.49 1688.09,623.34 1688.47,653.05 1688.85,680.90 1689.23,706.31 1689.61,728.85 1689.99,748.29 1690.37,764.52 1690.75,777.61 1691.13,787.77 1691.51,795.31 1691.89,800.60 1692.27,804.08 1692.65,806.17 1693.03,807.29 1693.41,807.79 1693.79,807.96 1694.17,807.98 1694.55,807.97 1694.93,807.95 1695.31,807.90 1695.69,807.71 1696.07,807.19 1696.45,806.04 1696.83,803.92 1697.21,800.42 1697.59,795.11 1697.97,787.56 1698.35,777.39 1698.73,764.29 1699.11,748.06 1699.49,728.65 1699.87,706.13 1700.25,680.77 1700.63,652.97 1701.01,623.33 1701.39,592.55 1701.77,561.47 1702.15,531.00 1702.53,502.08 1702.91,475.67 1703.29,452.66 1703.67,433.84 1704.05,419.90 1704.43,411.34 1704.81,408.45 1705.19,411.36 1705.57,419.96 1705.95,433.92 1706.33,452.75 1706.71,475.77 1707.09,502.18 1707.47,531.08 1707.85,561.53 1708.23,592.58 1708.61,623.32 1708.99,652.92 1709.37,680.66 1709.75,705.97 1710.13,728.43 1710.51,747.79 1710.89,763.96 1711.27,777.00 1711.65,787.13 1712.03,794.63 1712.41,799.91 1712.79,803.37 1713.17,805.46 1713.55,806.57 1713.93,807.07 1714.31,807.23 1714.69,807.25 1715.07,807.24 1715.45,807.23 1715.83,807.18 1716.21,806.99 1716.59,806.46 1716.97,805.32 1717.35,803.21 1717.73,799.73 1718.11,794.43 1718.49,786.91 1718.87,776.78 1719.25,763.73 1719.63,747.57 1720.01,728.23 1720.39,705.80 1720.77,680.53 1721.15,652.84 1721.53,623.31 1721.91,592.65 1722.29,561.68 1722.67,531.33 1723.05,502.52 1723.43,476.21 1723.81,453.29 1724.19,434.55 1724.57,420.66 1724.95,412.12 1725.33,409.25 1725.71,412.15 1726.09,420.71 1726.47,434.63 1726.85,453.38 1727.23,476.31 1727.61,502.62 1727.99,531.41 1728.37,561.75 1728.75,592.68 1729.13,623.30 1729.51,652.78 1729.89,680.42 1730.27,705.63 1730.65,728.01 1731.03,747.29 1731.41,763.40 1731.79,776.39 1732.17,786.48 1732.55,793.96 1732.93,799.21 1733.31,802.66 1733.69,804.74 1734.07,805.85 1734.45,806.34 1734.83,806.50 1735.21,806.53 1735.59,806.52 1735.97,806.50 1736.35,806.45 1736.73,806.26 1737.11,805.74 1737.49,804.60 1737.87,802.50 1738.25,799.03 1738.63,793.75 1739.01,786.26 1739.39,776.17 1739.77,763.17 1740.15,747.07 1740.53,727.80 1740.91,705.46 1741.29,680.29 1741.67,652.70 1742.05,623.29 1742.43,592.74 1742.81,561.90 1743.19,531.66 1743.57,502.96 1743.95,476.75 1744.33,453.92 1744.71,435.25 1745.09,421.41 1745.47,412.91 1745.85,410.05 1746.23,412.94 1746.61,421.47 1746.99,435.33 1747.37,454.01 1747.75,476.86 1748.13,503.06 1748.51,531.74 1748.89,561.96 1749.27,592.77 1749.65,623.28 1750.03,652.65 1750.41,680.18 1750.79,705.29 1751.17,727.58 1751.55,746.79 1751.93,762.84 1752.31,775.78 1752.69,785.83 1753.07,793.28 1753.45,798.51 1753.83,801.95 1754.21,804.02 1754.59,805.12 1754.97,805.62 1755.35,805.78 1755.73,805.80 1756.11,805.79 1756.49,805.77 1756.87,805.72 1757.25,805.54 1757.63,805.02 1758.01,803.88 1758.39,801.79 1758.77,798.33 1759.15,793.08 1759.53,785.61 1759.91,775.56 1760.29,762.61 1760.67,746.57 1761.05,727.38 1761.43,705.12 1761.81,680.04 1762.19,652.57 1762.57,623.26 1762.95,592.84 1763.33,562.11 1763.71,531.99 1764.09,503.41 1764.47,477.30 1764.85,454.55 1765.23,435.95 1765.61,422.17 1765.99,413.70 1766.37,410.85 1766.75,413.73 1767.13,422.23 1767.51,436.03 1767.89,454.64 1768.27,477.40 1768.65,503.50 1769.03,532.07 1769.41,562.18 1769.79,592.87 1770.17,623.26 1770.55,652.51 1770.93,679.94 1771.31,704.96 1771.69,727.16 1772.07,746.29 1772.45,762.28 1772.83,775.17 1773.21,785.18 1773.59,792.60 1773.97,797.81 1774.35,801.24 1774.73,803.30 1775.11,804.40 1775.49,804.89 1775.87,805.05 1776.25,805.07 1776.63,805.06 1777.01,805.05 1777.39,805.00 1777.77,804.81 1778.15,804.29 1778.53,803.16 1778.91,801.08 1779.29,797.63 1779.67,792.40 1780.05,784.96 1780.43,774.95 1780.81,762.05 1781.19,746.07 1781.57,726.95 1781.95,704.78 1782.33,679.80 1782.71,652.43 1783.09,623.24 1783.47,592.93 1783.85,562.33 1784.23,532.32 1784.61,503.85 1784.99,477.84 1785.37,455.18 1785.75,436.66 1786.13,422.93 1786.51,414.49 1786.89,411.65 1787.27,414.52 1787.65,422.98 1788.03,436.73 1788.41,455.27 1788.79,477.94 1789.17,503.95 1789.55,532.41 1789.93,562.39 1790.31,592.96 1790.69,623.23 1791.07,652.38 1791.45,679.70 1791.83,704.62 1792.21,726.73 1792.59,745.79 1792.97,761.72 1793.35,774.56 1793.73,784.53 1794.11,791.92 1794.49,797.11 1794.87,800.52 1795.25,802.58 1795.63,803.68 1796.01,804.17 1796.39,804.33 1796.77,804.35 1797.15,804.34 1797.53,804.32 1797.91,804.27 1798.29,804.09 1798.67,803.57 1799.05,802.44 1799.43,800.37 1799.81,796.93 1800.19,791.72 1800.57,784.31 1800.95,774.34 1801.33,761.49 1801.71,745.57 1802.09,726.53 1802.47,704.44 1802.85,679.56 1803.23,652.30 1803.61,623.22 1803.99,593.03 1804.37,562.54 1804.75,532.65 1805.13,504.29 1805.51,478.38 1805.89,455.81 1806.27,437.36 1806.65,423.68 1807.03,415.28 1807.41,412.45 1807.79,415.31 1808.17,423.74 1808.55,437.44 1808.93,455.90 1809.31,478.48 1809.69,504.39 1810.07,532.74 1810.45,562.61 1810.83,593.06 1811.21,623.21 1811.59,652.24 1811.97,679.46 1812.35,704.28 1812.73,726.31 1813.11,745.30 1813.49,761.16 1813.87,773.95 1814.25,783.88 1814.63,791.24 1815.01,796.42 1815.39,799.81 1815.77,801.86 1816.15,802.95 1816.53,803.44 1816.91,803.60 1817.29,803.62 1817.67,803.61 1818.05,803.59 1818.43,803.55 1818.81,803.36 1819.19,802.84 1819.57,801.73 1819.95,799.66 1820.33,796.24 1820.71,791.04 1821.09,783.66 1821.47,773.73 1821.85,760.93 1822.23,745.07 1822.61,726.10 1822.99,704.10 1823.37,679.32 1823.75,652.16 1824.13,623.20 1824.51,593.12 1824.89,562.76 1825.27,532.98 1825.65,504.73 1826.03,478.93 1826.41,456.44 1826.79,438.06 1827.17,424.44 1827.55,416.07 1827.93,413.25 1828.31,416.10 1828.69,424.50 1829.07,438.14 1829.45,456.53 1829.83,479.03 1830.21,504.83 1830.59,533.07 1830.97,562.82 1831.35,593.16 1831.73,623.19 1832.11,652.11 1832.49,679.21 1832.87,703.94 1833.25,725.89 1833.63,744.80 1834.01,760.60 1834.39,773.34 1834.77,783.23 1835.15,790.57 1835.53,795.72 1835.91,799.10 1836.29,801.14 1836.67,802.23 1837.05,802.71 1837.43,802.87 1837.81,802.89 1838.19,802.88 1838.57,802.87 1838.95,802.82 1839.33,802.63 1839.71,802.12 1840.09,801.01 1840.47,798.94 1840.85,795.54 1841.23,790.37 1841.61,783.02 1841.99,773.12 1842.37,760.37 1842.75,744.58 1843.13,725.68 1843.51,703.77 1843.89,679.08 1844.27,652.03 1844.65,623.18 1845.03,593.22 1845.41,562.97 1845.79,533.31 1846.17,505.17 1846.55,479.47 1846.93,457.07 1847.31,438.76 1847.69,425.20 1848.07,416.86 1848.45,414.05 1848.83,416.89 1849.21,425.25 1849.59,438.84 1849.97,457.17 1850.35,479.57 1850.73,505.27 1851.11,533.40 1851.49,563.03 1851.87,593.25 1852.25,623.17 1852.63,651.97 1853.01,678.97 1853.39,703.60 1853.77,725.46 1854.15,744.30 1854.53,760.03 1854.91,772.73 1855.29,782.58 1855.67,789.89 1856.05,795.02 1856.43,798.39 1856.81,800.42 1857.19,801.50 1857.57,801.99 1857.95,802.15 1858.33,802.17 1858.71,802.16 1859.09,802.14 1859.47,802.09 1859.85,801.91 1860.23,801.40 1860.61,800.29 1860.99,798.23 1861.37,794.84 1861.75,789.69 1862.13,782.37 1862.51,772.51 1862.89,759.81 1863.27,744.08 1863.65,725.26 1864.03,703.43 1864.41,678.84 1864.79,651.89 1865.17,623.15 1865.55,593.32 1865.93,563.19 1866.31,533.64 1866.69,505.61 1867.07,480.01 1867.45,457.70 1867.83,439.47 1868.21,425.95 1868.59,417.65 1868.97,414.85 1869.35,417.68 1869.73,426.01 1870.11,439.54 1870.49,457.80 1870.87,480.11 1871.25,505.71 1871.63,533.73 1872.01,563.25 1872.39,593.35 1872.77,623.15 1873.15,651.84 1873.53,678.73 1873.91,703.27 1874.29,725.04 1874.67,743.80 1875.05,759.47 1875.43,772.12 1875.81,781.93 1876.00,785.87"/>
<polyline stroke="#56b4e9" stroke-width="6.1" points="1120.00,816.60 1120.38,816.60 1120.76,816.56 1121.14,816.39 1121.52,815.91 1121.90,814.86 1122.28,812.89 1122.66,809.63 1123.04,804.68 1123.42,797.65 1123.80,788.16 1124.18,775.94 1124.56,760.81 1124.94,742.69 1125.32,721.67 1125.70,697.99 1126.08,672.04 1126.46,644.36 1126.84,615.61 1127.22,586.58 1127.60,558.12 1127.98,531.10 1128.36,506.42 1128.74,484.91 1129.12,467.33 1129.50,454.29 1129.88,446.27 1130.26,443.57 1130.64,446.27 1131.02,454.29 1131.40,467.33 1131.78,484.91 1132.16,506.42 1132.54,531.10 1132.92,558.11 1133.30,586.57 1133.68,615.60 1134.06,644.34 1134.44,672.02 1134.82,697.96 1135.20,721.64 1135.58,742.65 1135.96,760.76 1136.34,775.89 1136.72,788.10 1137.10,797.58 1137.48,804.62 1137.86,809.56 1138.24,812.81 1138.62,814.77 1139.00,815.83 1139.38,816.30 1139.76,816.47 1140.14,816.50 1140.52,816.50 1140.90,816.50 1141.28,816.46 1141.66,816.29 1142.04,815.81 1142.42,814.76 1142.80,812.79 1143.18,809.53 1143.56,804.59 1143.94,797.55 1144.32,788.07 1144.70,775.85 1145.08,760.72 1145.46,742.61 1145.84,721.60 1146.22,697.92 1146.60,671.98 1146.98,644.31 1147.36,615.57 1147.74,586.55 1148.12,558.09 1148.50,531.08 1148.88,506.41 1149.26,484.90 1149.64,467.32 1150.02,454.29 1150.40,446.27 1150.78,443.57 1151.16,446.27 1151.54,454.29 1151.92,467.32 1152.30,484.90 1152.68,506.40 1153.06,531.07 1153.44,558.08 1153.82,586.53 1154.20,615.55 1154.58,644.29 1154.96,671.96 1155.34,697.89 1155.72,721.56 1156.10,742.57 1156.48,760.67 1156.86,775.80 1157.24,788.01 1157.62,797.49 1158.00,804.52 1158.38,809.46 1158.76,812.71 1159.14,814.67 1159.52,815.73 1159.90,816.20 1160.28,816.37 1160.66,816.40 1161.04,816.40 1161.42,816.39 1161.80,816.36 1162.18,816.19 1162.56,815.71 1162.94,814.65 1163.32,812.69 1163.70,809.44 1164.08,804.49 1164.46,797.46 1164.84,787.98 1165.22,775.76 1165.60,760.63 1165.98,742.53 1166.36,721.52 1166.74,697.86 1167.12,671.92 1167.50,644.25 1167.88,615.52 1168.26,586.51 1168.64,558.06 1169.02,531.06 1169.40,506.39 1169.78,484.89 1170.16,467.32 1170.54,454.28 1170.92,446.27 1171.30,443.57 1171.68,446.27 1172.06,454.28 1172.44,467.31 1172.82,484.89 1173.20,506.39 1173.58,531.05 1173.96,558.05 1174.34,586.49 1174.72,615.51 1175.10,644.23 1175.48,671.89 1175.86,697.82 1176.24,721.49 1176.62,742.48 1177.00,760.59 1177.38,775.71 1177.76,787.92 1178.14,797.39 1178.52,804.42 1178.90,809.36 1179.28,812.61 1179.66,814.57 1180.04,815.63 1180.42,816.10 1180.80,816.27 1181.18,816.30 1181.56,816.30 1181.94,816.29 1182.32,816.26 1182.70,816.09 1183.08,815.61 1183.46,814.55 1183.84,812.59 1184.22,809.34 1184.60,804.39 1184.98,797.36 1185.36,787.88 1185.74,775.67 1186.12,760.55 1186.50,742.45 1186.88,721.45 1187.26,697.79 1187.64,671.86 1188.02,644.20 1188.40,615.48 1188.78,586.47 1189.16,558.02 1189.54,531.03 1189.92,506.37 1190.30,484.88 1190.68,467.31 1191.06,454.28 1191.44,446.27 1191.82,443.57 1192.20,446.27 1192.58,454.28 1192.96,467.31 1193.34,484.88 1193.72,506.37 1194.10,531.03 1194.48,558.02 1194.86,586.46 1195.24,615.46 1195.62,644.18 1196.00,671.83 1196.38,697.76 1196.76,721.41 1197.14,742.40 1197.52,760.50 1197.90,775.62 1198.28,787.82 1198.66,797.30 1199.04,804.32 1199.42,809.26 1199.80,812.51 1200.18,814.47 1200.56,815.53 1200.94,816.00 1201.32,816.16 1201.70,816.20 1202.08,816.20 1202.46,816.19 1202.84,816.16 1203.22,815.99 1203.60,815.51 1203.98,814.45 1204.36,812.49 1204.74,809.24 1205.12,804.29 1205.50,797.26 1205.88,787.79 1206.26,775.58 1206.64,760.46 1207.02,742.36 1207.40,721.37 1207.78,697.72 1208.16,671.80 1208.54,644.14 1208.92,615.43 1209.30,586.43 1209.68,557.99 1210.06,531.01 1210.44,506.35 1210.82,484.87 1211.20,467.30 1211.58,454.28 1211.96,446.27 1212.34,443.57 1212.72,446.27 1213.10,454.28 1213.48,467.30 1213.86,484.87 1214.24,506.35 1214.62,531.00 1215.00,557.99 1215.38,586.42 1215.76,615.41 1216.14,644.12 1216.52,671.77 1216.90,697.69 1217.28,721.33 1217.66,742.32 1218.04,760.42 1218.42,775.53 1218.80,787.73 1219.18,797.20 1219.56,804.23 1219.94,809.16 1220.32,812.41 1220.70,814.37 1221.08,815.42 1221.46,815.90 1221.84,816.06 1222.22,816.10 1222.60,816.10 1222.98,816.09 1223.36,816.06 1223.74,815.89 1224.12,815.41 1224.50,814.35 1224.88,812.39 1225.26,809.14 1225.64,804.20 1226.02,797.17 1226.40,787.70 1226.78,775.49 1227.16,760.38 1227.54,742.28 1227.92,721.30 1228.30,697.65 1228.68,671.73 1229.06,644.09 1229.44,615.38 1229.82,586.39 1230.20,557.96 1230.58,530.98 1230.96,506.34 1231.34,484.86 1231.72,467.30 1232.10,454.28 1232.48,446.27 1232.86,443.57 1233.24,446.27 1233.62,454.28 1234.00,467.29 1234.38,484.85 1234.76,506.33 1235.14,530.97 1235.52,557.94 1235.90,586.36 1236.28,615.33 1236.66,644.02 1237.04,671.65 1237.42,697.55 1237.80,721.18 1238.18,742.15 1238.56,760.22 1238.94,775.32 1239.32,787.50 1239.70,796.96 1240.08,803.97 1240.46,808.89 1240.84,812.13 1241.22,814.08 1241.60,815.12 1241.98,815.59 1242.36,815.74 1242.74,815.77 1243.12,815.76 1243.50,815.74 1243.88,815.70 1244.26,815.52 1244.64,815.03 1245.02,813.97 1245.40,812.00 1245.78,808.74 1246.16,803.80 1246.54,796.77 1246.92,787.30 1247.30,775.10 1247.68,759.99 1248.06,741.91 1248.44,720.94 1248.82,697.32 1249.20,671.43 1249.58,643.82 1249.96,615.15 1250.34,586.19 1250.72,557.80 1251.10,530.86 1251.48,506.25 1251.86,484.80 1252.24,467.26 1252.62,454.26 1253.00,446.26 1253.38,443.57 1253.76,446.26 1254.14,454.26 1254.52,467.26 1254.90,484.79 1255.28,506.23 1255.66,530.83 1256.04,557.75 1256.42,586.12 1256.80,615.05 1257.18,643.70 1257.56,671.28 1257.94,697.14 1258.32,720.73 1258.70,741.66 1259.08,759.71 1259.46,774.78 1259.84,786.94 1260.22,796.38 1260.60,803.38 1260.98,808.30 1261.36,811.53 1261.74,813.48 1262.12,814.52 1262.50,814.98 1262.88,815.14 1263.26,815.16 1263.64,815.15 1264.02,815.14 1264.40,815.09 1264.78,814.92 1265.16,814.43 1265.54,813.37 1265.92,811.40 1266.30,808.15 1266.68,803.21 1267.06,796.19 1267.44,786.74 1267.82,774.56 1268.20,759.48 1268.58,741.43 1268.96,720.49 1269.34,696.91 1269.72,671.06 1270.10,643.49 1270.48,614.87 1270.86,585.96 1271.24,557.61 1271.62,530.72 1272.00,506.14 1272.38,484.73 1272.76,467.22 1273.14,454.24 1273.52,446.26 1273.90,443.57 1274.28,446.26 1274.66,454.24 1275.04,467.22 1275.42,484.72 1275.80,506.12 1276.18,530.68 1276.56,557.57 1276.94,585.89 1277.32,614.78 1277.70,643.37 1278.08,670.91 1278.46,696.72 1278.84,720.28 1279.22,741.18 1279.60,759.19 1279.98,774.24 1280.36,786.38 1280.74,795.81 1281.12,802.80 1281.50,807.71 1281.88,810.93 1282.26,812.88 1282.64,813.91 1283.02,814.38 1283.40,814.53 1283.78,814.55 1284.16,814.54 1284.54,814.53 1284.92,814.49 1285.30,814.31 1285.68,813.82 1286.06,812.76 1286.44,810.80 1286.82,807.55 1287.20,802.62 1287.58,795.62 1287.96,786.18 1288.34,774.02 1288.72,758.96 1289.10,740.94 1289.48,720.04 1289.86,696.50 1290.24,670.69 1290.62,643.17 1291.00,614.59 1291.38,585.73 1291.76,557.43 1292.14,530.57 1292.52,506.04 1292.90,484.66 1293.28,467.18 1293.66,454.22 1294.04,446.25 1294.42,443.57 1294.80,446.25 1295.18,454.22 1295.56,467.18 1295.94,484.65 1296.32,506.02 1296.70,530.54 1297.08,557.38 1297.46,585.66 1297.84,614.50 1298.22,643.05 1298.60,670.54 1298.98,696.31 1299.36,719.82 1299.74,740.69 1300.12,758.68 1300.50,773.70 1300.88,785.82 1301.26,795.23 1301.64,802.21 1302.02,807.11 1302.40,810.33 1302.78,812.27 1303.16,813.31 1303.54,813.77 1303.92,813.93 1304.30,813.95 1304.68,813.94 1305.06,813.93 1305.44,813.88 1305.82,813.71 1306.20,813.22 1306.58,812.16 1306.96,810.20 1307.34,806.96 1307.72,802.04 1308.10,795.04 1308.48,785.62 1308.86,773.48 1309.24,758.45 1309.62,740.47 1310.00,719.61 1310.38,696.10 1310.76,670.34 1311.14,642.87 1311.52,614.33 1311.90,585.52 1312.28,557.26 1312.66,530.45 1313.04,505.95 1313.42,484.61 1313.80,467.15 1314.18,454.21 1314.56,446.25 1314.94,443.57 1315.32,446.25 1315.70,454.21 1316.08,467.15 1316.46,484.60 1316.84,505.95 1317.22,530.44 1317.60,557.25 1317.98,585.50 1318.36,614.31 1318.74,642.83 1319.12,670.30 1319.50,696.05 1319.88,719.54 1320.26,740.39 1320.64,758.37 1321.02,773.38 1321.40,785.50 1321.78,794.91 1322.16,801.89 1322.54,806.79 1322.92,810.02 1323.30,811.96 1323.68,813.01 1324.06,813.48 1324.44,813.64 1324.82,813.67 1325.20,813.67 1325.58,813.66 1325.96,813.63 1326.34,813.46 1326.72,812.98 1327.10,811.93 1327.48,809.98 1327.86,806.75 1328.24,801.84 1328.62,794.85 1329.00,785.44 1329.38,773.32 1329.76,758.30 1330.14,740.32 1330.52,719.47 1330.90,695.98 1331.28,670.23 1331.66,642.77 1332.04,614.25 1332.42,585.45 1332.80,557.21 1333.18,530.41 1333.56,505.92 1333.94,484.59 1334.32,467.14 1334.70,454.20 1335.08,446.25 1335.46,443.57 1335.84,446.25 1336.22,454.20 1336.60,467.14 1336.98,484.58 1337.36,505.92 1337.74,530.40 1338.12,557.19 1338.50,585.43 1338.88,614.22 1339.26,642.73 1339.64,670.19 1340.02,695.92 1340.40,719.41 1340.78,740.25 1341.16,758.21 1341.54,773.22 1341.92,785.33 1342.30,794.74 1342.68,801.71 1343.06,806.61 1343.44,809.84 1343.82,811.78 1344.20,812.83 1344.58,813.30 1344.96,813.46 1345.34,813.49 1345.72,813.49 1346.10,813.48 1346.48,813.45 1346.86,813.28 1347.24,812.80 1347.62,811.75 1348.00,809.80 1348.38,806.57 1348.76,801.66 1349.14,794.68 1349.52,785.28 1349.90,773.16 1350.28,758.16 1350.66,740.20 1351.04,719.36 1351.42,695.89 1351.80,670.17 1352.18,642.74 1352.56,614.25 1352.94,585.48 1353.32,557.27 1353.70,530.50 1354.08,506.05 1354.46,484.74 1354.84,467.33 1355.22,454.41 1355.60,446.48 1355.98,443.81 1356.36,446.50 1356.74,454.45 1357.12,467.38 1357.50,484.81 1357.88,506.13 1358.26,530.59 1358.64,557.35 1359.02,585.56 1359.40,614.32 1359.78,642.79 1360.16,670.21 1360.54,695.91 1360.92,719.36 1361.30,740.18 1361.68,758.12 1362.06,773.10 1362.44,785.20 1362.82,794.59 1363.20,801.55 1363.58,806.44 1363.96,809.66 1364.34,811.60 1364.72,812.65 1365.10,813.12 1365.48,813.28 1365.86,813.31 1366.24,813.31 1366.62,813.30 1367.00,813.26 1367.38,813.10 1367.76,812.62 1368.14,811.57 1368.52,809.62 1368.90,806.40 1369.28,801.50 1369.66,794.54 1370.04,785.15 1370.42,773.06 1370.80,758.08 1371.18,740.16 1371.56,719.37 1371.94,695.94 1372.32,670.27 1372.70,642.89 1373.08,614.46 1373.46,585.74 1373.84,557.59 1374.22,530.87 1374.60,506.47 1374.98,485.21 1375.36,467.82 1375.74,454.93 1376.12,447.01 1376.50,444.35 1376.88,447.03 1377.26,454.97 1377.64,467.88 1378.02,485.27 1378.40,506.55 1378.78,530.96 1379.16,557.67 1379.54,585.82 1379.92,614.52 1380.30,642.94 1380.68,670.31 1381.06,695.96 1381.44,719.37 1381.82,740.14 1382.20,758.04 1382.58,773.00 1382.96,785.07 1383.34,794.44 1383.72,801.39 1384.10,806.28 1384.48,809.49 1384.86,811.43 1385.24,812.47 1385.62,812.94 1386.00,813.10 1386.38,813.13 1386.76,813.12 1387.14,813.12 1387.52,813.08 1387.90,812.92 1388.28,812.44 1388.66,811.39 1389.04,809.45 1389.42,806.23 1389.80,801.34 1390.18,794.39 1390.56,785.02 1390.94,772.96 1391.32,758.01 1391.70,740.12 1392.08,719.37 1392.46,695.99 1392.84,670.37 1393.22,643.04 1393.60,614.66 1393.98,586.01 1394.36,557.91 1394.74,531.25 1395.12,506.89 1395.50,485.67 1395.88,468.31 1396.26,455.45 1396.64,447.55 1397.02,444.89 1397.40,447.57 1397.78,455.49 1398.16,468.37 1398.54,485.73 1398.92,506.97 1399.30,531.33 1399.68,557.99 1400.06,586.08 1400.44,614.73 1400.82,643.10 1401.20,670.41 1401.58,696.01 1401.96,719.37 1402.34,740.10 1402.72,757.97 1403.10,772.90 1403.48,784.94 1403.86,794.30 1404.24,801.23 1404.62,806.11 1405.00,809.31 1405.38,811.25 1405.76,812.29 1406.14,812.75 1406.52,812.91 1406.90,812.94 1407.28,812.94 1407.66,812.94 1408.04,812.90 1408.42,812.73 1408.80,812.26 1409.18,811.21 1409.56,809.28 1409.94,806.06 1410.32,801.19 1410.70,794.25 1411.08,784.90 1411.46,772.86 1411.84,757.94 1412.22,740.08 1412.60,719.37 1412.98,696.04 1413.36,670.47 1413.74,643.19 1414.12,614.87 1414.50,586.27 1414.88,558.23 1415.26,531.62 1415.64,507.31 1416.02,486.13 1416.40,468.81 1416.78,455.97 1417.16,448.08 1417.54,445.43 1417.92,448.10 1418.30,456.01 1418.68,468.86 1419.06,486.19 1419.44,507.39 1419.82,531.70 1420.20,558.31 1420.58,586.35 1420.96,614.94 1421.34,643.25 1421.72,670.51 1422.10,696.06 1422.48,719.37 1422.86,740.06 1423.24,757.90 1423.62,772.79 1424.00,784.82 1424.38,794.15 1424.76,801.07 1425.14,805.94 1425.52,809.14 1425.90,811.07 1426.28,812.11 1426.66,812.57 1427.04,812.73 1427.42,812.76 1427.80,812.76 1428.18,812.76 1428.56,812.72 1428.94,812.55 1429.32,812.08 1429.70,811.04 1430.08,809.10 1430.46,805.90 1430.84,801.03 1431.22,794.10 1431.60,784.77 1431.98,772.75 1432.36,757.86 1432.74,740.04 1433.12,719.37 1433.50,696.08 1433.88,670.56 1434.26,643.34 1434.64,615.08 1435.02,586.53 1435.40,558.55 1435.78,531.99 1436.16,507.73 1436.54,486.59 1436.92,469.30 1437.30,456.49 1437.68,448.62 1438.06,445.97 1438.44,448.64 1438.82,456.53 1439.20,469.36 1439.58,486.66 1439.96,507.80 1440.34,532.07 1440.72,558.63 1441.10,586.61 1441.48,615.15 1441.86,643.40 1442.24,670.60 1442.62,696.11 1443.00,719.37 1443.38,740.02 1443.76,757.82 1444.14,772.69 1444.52,784.69 1444.90,794.01 1445.28,800.92 1445.66,805.77 1446.04,808.96 1446.42,810.89 1446.80,811.93 1447.18,812.39 1447.56,812.55 1447.94,812.58 1448.32,812.58 1448.70,812.57 1449.08,812.54 1449.46,812.37 1449.84,811.90 1450.22,810.86 1450.60,808.93 1450.98,805.73 1451.36,800.87 1451.74,793.96 1452.12,784.64 1452.50,772.65 1452.88,757.79 1453.26,740.00 1453.64,719.37 1454.02,696.13 1454.40,670.66 1454.78,643.49 1455.16,615.29 1455.54,586.80 1455.92,558.86 1456.30,532.36 1456.68,508.15 1457.06,487.05 1457.44,469.80 1457.82,457.01 1458.20,449.16 1458.58,446.51 1458.96,449.17 1459.34,457.05 1459.72,469.85 1460.10,487.12 1460.48,508.22 1460.86,532.44 1461.24,558.95 1461.62,586.88 1462.00,615.35 1462.38,643.55 1462.76,670.70 1463.14,696.15 1463.52,719.38 1463.90,739.98 1464.28,757.75 1464.66,772.59 1465.04,784.56 1465.42,793.86 1465.80,800.76 1466.18,805.60 1466.56,808.79 1466.94,810.71 1467.32,811.74 1467.70,812.21 1468.08,812.37 1468.46,812.40 1468.84,812.40 1469.22,812.39 1469.60,812.36 1469.98,812.19 1470.36,811.72 1470.74,810.68 1471.12,808.75 1471.50,805.56 1471.88,800.71 1472.26,793.81 1472.64,784.52 1473.02,772.55 1473.40,757.72 1473.78,739.96 1474.16,719.38 1474.54,696.18 1474.92,670.76 1475.30,643.65 1475.68,615.49 1476.06,587.06 1476.44,559.18 1476.82,532.73 1477.20,508.57 1477.58,487.51 1477.96,470.29 1478.34,457.53 1478.72,449.69 1479.10,447.05 1479.48,449.71 1479.86,457.57 1480.24,470.35 1480.62,487.58 1481.00,508.64 1481.38,532.81 1481.76,559.27 1482.14,587.14 1482.52,615.56 1482.90,643.70 1483.28,670.80 1483.66,696.20 1484.04,719.38 1484.42,739.94 1484.80,757.67 1485.18,772.49 1485.56,784.44 1485.94,793.72 1486.32,800.60 1486.70,805.44 1487.08,808.62 1487.46,810.53 1487.84,811.56 1488.22,812.03 1488.60,812.19 1488.98,812.22 1489.36,812.22 1489.74,812.21 1490.12,812.17 1490.50,812.01 1490.88,811.54 1491.26,810.50 1491.64,808.58 1492.02,805.39 1492.40,800.55 1492.78,793.67 1493.16,784.39 1493.54,772.44 1493.92,757.64 1494.30,739.93 1494.68,719.38 1495.06,696.23 1495.44,670.86 1495.82,643.80 1496.20,615.70 1496.58,587.32 1496.96,559.50 1497.34,533.10 1497.72,508.98 1498.10,487.97 1498.48,470.79 1498.86,458.05 1499.24,450.23 1499.62,447.59 1499.99,450.25 1500.37,458.09 1500.75,470.84 1501.13,488.03 1501.51,509.05 1501.89,533.17 1502.27,559.57 1502.65,587.38 1503.03,615.74 1503.41,643.82 1503.79,670.86 1504.17,696.20 1504.55,719.32 1504.93,739.84 1505.31,757.53 1505.69,772.30 1506.07,784.22 1506.45,793.48 1506.83,800.34 1507.21,805.16 1507.59,808.33 1507.97,810.24 1508.35,811.26 1508.73,811.72 1509.11,811.87 1509.49,811.90 1509.87,811.89 1510.25,811.88 1510.63,811.84 1511.01,811.67 1511.39,811.20 1511.77,810.16 1512.15,808.24 1512.53,805.06 1512.91,800.22 1513.29,793.35 1513.67,784.09 1514.05,772.17 1514.43,757.40 1514.81,739.73 1515.19,719.23 1515.57,696.13 1515.95,670.83 1516.33,643.83 1516.71,615.81 1517.09,587.50 1517.47,559.75 1517.85,533.42 1518.23,509.36 1518.61,488.40 1518.99,471.27 1519.37,458.57 1519.75,450.76 1520.13,448.13 1520.51,450.78 1520.89,458.60 1521.27,471.32 1521.65,488.47 1522.03,509.43 1522.41,533.49 1522.79,559.81 1523.17,587.55 1523.55,615.84 1523.93,643.84 1524.31,670.81 1524.69,696.08 1525.07,719.14 1525.45,739.61 1525.83,757.25 1526.21,771.98 1526.59,783.87 1526.97,793.10 1527.35,799.95 1527.73,804.75 1528.11,807.92 1528.49,809.82 1528.87,810.84 1529.25,811.30 1529.63,811.45 1530.01,811.48 1530.39,811.47 1530.77,811.46 1531.15,811.42 1531.53,811.25 1531.91,810.78 1532.29,809.74 1532.67,807.82 1533.05,804.65 1533.43,799.83 1533.81,792.98 1534.19,783.74 1534.57,771.85 1534.95,757.12 1535.33,739.50 1535.71,719.05 1536.09,696.02 1536.47,670.78 1536.85,643.85 1537.23,615.90 1537.61,587.67 1537.99,559.99 1538.37,533.73 1538.75,509.74 1539.13,488.84 1539.51,471.75 1539.89,459.08 1540.27,451.29 1540.65,448.67 1541.03,451.31 1541.41,459.12 1541.79,471.80 1542.17,488.90 1542.55,509.81 1542.93,533.80 1543.31,560.06 1543.69,587.72 1544.07,615.93 1544.45,643.86 1544.83,670.76 1545.21,695.97 1545.59,718.96 1545.97,739.38 1546.35,756.97 1546.73,771.66 1547.11,783.52 1547.49,792.73 1547.87,799.55 1548.25,804.35 1548.63,807.50 1549.01,809.40 1549.39,810.42 1549.77,810.88 1550.15,811.03 1550.53,811.05 1550.91,811.05 1551.29,811.04 1551.67,811.00 1552.05,810.83 1552.43,810.36 1552.81,809.32 1553.19,807.41 1553.57,804.24 1553.95,799.44 1554.33,792.60 1554.71,783.39 1555.09,771.53 1555.47,756.84 1555.85,739.26 1556.23,718.87 1556.61,695.90 1556.99,670.73 1557.37,643.88 1557.75,616.00 1558.13,587.84 1558.51,560.24 1558.89,534.05 1559.27,510.12 1559.65,489.27 1560.03,472.22 1560.41,459.59 1560.79,451.83 1561.17,449.21 1561.55,451.85 1561.93,459.63 1562.31,472.28 1562.69,489.33 1563.07,510.19 1563.45,534.12 1563.83,560.30 1564.21,587.89 1564.59,616.03 1564.97,643.88 1565.35,670.71 1565.73,695.85 1566.11,718.79 1566.49,739.14 1566.87,756.69 1567.25,771.35 1567.63,783.17 1568.01,792.35 1568.39,799.16 1568.77,803.94 1569.15,807.09 1569.53,808.98 1569.91,810.00 1570.29,810.45 1570.67,810.60 1571.05,810.63 1571.43,810.62 1571.81,810.61 1572.19,810.57 1572.57,810.40 1572.95,809.93 1573.33,808.90 1573.71,806.99 1574.09,803.84 1574.47,799.04 1574.85,792.23 1575.23,783.04 1575.61,771.22 1575.99,756.56 1576.37,739.03 1576.75,718.69 1577.13,695.78 1577.51,670.68 1577.89,643.90 1578.27,616.09 1578.65,588.01 1579.03,560.48 1579.41,534.36 1579.79,510.50 1580.17,489.70 1580.55,472.70 1580.93,460.10 1581.31,452.36 1581.69,449.75 1582.07,452.38 1582.45,460.14 1582.83,472.76 1583.21,489.77 1583.59,510.57 1583.97,534.43 1584.35,560.55 1584.73,588.06 1585.11,616.12 1585.49,643.91 1585.87,670.66 1586.25,695.73 1586.63,718.61 1587.01,738.91 1587.39,756.41 1587.77,771.03 1588.15,782.82 1588.53,791.98 1588.91,798.77 1589.29,803.54 1589.67,806.67 1590.05,808.56 1590.43,809.57 1590.81,810.03 1591.19,810.18 1591.57,810.20 1591.95,810.20 1592.33,810.19 1592.71,810.15 1593.09,809.98 1593.47,809.51 1593.85,808.48 1594.23,806.58 1594.61,803.43 1594.99,798.65 1595.37,791.85 1595.75,782.69 1596.13,770.90 1596.51,756.28 1596.89,738.80 1597.27,718.52 1597.65,695.67 1598.03,670.63 1598.41,643.92 1598.79,616.19 1599.17,588.18 1599.55,560.73 1599.93,534.67 1600.31,510.87 1600.69,490.14 1601.07,473.18 1601.45,460.62 1601.83,452.89 1602.21,450.29 1602.59,452.91 1602.97,460.65 1603.35,473.24 1603.73,490.20 1604.11,510.94 1604.49,534.74 1604.87,560.79 1605.25,588.24 1605.63,616.22 1606.01,643.93 1606.39,670.61 1606.77,695.61 1607.15,718.43 1607.53,738.68 1607.91,756.13 1608.29,770.71 1608.67,782.47 1609.05,791.60 1609.43,798.37 1609.81,803.13 1610.19,806.26 1610.57,808.14 1610.95,809.15 1611.33,809.61 1611.71,809.76 1612.09,809.78 1612.47,809.78 1612.85,809.77 1613.23,809.73 1613.61,809.56 1613.99,809.09 1614.37,808.07 1614.75,806.17 1615.13,803.03 1615.51,798.26 1615.89,791.48 1616.27,782.34 1616.65,770.58 1617.03,756.00 1617.41,738.56 1617.79,718.34 1618.17,695.55 1618.55,670.58 1618.93,643.94 1619.31,616.28 1619.69,588.36 1620.07,560.97 1620.45,534.99 1620.83,511.25 1621.21,490.57 1621.59,473.66 1621.97,461.13 1622.35,453.43 1622.73,450.83 1623.11,453.45 1623.49,461.17 1623.87,473.71 1624.25,490.63 1624.63,511.32 1625.01,535.06 1625.39,561.04 1625.77,588.41 1626.15,616.32 1626.53,643.95 1626.91,670.56 1627.29,695.50 1627.67,718.25 1628.05,738.44 1628.43,755.85 1628.81,770.39 1629.19,782.12 1629.57,791.23 1629.95,797.98 1630.33,802.73 1630.71,805.84 1631.09,807.72 1631.47,808.73 1631.85,809.18 1632.23,809.33 1632.61,809.36 1632.99,809.35 1633.37,809.34 1633.75,809.30 1634.13,809.14 1634.51,808.67 1634.89,807.65 1635.27,805.75 1635.65,802.62 1636.03,797.86 1636.41,791.10 1636.79,781.99 1637.17,770.26 1637.55,755.73 1637.93,738.33 1638.31,718.16 1638.69,695.43 1639.07,670.53 1639.45,643.96 1639.83,616.38 1640.21,588.53 1640.59,561.22 1640.97,535.30 1641.35,511.63 1641.73,491.00 1642.11,474.14 1642.49,461.64 1642.87,453.96 1643.25,451.37 1643.63,453.98 1644.01,461.68 1644.39,474.19 1644.77,491.07 1645.15,511.70 1645.53,535.37 1645.91,561.28 1646.29,588.58 1646.67,616.41 1647.05,643.97 1647.43,670.51 1647.81,695.38 1648.19,718.07 1648.57,738.21 1648.95,755.57 1649.33,770.07 1649.71,781.77 1650.09,790.85 1650.47,797.59 1650.85,802.32 1651.23,805.43 1651.61,807.30 1651.99,808.31 1652.37,808.76 1652.75,808.91 1653.13,808.93 1653.51,808.93 1653.89,808.92 1654.27,808.88 1654.65,808.71 1655.03,808.25 1655.41,807.23 1655.79,805.34 1656.17,802.21 1656.55,797.47 1656.93,790.73 1657.31,781.64 1657.69,769.94 1658.07,755.45 1658.45,738.10 1658.83,717.98 1659.21,695.31 1659.59,670.48 1659.97,643.98 1660.35,616.48 1660.73,588.70 1661.11,561.46 1661.49,535.62 1661.87,512.01 1662.25,491.44 1662.63,474.62 1663.01,462.16 1663.39,454.49 1663.77,451.92 1664.15,454.51 1664.53,462.19 1664.91,474.67 1665.29,491.50 1665.67,512.08 1666.05,535.69 1666.43,561.52 1666.81,588.75 1667.19,616.51 1667.57,643.99 1667.95,670.46 1668.33,695.26 1668.71,717.89 1669.09,737.98 1669.47,755.29 1669.85,769.75 1670.23,781.42 1670.61,790.48 1670.99,797.19 1671.37,801.91 1671.75,805.02 1672.13,806.89 1672.51,807.89 1672.89,808.34 1673.27,808.49 1673.65,808.51 1674.03,808.50 1674.41,808.49 1674.79,808.45 1675.17,808.29 1675.55,807.82 1675.93,806.81 1676.31,804.92 1676.69,801.81 1677.07,797.08 1677.45,790.35 1677.83,781.29 1678.21,769.62 1678.59,755.17 1678.97,737.87 1679.35,717.80 1679.73,695.20 1680.11,670.43 1680.49,644.00 1680.87,616.57 1681.25,588.87 1681.63,561.71 1682.01,535.93 1682.39,512.39 1682.77,491.87 1683.15,475.10 1683.53,462.67 1683.91,455.03 1684.29,452.46 1684.67,455.05 1685.05,462.71 1685.43,475.15 1685.81,491.93 1686.19,512.46 1686.57,536.00 1686.95,561.77 1687.33,588.92 1687.71,616.60 1688.09,644.01 1688.47,670.40 1688.85,695.13 1689.23,717.70 1689.61,737.72 1689.99,754.98 1690.37,769.40 1690.75,781.03 1691.13,790.06 1691.51,796.75 1691.89,801.45 1692.27,804.54 1692.65,806.40 1693.03,807.39 1693.41,807.84 1693.79,807.98 1694.17,808.00 1694.55,807.99 1694.93,807.98 1695.31,807.93 1695.69,807.76 1696.07,807.29 1696.45,806.28 1696.83,804.39 1697.21,801.29 1697.59,796.56 1697.97,789.85 1698.35,780.82 1698.73,769.18 1699.11,754.76 1699.49,737.52 1699.87,717.51 1700.25,694.97 1700.63,670.28 1701.01,643.94 1701.39,616.59 1701.77,588.97 1702.15,561.90 1702.53,536.20 1702.91,512.73 1703.29,492.28 1703.67,475.57 1704.05,463.17 1704.43,455.56 1704.81,453.00 1705.19,455.58 1705.57,463.21 1705.95,475.62 1706.33,492.34 1706.71,512.80 1707.09,536.26 1707.47,561.94 1707.85,589.00 1708.23,616.58 1708.61,643.90 1708.99,670.20 1709.37,694.85 1709.75,717.34 1710.13,737.29 1710.51,754.50 1710.89,768.86 1711.27,780.46 1711.65,789.45 1712.03,796.12 1712.41,800.81 1712.79,803.89 1713.17,805.74 1713.55,806.73 1713.93,807.17 1714.31,807.32 1714.69,807.34 1715.07,807.32 1715.45,807.31 1715.83,807.27 1716.21,807.10 1716.59,806.63 1716.97,805.62 1717.35,803.74 1717.73,800.64 1718.11,795.94 1718.49,789.25 1718.87,780.24 1719.25,768.65 1719.63,754.28 1720.01,737.09 1720.39,717.15 1720.77,694.69 1721.15,670.08 1721.53,643.83 1721.91,616.57 1722.29,589.05 1722.67,562.07 1723.05,536.46 1723.43,513.07 1723.81,492.69 1724.19,476.03 1724.57,463.68 1724.95,456.09 1725.33,453.54 1725.71,456.11 1726.09,463.72 1726.47,476.08 1726.85,492.75 1727.23,513.13 1727.61,536.52 1727.99,562.11 1728.37,589.07 1728.75,616.57 1729.13,643.79 1729.51,670.00 1729.89,694.57 1730.27,716.98 1730.65,736.87 1731.03,754.01 1731.41,768.33 1731.79,779.88 1732.17,788.85 1732.55,795.50 1732.93,800.17 1733.31,803.23 1733.69,805.08 1734.07,806.07 1734.45,806.51 1734.83,806.65 1735.21,806.67 1735.59,806.66 1735.97,806.65 1736.35,806.60 1736.73,806.43 1737.11,805.97 1737.49,804.96 1737.87,803.09 1738.25,800.00 1738.63,795.31 1739.01,788.65 1739.39,779.67 1739.77,768.11 1740.15,753.79 1740.53,736.66 1740.91,716.79 1741.29,694.41 1741.67,669.88 1742.05,643.72 1742.43,616.56 1742.81,589.13 1743.19,562.24 1743.57,536.72 1743.95,513.41 1744.33,493.10 1744.71,476.49 1745.09,464.19 1745.47,456.62 1745.85,454.08 1746.23,456.64 1746.61,464.22 1746.99,476.54 1747.37,493.16 1747.75,513.47 1748.13,536.77 1748.51,562.28 1748.89,589.15 1749.27,616.55 1749.65,643.68 1750.03,669.80 1750.41,694.28 1750.79,716.62 1751.17,736.44 1751.55,753.52 1751.93,767.79 1752.31,779.31 1752.69,788.24 1753.07,794.87 1753.45,799.52 1753.83,802.58 1754.21,804.42 1754.59,805.40 1754.97,805.84 1755.35,805.98 1755.73,806.00 1756.11,805.99 1756.49,805.98 1756.87,805.93 1757.25,805.77 1757.63,805.30 1758.01,804.30 1758.39,802.43 1758.77,799.35 1759.15,794.68 1759.53,788.04 1759.91,779.10 1760.29,767.58 1760.67,753.31 1761.05,736.23 1761.43,716.43 1761.81,694.13 1762.19,669.68 1762.57,643.61 1762.95,616.54 1763.33,589.21 1763.71,562.41 1764.09,536.97 1764.47,513.74 1764.85,493.50 1765.23,476.96 1765.61,464.69 1765.99,457.15 1766.37,454.62 1766.75,457.17 1767.13,464.73 1767.51,477.01 1767.89,493.56 1768.27,513.81 1768.65,537.03 1769.03,562.45 1769.41,589.23 1769.79,616.54 1770.17,643.57 1770.55,669.60 1770.93,694.00 1771.31,716.26 1771.69,736.01 1772.07,753.04 1772.45,767.26 1772.83,778.73 1773.21,787.64 1773.59,794.24 1773.97,798.88 1774.35,801.92 1774.73,803.76 1775.11,804.74 1775.49,805.18 1775.87,805.32 1776.25,805.34 1776.63,805.33 1777.01,805.31 1777.39,805.27 1777.77,805.10 1778.15,804.64 1778.53,803.64 1778.91,801.78 1779.29,798.71 1779.67,794.05 1780.05,787.44 1780.43,778.52 1780.81,767.04 1781.19,752.82 1781.57,735.81 1781.95,716.07 1782.33,693.84 1782.71,669.48 1783.09,643.50 1783.47,616.53 1783.85,589.28 1784.23,562.58 1784.61,537.23 1784.99,514.08 1785.37,493.91 1785.75,477.42 1786.13,465.20 1786.51,457.69 1786.89,455.16 1787.27,457.71 1787.65,465.24 1788.03,477.47 1788.41,493.97 1788.79,514.14 1789.17,537.29 1789.55,562.62 1789.93,589.31 1790.31,616.52 1790.69,643.46 1791.07,669.40 1791.45,693.72 1791.83,715.90 1792.21,735.59 1792.59,752.55 1792.97,766.72 1793.35,778.16 1793.73,787.03 1794.11,793.61 1794.49,798.23 1794.87,801.27 1795.25,803.10 1795.63,804.07 1796.01,804.51 1796.39,804.65 1796.77,804.67 1797.15,804.66 1797.53,804.65 1797.91,804.60 1798.29,804.44 1798.67,803.98 1799.05,802.98 1799.43,801.12 1799.81,798.07 1800.19,793.43 1800.57,786.83 1800.95,777.95 1801.33,766.51 1801.71,752.34 1802.09,735.38 1802.47,715.72 1802.85,693.56 1803.23,669.29 1803.61,643.39 1803.99,616.51 1804.37,589.36 1804.75,562.75 1805.13,537.49 1805.51,514.42 1805.89,494.32 1806.27,477.88 1806.65,465.70 1807.03,458.22 1807.41,455.70 1807.79,458.24 1808.17,465.74 1808.55,477.94 1808.93,494.38 1809.31,514.48 1809.69,537.55 1810.07,562.79 1810.45,589.38 1810.83,616.50 1811.21,643.35 1811.59,669.20 1811.97,693.44 1812.35,715.54 1812.73,735.16 1813.11,752.07 1813.49,766.19 1813.87,777.59 1814.25,786.43 1814.63,792.99 1815.01,797.59 1815.39,800.62 1815.77,802.44 1816.15,803.41 1816.53,803.85 1816.91,803.99 1817.29,804.01 1817.67,804.00 1818.05,803.98 1818.43,803.94 1818.81,803.77 1819.19,803.31 1819.57,802.32 1819.95,800.47 1820.33,797.42 1820.71,792.80 1821.09,786.23 1821.47,777.37 1821.85,765.97 1822.23,751.85 1822.61,734.95 1822.99,715.36 1823.37,693.28 1823.75,669.09 1824.13,643.28 1824.51,616.49 1824.89,589.44 1825.27,562.92 1825.65,537.75 1826.03,514.76 1826.41,494.72 1826.79,478.35 1827.17,466.21 1827.55,458.75 1827.93,456.24 1828.31,458.77 1828.69,466.25 1829.07,478.40 1829.45,494.78 1829.83,514.82 1830.21,537.80 1830.59,562.96 1830.97,589.46 1831.35,616.49 1831.73,643.24 1832.11,669.01 1832.49,693.15 1832.87,715.18 1833.25,734.73 1833.63,751.58 1834.01,765.66 1834.39,777.01 1834.77,785.82 1835.15,792.36 1835.53,796.95 1835.91,799.96 1836.29,801.78 1836.67,802.75 1837.05,803.18 1837.43,803.32 1837.81,803.34 1838.19,803.33 1838.57,803.32 1838.95,803.27 1839.33,803.11 1839.71,802.65 1840.09,801.65 1840.47,799.82 1840.85,796.78 1841.23,792.17 1841.61,785.62 1841.99,776.80 1842.37,765.44 1842.75,751.37 1843.13,734.53 1843.51,715.00 1843.89,693.00 1844.27,668.89 1844.65,643.17 1845.03,616.48 1845.41,589.52 1845.79,563.09 1846.17,538.00 1846.55,515.09 1846.93,495.13 1847.31,478.81 1847.69,466.72 1848.07,459.28 1848.45,456.78 1848.83,459.30 1849.21,466.75 1849.59,478.86 1849.97,495.19 1850.35,515.16 1850.73,538.06 1851.11,563.13 1851.49,589.54 1851.87,616.47 1852.25,643.13 1852.63,668.81 1853.01,692.87 1853.39,714.82 1853.77,734.31 1854.15,751.10 1854.53,765.12 1854.91,776.44 1855.29,785.22 1855.67,791.73 1856.05,796.30 1856.43,799.31 1856.81,801.12 1857.19,802.08 1857.57,802.51 1857.95,802.66 1858.33,802.67 1858.71,802.66 1859.09,802.65 1859.47,802.61 1859.85,802.44 1860.23,801.98 1860.61,800.99 1860.99,799.16 1861.37,796.14 1861.75,791.54 1862.13,785.02 1862.51,776.23 1862.89,764.90 1863.27,750.88 1863.65,734.10 1864.03,714.64 1864.41,692.71 1864.79,668.69 1865.17,643.07 1865.55,616.46 1865.93,589.60 1866.31,563.26 1866.69,538.26 1867.07,515.43 1867.45,495.54 1867.83,479.27 1868.21,467.22 1868.59,459.81 1868.97,457.32 1869.35,459.83 1869.73,467.26 1870.11,479.33 1870.49,495.60 1870.87,515.49 1871.25,538.32 1871.63,563.30 1872.01,589.62 1872.39,616.46 1872.77,643.03 1873.15,668.61 1873.53,692.59 1873.91,714.47 1874.29,733.88 1874.67,750.61 1875.05,764.59 1875.43,775.86 1875.81,784.61 1876.00,788.12"/>
</g>
<polygon fill="#9400d3" points="1310.4,386.8 1310.4,395.8 1319.4,395.8"/>
<polygon fill="#9400d3" points="1360.5,387.2 1360.5,396.2 1351.5,396.2"/>
<polygon fill="#9400d3" points="1741.4,402.4 1741.4,411.4 1750.4,411.4"/>
<polygon fill="#9400d3" points="1791.4,404.0 1791.4,413.0 1782.4,413.0"/>
<polygon fill="#9400d3" points="1811.9,404.8 1811.9,413.8 1802.9,413.8"/>
<polygon fill="#56b4e9" points="1271.0,438.9 1271.0,444.9 1276.8,444.9"/>
<polygon fill="#56b4e9" points="1291.5,438.9 1291.5,444.9 1297.3,444.9"/>
<polygon fill="#56b4e9" points="1701.9,448.3 1701.9,454.3 1707.7,454.3"/>
<polygon fill="#56b4e9" points="1722.4,448.8 1722.4,454.8 1728.2,454.8"/>
<polygon fill="#56b4e9" points="1763.5,449.9 1763.5,455.9 1769.3,455.9"/>
<polygon fill="#56b4e9" points="1789.8,450.5 1789.8,456.5 1784.0,456.5"/>
<rect x="1120.0" y="259.0" width="756.0" height="557.6" fill="none" stroke="#000" stroke-width="4"/>
<text class="t" transform="translate(348.8 87.8) scale(1 1.04)" text-anchor="end">1</text>
<text class="t" transform="translate(348.8 276.9) scale(1 1.04)" text-anchor="end">0.8</text>
<text class="t" transform="translate(348.8 466.0) scale(1 1.04)" text-anchor="end">0.6</text>
<text class="t" transform="translate(348.8 655.0) scale(1 1.04)" text-anchor="end">0.4</text>
<text class="t" transform="translate(348.8 844.1) scale(1 1.04)" text-anchor="end">0.2</text>
<text class="t" transform="translate(348.8 1033.2) scale(1 1.04)" text-anchor="end">0</text>
<text class="t" transform="translate(348.8 1222.2) scale(1 1.04)" text-anchor="end"><tspan dy="6.2">−</tspan><tspan dy="-6.2">0.2</tspan></text>
<text class="t" transform="translate(348.8 1411.3) scale(1 1.04)" text-anchor="end"><tspan dy="6.2">−</tspan><tspan dy="-6.2">0.4</tspan></text>
<text class="t" transform="translate(383.6 1489.3) scale(0.982 1.04)">0</text>
<text class="t" transform="translate(667.7 1489.3) scale(0.982 1.04)">50</text>
<text class="t" transform="translate(951.9 1489.3) scale(0.982 1.04)">100</text>
<text class="t" transform="translate(1257.8 1489.3) scale(0.982 1.04)">150</text>
<text class="t" transform="translate(1563.6 1489.3) scale(0.982 1.04)">200</text>
<text class="t" transform="translate(1869.5 1489.3) scale(0.982 1.04)">250</text>
<text class="t" transform="translate(2175.3 1489.3) scale(0.982 1.04)">300</text>
<text class="t" transform="translate(1073.6 286.4) scale(1 1.04)" text-anchor="end">0.01</text>
<text class="t" transform="translate(1073.6 397.9) scale(1 1.04)" text-anchor="end">0.008</text>
<text class="t" transform="translate(1073.6 509.4) scale(1 1.04)" text-anchor="end">0.006</text>
<text class="t" transform="translate(1073.6 621.0) scale(1 1.04)" text-anchor="end">0.004</text>
<text class="t" transform="translate(1073.6 732.5) scale(1 1.04)" text-anchor="end">0.002</text>
<text class="t" transform="translate(1073.6 844.0) scale(1 1.04)" text-anchor="end">0</text>
<text class="t" transform="translate(1108.8 922.5) scale(0.982 1.04)">0</text>
<text class="t" transform="translate(1276.2 922.5) scale(0.982 1.04)">50</text>
<text class="t" transform="translate(1443.5 922.5) scale(0.982 1.04)">100</text>
<text class="t" transform="translate(1632.5 922.5) scale(0.982 1.04)">150</text>
<text class="t" transform="translate(1821.5 922.5) scale(0.982 1.04)">200</text>
<text class="t" transform="translate(1227.0 1608.0) scale(1 1)">t [ps]</text>
<g transform="translate(110.5 791.9) rotate(-90)">
<text class="t" x="0" y="0" transform="translate(10.4 0) scale(0.8 1) translate(-10.4 0)">|</text>
<text class="t" x="20.8" y="-1.2" transform="translate(23 0) scale(1.146 1.04) translate(-23.8 0)" style="font-family:'Liberation Serif','DejaVu Serif',serif">α</text>
<text class="s" x="69.3" y="23">j</text>
<text class="t" x="84" y="0" transform="translate(94.4 0) scale(0.8 1) translate(-94.4 0)">|</text>
<text class="s" x="104.8" y="-40">2</text>
</g>
<text class="k" transform="translate(583.0 1200.3) scale(1 1.05)" text-anchor="end">DQ1</text>
<line x1="625.5" y1="1174.5" x2="829.0" y2="1174.5" stroke="#000000" stroke-width="9"/>
<text class="k" transform="translate(583.0 1275.3) scale(1 1.05)" text-anchor="end">JQF1</text>
<line x1="625.5" y1="1249.5" x2="829.0" y2="1249.5" stroke="#e51e10" stroke-width="9"/>
<text class="k" transform="translate(583.0 1351.3) scale(1 1.05)" text-anchor="end">DQ2</text>
<line x1="625.5" y1="1325.5" x2="829.0" y2="1325.5" stroke="#9400d3" stroke-width="9"/>
<text class="k" transform="translate(1237.9 1200.3) scale(1 1.05)" text-anchor="end">JQF2</text>
<line x1="1281.0" y1="1174.5" x2="1483.0" y2="1174.5" stroke="#009e73" stroke-width="9"/>
<text class="k" transform="translate(1237.9 1275.3) scale(1 1.05)" text-anchor="end">DQ12</text>
<line x1="1281.0" y1="1249.5" x2="1483.0" y2="1249.5" stroke="#56b4e9" stroke-width="9"/>
<text class="k" transform="translate(1237.9 1351.3) scale(1 1.05)" text-anchor="end">JQF12</text>
<line x1="1281.0" y1="1325.5" x2="1483.0" y2="1325.5" stroke="#e69f00" stroke-width="9"/>
<text class="k" transform="translate(1892.8 1200.3) scale(1 1.05)" text-anchor="end">DQ1, wd</text>
<line x1="1935.0" y1="1174.5" x2="2138.0" y2="1174.5" stroke="#000000" stroke-width="9" stroke-dasharray="14.5 18.4"/>
<text class="k" transform="translate(1892.8 1275.3) scale(1 1.05)" text-anchor="end">JQF1, wd</text>
<line x1="1935.0" y1="1249.5" x2="2138.0" y2="1249.5" stroke="#e51e10" stroke-width="9" stroke-dasharray="14.5 18.4"/>
</svg></body></html>
